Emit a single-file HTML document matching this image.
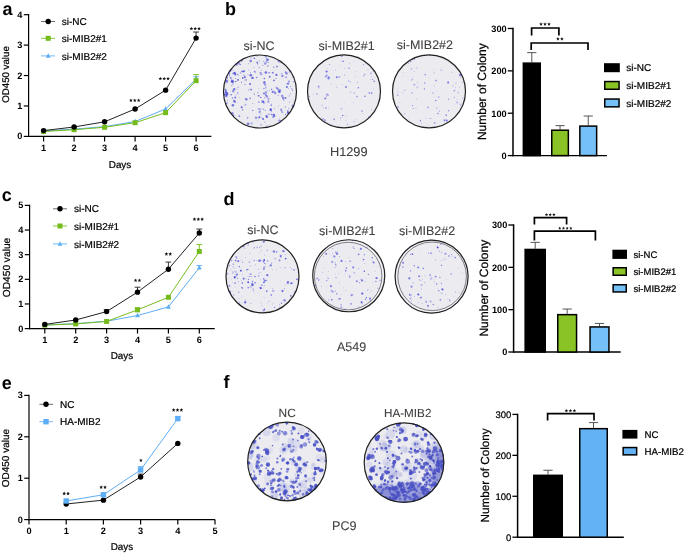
<!DOCTYPE html>
<html><head><meta charset="utf-8"><style>
html,body{margin:0;padding:0;background:#fff;}
svg{display:block;font-family:"Liberation Sans", sans-serif;will-change:transform;text-rendering:geometricPrecision;}
</style></head><body>
<svg width="685" height="553" viewBox="0 0 685 553">
<rect width="685" height="553" fill="#fff"/>
<line x1="28.6" y1="14.08" x2="28.6" y2="137" stroke="#000" stroke-width="1.2" />
<line x1="28" y1="136.4" x2="211.35" y2="136.4" stroke="#000" stroke-width="1.2" />
<line x1="23.8" y1="136.4" x2="28.6" y2="136.4" stroke="#000" stroke-width="1.2" />
<text x="22.4" y="139.4" font-size="9.2" text-anchor="end" font-weight="bold" fill="#000" >0</text>
<line x1="23.8" y1="105.97" x2="28.6" y2="105.97" stroke="#000" stroke-width="1.2" />
<text x="22.4" y="108.97" font-size="9.2" text-anchor="end" font-weight="bold" fill="#000" >1</text>
<line x1="23.8" y1="75.54" x2="28.6" y2="75.54" stroke="#000" stroke-width="1.2" />
<text x="22.4" y="78.54" font-size="9.2" text-anchor="end" font-weight="bold" fill="#000" >2</text>
<line x1="23.8" y1="45.11" x2="28.6" y2="45.11" stroke="#000" stroke-width="1.2" />
<text x="22.4" y="48.11" font-size="9.2" text-anchor="end" font-weight="bold" fill="#000" >3</text>
<line x1="23.8" y1="14.68" x2="28.6" y2="14.68" stroke="#000" stroke-width="1.2" />
<text x="22.4" y="17.68" font-size="9.2" text-anchor="end" font-weight="bold" fill="#000" >4</text>
<line x1="43.6" y1="136.4" x2="43.6" y2="141.4" stroke="#000" stroke-width="1.2" />
<text x="43.6" y="150.8" font-size="9.2" text-anchor="middle" font-weight="bold" fill="#000" >1</text>
<line x1="74.1" y1="136.4" x2="74.1" y2="141.4" stroke="#000" stroke-width="1.2" />
<text x="74.1" y="150.8" font-size="9.2" text-anchor="middle" font-weight="bold" fill="#000" >2</text>
<line x1="104.6" y1="136.4" x2="104.6" y2="141.4" stroke="#000" stroke-width="1.2" />
<text x="104.6" y="150.8" font-size="9.2" text-anchor="middle" font-weight="bold" fill="#000" >3</text>
<line x1="135.1" y1="136.4" x2="135.1" y2="141.4" stroke="#000" stroke-width="1.2" />
<text x="135.1" y="150.8" font-size="9.2" text-anchor="middle" font-weight="bold" fill="#000" >4</text>
<line x1="165.6" y1="136.4" x2="165.6" y2="141.4" stroke="#000" stroke-width="1.2" />
<text x="165.6" y="150.8" font-size="9.2" text-anchor="middle" font-weight="bold" fill="#000" >5</text>
<line x1="196.1" y1="136.4" x2="196.1" y2="141.4" stroke="#000" stroke-width="1.2" />
<text x="196.1" y="150.8" font-size="9.2" text-anchor="middle" font-weight="bold" fill="#000" >6</text>
<text x="120" y="167.8" font-size="9.9" text-anchor="middle" font-weight="normal" fill="#000" stroke="#000" stroke-width="0.22" >Days</text>
<text transform="translate(9.2,74.5) rotate(-90)" font-size="9.7" text-anchor="middle" stroke="#000" stroke-width="0.22">OD450 value</text>
<polyline points="43.6,130.92 74.1,129.1 104.6,126.66 135.1,121.49 165.6,109.01 196.1,79.19" fill="none" stroke="#5eaef5" stroke-width="1"/>
<line x1="196.1" y1="79.19" x2="196.1" y2="76.76" stroke="#5eaef5" stroke-width="0.9" />
<line x1="193.2" y1="76.76" x2="199" y2="76.76" stroke="#5eaef5" stroke-width="0.9" />
<path d="M43.6 128.19L46 132.75L41.2 132.75Z" fill="#5eaef5"/>
<path d="M74.1 126.36L76.5 130.92L71.7 130.92Z" fill="#5eaef5"/>
<path d="M104.6 123.93L107 128.49L102.2 128.49Z" fill="#5eaef5"/>
<path d="M135.1 118.75L137.5 123.31L132.7 123.31Z" fill="#5eaef5"/>
<path d="M165.6 106.28L168 110.84L163.2 110.84Z" fill="#5eaef5"/>
<path d="M196.1 76.46L198.5 81.02L193.7 81.02Z" fill="#5eaef5"/>
<polyline points="43.6,131.53 74.1,129.71 104.6,127.27 135.1,122.71 165.6,112.66 196.1,80.71" fill="none" stroke="#76bb1c" stroke-width="1"/>
<line x1="196.1" y1="80.71" x2="196.1" y2="74.63" stroke="#76bb1c" stroke-width="0.9" />
<line x1="193.2" y1="74.63" x2="199" y2="74.63" stroke="#76bb1c" stroke-width="0.9" />
<rect x="41.1" y="129.03" width="5" height="5" fill="#76bb1c"/>
<rect x="71.6" y="127.21" width="5" height="5" fill="#76bb1c"/>
<rect x="102.1" y="124.77" width="5" height="5" fill="#76bb1c"/>
<rect x="132.6" y="120.21" width="5" height="5" fill="#76bb1c"/>
<rect x="163.1" y="110.16" width="5" height="5" fill="#76bb1c"/>
<rect x="193.6" y="78.21" width="5" height="5" fill="#76bb1c"/>
<polyline points="43.6,130.62 74.1,126.97 104.6,121.79 135.1,109.01 165.6,90.15 196.1,38.11" fill="none" stroke="#222" stroke-width="1"/>
<line x1="196.1" y1="38.11" x2="196.1" y2="32.03" stroke="#222" stroke-width="0.9" />
<line x1="193.2" y1="32.03" x2="199" y2="32.03" stroke="#222" stroke-width="0.9" />
<circle cx="43.6" cy="130.62" r="2.7" fill="#000"/>
<circle cx="74.1" cy="126.97" r="2.7" fill="#000"/>
<circle cx="104.6" cy="121.79" r="2.7" fill="#000"/>
<circle cx="135.1" cy="109.01" r="2.7" fill="#000"/>
<circle cx="165.6" cy="90.15" r="2.7" fill="#000"/>
<circle cx="196.1" cy="38.11" r="2.7" fill="#000"/>
<path d="M130.95 98.40L131.47 99.64L132.80 99.75L131.78 100.62L132.10 101.93L130.95 101.23L129.80 101.93L130.12 100.62L129.10 99.75L130.43 99.64ZM134.80 98.40L135.32 99.64L136.65 99.75L135.63 100.62L135.95 101.93L134.80 101.23L133.65 101.93L133.97 100.62L132.95 99.75L134.28 99.64ZM138.65 98.40L139.17 99.64L140.50 99.75L139.48 100.62L139.80 101.93L138.65 101.23L137.50 101.93L137.82 100.62L136.80 99.75L138.13 99.64Z" fill="#111"/>
<path d="M160.35 76.70L160.87 77.94L162.20 78.05L161.18 78.92L161.50 80.23L160.35 79.53L159.20 80.23L159.52 78.92L158.50 78.05L159.83 77.94ZM164.20 76.70L164.72 77.94L166.05 78.05L165.03 78.92L165.35 80.23L164.20 79.53L163.05 80.23L163.37 78.92L162.35 78.05L163.68 77.94ZM168.05 76.70L168.57 77.94L169.90 78.05L168.88 78.92L169.20 80.23L168.05 79.53L166.90 80.23L167.22 78.92L166.20 78.05L167.53 77.94Z" fill="#111"/>
<path d="M191.35 26.70L191.87 27.94L193.20 28.05L192.18 28.92L192.50 30.23L191.35 29.53L190.20 30.23L190.52 28.92L189.50 28.05L190.83 27.94ZM195.20 26.70L195.72 27.94L197.05 28.05L196.03 28.92L196.35 30.23L195.20 29.53L194.05 30.23L194.37 28.92L193.35 28.05L194.68 27.94ZM199.05 26.70L199.57 27.94L200.90 28.05L199.88 28.92L200.20 30.23L199.05 29.53L197.90 30.23L198.22 28.92L197.20 28.05L198.53 27.94Z" fill="#111"/>
<line x1="41" y1="21.5" x2="55" y2="21.5" stroke="#555" stroke-width="0.85" />
<circle cx="48.2" cy="21.5" r="2.7" fill="#000"/>
<text x="61.8" y="25.1" font-size="10" text-anchor="start" font-weight="normal" fill="#000" stroke="#000" stroke-width="0.22" >si-NC</text>
<line x1="41" y1="38.3" x2="55" y2="38.3" stroke="#76bb1c" stroke-width="0.85" />
<rect x="45.7" y="35.8" width="5" height="5" fill="#76bb1c"/>
<text x="61.8" y="41.9" font-size="10" text-anchor="start" font-weight="normal" fill="#000" stroke="#000" stroke-width="0.22" >si-MIB2#1</text>
<line x1="41" y1="55.9" x2="55" y2="55.9" stroke="#5eaef5" stroke-width="0.85" />
<path d="M48.2 53.16L50.6 57.72L45.8 57.72Z" fill="#5eaef5"/>
<text x="61.8" y="59.5" font-size="10" text-anchor="start" font-weight="normal" fill="#000" stroke="#000" stroke-width="0.22" >si-MIB2#2</text>
<line x1="29.6" y1="204.8" x2="29.6" y2="329.2" stroke="#000" stroke-width="1.2" />
<line x1="29" y1="328.6" x2="214.75" y2="328.6" stroke="#000" stroke-width="1.2" />
<line x1="24.8" y1="328.6" x2="29.6" y2="328.6" stroke="#000" stroke-width="1.2" />
<text x="23.4" y="331.6" font-size="9.2" text-anchor="end" font-weight="bold" fill="#000" >0</text>
<line x1="24.8" y1="303.96" x2="29.6" y2="303.96" stroke="#000" stroke-width="1.2" />
<text x="23.4" y="306.96" font-size="9.2" text-anchor="end" font-weight="bold" fill="#000" >1</text>
<line x1="24.8" y1="279.32" x2="29.6" y2="279.32" stroke="#000" stroke-width="1.2" />
<text x="23.4" y="282.32" font-size="9.2" text-anchor="end" font-weight="bold" fill="#000" >2</text>
<line x1="24.8" y1="254.68" x2="29.6" y2="254.68" stroke="#000" stroke-width="1.2" />
<text x="23.4" y="257.68" font-size="9.2" text-anchor="end" font-weight="bold" fill="#000" >3</text>
<line x1="24.8" y1="230.04" x2="29.6" y2="230.04" stroke="#000" stroke-width="1.2" />
<text x="23.4" y="233.04" font-size="9.2" text-anchor="end" font-weight="bold" fill="#000" >4</text>
<line x1="24.8" y1="205.4" x2="29.6" y2="205.4" stroke="#000" stroke-width="1.2" />
<text x="23.4" y="208.4" font-size="9.2" text-anchor="end" font-weight="bold" fill="#000" >5</text>
<line x1="44.8" y1="328.6" x2="44.8" y2="333.6" stroke="#000" stroke-width="1.2" />
<text x="44.8" y="343" font-size="9.2" text-anchor="middle" font-weight="bold" fill="#000" >1</text>
<line x1="75.7" y1="328.6" x2="75.7" y2="333.6" stroke="#000" stroke-width="1.2" />
<text x="75.7" y="343" font-size="9.2" text-anchor="middle" font-weight="bold" fill="#000" >2</text>
<line x1="106.6" y1="328.6" x2="106.6" y2="333.6" stroke="#000" stroke-width="1.2" />
<text x="106.6" y="343" font-size="9.2" text-anchor="middle" font-weight="bold" fill="#000" >3</text>
<line x1="137.5" y1="328.6" x2="137.5" y2="333.6" stroke="#000" stroke-width="1.2" />
<text x="137.5" y="343" font-size="9.2" text-anchor="middle" font-weight="bold" fill="#000" >4</text>
<line x1="168.4" y1="328.6" x2="168.4" y2="333.6" stroke="#000" stroke-width="1.2" />
<text x="168.4" y="343" font-size="9.2" text-anchor="middle" font-weight="bold" fill="#000" >5</text>
<line x1="199.3" y1="328.6" x2="199.3" y2="333.6" stroke="#000" stroke-width="1.2" />
<text x="199.3" y="343" font-size="9.2" text-anchor="middle" font-weight="bold" fill="#000" >6</text>
<text x="121.9" y="358.6" font-size="9.9" text-anchor="middle" font-weight="normal" fill="#000" stroke="#000" stroke-width="0.22" >Days</text>
<text transform="translate(10.1,267.5) rotate(-90)" font-size="10.2" text-anchor="middle" stroke="#000" stroke-width="0.22">OD450 value</text>
<polyline points="44.8,324.9 75.7,323.67 106.6,321.21 137.5,315.54 168.4,306.92 199.3,267.74" fill="none" stroke="#5eaef5" stroke-width="1"/>
<line x1="199.3" y1="267.74" x2="199.3" y2="265.52" stroke="#5eaef5" stroke-width="0.9" />
<line x1="196.4" y1="265.52" x2="202.2" y2="265.52" stroke="#5eaef5" stroke-width="0.9" />
<path d="M44.8 322.17L47.2 326.73L42.4 326.73Z" fill="#5eaef5"/>
<path d="M75.7 320.94L78.1 325.5L73.3 325.5Z" fill="#5eaef5"/>
<path d="M106.6 318.47L109 323.03L104.2 323.03Z" fill="#5eaef5"/>
<path d="M137.5 312.8L139.9 317.36L135.1 317.36Z" fill="#5eaef5"/>
<path d="M168.4 304.18L170.8 308.74L166 308.74Z" fill="#5eaef5"/>
<path d="M199.3 265L201.7 269.56L196.9 269.56Z" fill="#5eaef5"/>
<polyline points="44.8,325.15 75.7,323.92 106.6,321.45 137.5,309.87 168.4,297.31 199.3,251.48" fill="none" stroke="#76bb1c" stroke-width="1"/>
<line x1="137.5" y1="309.87" x2="137.5" y2="307.9" stroke="#76bb1c" stroke-width="0.9" />
<line x1="134.6" y1="307.9" x2="140.4" y2="307.9" stroke="#76bb1c" stroke-width="0.9" />
<line x1="199.3" y1="251.48" x2="199.3" y2="244.58" stroke="#76bb1c" stroke-width="0.9" />
<line x1="196.4" y1="244.58" x2="202.2" y2="244.58" stroke="#76bb1c" stroke-width="0.9" />
<rect x="42.3" y="322.65" width="5" height="5" fill="#76bb1c"/>
<rect x="73.2" y="321.42" width="5" height="5" fill="#76bb1c"/>
<rect x="104.1" y="318.95" width="5" height="5" fill="#76bb1c"/>
<rect x="135" y="307.37" width="5" height="5" fill="#76bb1c"/>
<rect x="165.9" y="294.81" width="5" height="5" fill="#76bb1c"/>
<rect x="196.8" y="248.98" width="5" height="5" fill="#76bb1c"/>
<polyline points="44.8,324.41 75.7,319.98 106.6,311.6 137.5,292.13 168.4,269.22 199.3,233" fill="none" stroke="#222" stroke-width="1"/>
<line x1="106.6" y1="311.6" x2="106.6" y2="309.63" stroke="#222" stroke-width="0.9" />
<line x1="103.7" y1="309.63" x2="109.5" y2="309.63" stroke="#222" stroke-width="0.9" />
<line x1="137.5" y1="292.13" x2="137.5" y2="287.2" stroke="#222" stroke-width="0.9" />
<line x1="134.6" y1="287.2" x2="140.4" y2="287.2" stroke="#222" stroke-width="0.9" />
<line x1="168.4" y1="269.22" x2="168.4" y2="262.07" stroke="#222" stroke-width="0.9" />
<line x1="165.5" y1="262.07" x2="171.3" y2="262.07" stroke="#222" stroke-width="0.9" />
<line x1="199.3" y1="233" x2="199.3" y2="229.05" stroke="#222" stroke-width="0.9" />
<line x1="196.4" y1="229.05" x2="202.2" y2="229.05" stroke="#222" stroke-width="0.9" />
<circle cx="44.8" cy="324.41" r="2.7" fill="#000"/>
<circle cx="75.7" cy="319.98" r="2.7" fill="#000"/>
<circle cx="106.6" cy="311.6" r="2.7" fill="#000"/>
<circle cx="137.5" cy="292.13" r="2.7" fill="#000"/>
<circle cx="168.4" cy="269.22" r="2.7" fill="#000"/>
<circle cx="199.3" cy="233" r="2.7" fill="#000"/>
<path d="M135.57 278.40L136.09 279.64L137.43 279.75L136.41 280.62L136.72 281.93L135.57 281.23L134.43 281.93L134.74 280.62L133.72 279.75L135.06 279.64ZM139.42 278.40L139.94 279.64L141.28 279.75L140.26 280.62L140.57 281.93L139.42 281.23L138.28 281.93L138.59 280.62L137.57 279.75L138.91 279.64Z" fill="#111"/>
<path d="M166.38 252.10L166.89 253.34L168.23 253.45L167.21 254.32L167.52 255.63L166.38 254.93L165.23 255.63L165.54 254.32L164.52 253.45L165.86 253.34ZM170.22 252.10L170.74 253.34L172.08 253.45L171.06 254.32L171.37 255.63L170.22 254.93L169.08 255.63L169.39 254.32L168.37 253.45L169.71 253.34Z" fill="#111"/>
<path d="M194.45 217.30L194.97 218.54L196.30 218.65L195.28 219.52L195.60 220.83L194.45 220.13L193.30 220.83L193.62 219.52L192.60 218.65L193.93 218.54ZM198.30 217.30L198.82 218.54L200.15 218.65L199.13 219.52L199.45 220.83L198.30 220.13L197.15 220.83L197.47 219.52L196.45 218.65L197.78 218.54ZM202.15 217.30L202.67 218.54L204.00 218.65L202.98 219.52L203.30 220.83L202.15 220.13L201.00 220.83L201.32 219.52L200.30 218.65L201.63 218.54Z" fill="#111"/>
<line x1="53" y1="208.8" x2="67" y2="208.8" stroke="#555" stroke-width="0.85" />
<circle cx="60" cy="208.8" r="2.7" fill="#000"/>
<text x="74" y="212.4" font-size="10" text-anchor="start" font-weight="normal" fill="#000" stroke="#000" stroke-width="0.22" >si-NC</text>
<line x1="53" y1="226" x2="67" y2="226" stroke="#76bb1c" stroke-width="0.85" />
<rect x="57.5" y="223.5" width="5" height="5" fill="#76bb1c"/>
<text x="74" y="229.6" font-size="10" text-anchor="start" font-weight="normal" fill="#000" stroke="#000" stroke-width="0.22" >si-MIB2#1</text>
<line x1="53" y1="243.9" x2="67" y2="243.9" stroke="#5eaef5" stroke-width="0.85" />
<path d="M60 241.16L62.4 245.72L57.6 245.72Z" fill="#5eaef5"/>
<text x="74" y="247.5" font-size="10" text-anchor="start" font-weight="normal" fill="#000" stroke="#000" stroke-width="0.22" >si-MIB2#2</text>
<line x1="29" y1="394.8" x2="29" y2="520.2" stroke="#000" stroke-width="1.2" />
<line x1="28.4" y1="519.6" x2="215" y2="519.6" stroke="#000" stroke-width="1.2" />
<line x1="24.2" y1="519.6" x2="29" y2="519.6" stroke="#000" stroke-width="1.2" />
<text x="22.8" y="522.6" font-size="9.2" text-anchor="end" font-weight="bold" fill="#000" >0</text>
<line x1="24.2" y1="478.2" x2="29" y2="478.2" stroke="#000" stroke-width="1.2" />
<text x="22.8" y="481.2" font-size="9.2" text-anchor="end" font-weight="bold" fill="#000" >1</text>
<line x1="24.2" y1="436.8" x2="29" y2="436.8" stroke="#000" stroke-width="1.2" />
<text x="22.8" y="439.8" font-size="9.2" text-anchor="end" font-weight="bold" fill="#000" >2</text>
<line x1="24.2" y1="395.4" x2="29" y2="395.4" stroke="#000" stroke-width="1.2" />
<text x="22.8" y="398.4" font-size="9.2" text-anchor="end" font-weight="bold" fill="#000" >3</text>
<line x1="29" y1="519.6" x2="29" y2="524.6" stroke="#000" stroke-width="1.2" />
<text x="29" y="534" font-size="9.2" text-anchor="middle" font-weight="bold" fill="#000" >0</text>
<line x1="66.2" y1="519.6" x2="66.2" y2="524.6" stroke="#000" stroke-width="1.2" />
<text x="66.2" y="534" font-size="9.2" text-anchor="middle" font-weight="bold" fill="#000" >1</text>
<line x1="103.4" y1="519.6" x2="103.4" y2="524.6" stroke="#000" stroke-width="1.2" />
<text x="103.4" y="534" font-size="9.2" text-anchor="middle" font-weight="bold" fill="#000" >2</text>
<line x1="140.6" y1="519.6" x2="140.6" y2="524.6" stroke="#000" stroke-width="1.2" />
<text x="140.6" y="534" font-size="9.2" text-anchor="middle" font-weight="bold" fill="#000" >3</text>
<line x1="177.8" y1="519.6" x2="177.8" y2="524.6" stroke="#000" stroke-width="1.2" />
<text x="177.8" y="534" font-size="9.2" text-anchor="middle" font-weight="bold" fill="#000" >4</text>
<line x1="215" y1="519.6" x2="215" y2="524.6" stroke="#000" stroke-width="1.2" />
<text x="215" y="534" font-size="9.2" text-anchor="middle" font-weight="bold" fill="#000" >5</text>
<text x="121.9" y="549.7" font-size="9.9" text-anchor="middle" font-weight="normal" fill="#000" stroke="#000" stroke-width="0.22" >Days</text>
<text transform="translate(9.2,458.1) rotate(-90)" font-size="10" text-anchor="middle" stroke="#000" stroke-width="0.22">OD450 value</text>
<polyline points="66.2,503.99 103.4,500.14 140.6,476.96 177.8,443.42" fill="none" stroke="#222" stroke-width="1"/>
<line x1="140.6" y1="476.96" x2="140.6" y2="474.06" stroke="#222" stroke-width="0.9" />
<line x1="137.7" y1="474.06" x2="143.5" y2="474.06" stroke="#222" stroke-width="0.9" />
<circle cx="66.2" cy="503.99" r="2.7" fill="#000"/>
<circle cx="103.4" cy="500.14" r="2.7" fill="#000"/>
<circle cx="140.6" cy="476.96" r="2.7" fill="#000"/>
<circle cx="177.8" cy="443.42" r="2.7" fill="#000"/>
<polyline points="66.2,500.97 103.4,494.76 140.6,469.92 177.8,418.58" fill="none" stroke="#5eaef5" stroke-width="1"/>
<line x1="140.6" y1="469.92" x2="140.6" y2="466.61" stroke="#5eaef5" stroke-width="0.9" />
<line x1="137.7" y1="466.61" x2="143.5" y2="466.61" stroke="#5eaef5" stroke-width="0.9" />
<line x1="177.8" y1="418.58" x2="177.8" y2="416.51" stroke="#5eaef5" stroke-width="0.9" />
<line x1="174.9" y1="416.51" x2="180.7" y2="416.51" stroke="#5eaef5" stroke-width="0.9" />
<rect x="63.5" y="498.27" width="5.4" height="5.4" fill="#5eaef5"/>
<rect x="100.7" y="492.06" width="5.4" height="5.4" fill="#5eaef5"/>
<rect x="137.9" y="467.22" width="5.4" height="5.4" fill="#5eaef5"/>
<rect x="175.1" y="415.88" width="5.4" height="5.4" fill="#5eaef5"/>
<path d="M64.17 491.60L64.69 492.84L66.03 492.95L65.01 493.82L65.32 495.13L64.17 494.43L63.03 495.13L63.34 493.82L62.32 492.95L63.66 492.84ZM68.02 491.60L68.54 492.84L69.88 492.95L68.86 493.82L69.17 495.13L68.02 494.43L66.88 495.13L67.19 493.82L66.17 492.95L67.51 492.84Z" fill="#111"/>
<path d="M101.17 485.30L101.69 486.54L103.03 486.65L102.01 487.52L102.32 488.83L101.17 488.13L100.03 488.83L100.34 487.52L99.32 486.65L100.66 486.54ZM105.02 485.30L105.54 486.54L106.88 486.65L105.86 487.52L106.17 488.83L105.02 488.13L103.88 488.83L104.19 487.52L103.17 486.65L104.51 486.54Z" fill="#111"/>
<path d="M140.90 458.40L141.42 459.64L142.75 459.75L141.73 460.62L142.05 461.93L140.90 461.23L139.75 461.93L140.07 460.62L139.05 459.75L140.38 459.64Z" fill="#111"/>
<path d="M173.65 408.10L174.17 409.34L175.50 409.45L174.48 410.32L174.80 411.63L173.65 410.93L172.50 411.63L172.82 410.32L171.80 409.45L173.13 409.34ZM177.50 408.10L178.02 409.34L179.35 409.45L178.33 410.32L178.65 411.63L177.50 410.93L176.35 411.63L176.67 410.32L175.65 409.45L176.98 409.34ZM181.35 408.10L181.87 409.34L183.20 409.45L182.18 410.32L182.50 411.63L181.35 410.93L180.20 411.63L180.52 410.32L179.50 409.45L180.83 409.34Z" fill="#111"/>
<line x1="39.4" y1="404.3" x2="53" y2="404.3" stroke="#555" stroke-width="0.85" />
<circle cx="46" cy="404.3" r="2.7" fill="#000"/>
<text x="60" y="407.9" font-size="10" text-anchor="start" font-weight="normal" fill="#000" stroke="#000" stroke-width="0.22" >NC</text>
<line x1="39.4" y1="421.7" x2="53" y2="421.7" stroke="#5eaef5" stroke-width="0.85" />
<rect x="43.3" y="419" width="5.4" height="5.4" fill="#5eaef5"/>
<text x="60" y="425.3" font-size="10" text-anchor="start" font-weight="normal" fill="#000" stroke="#000" stroke-width="0.22" >HA-MIB2</text>
<line x1="513" y1="27.79" x2="513" y2="156.3" stroke="#000" stroke-width="1.5" />
<line x1="512.3" y1="155.6" x2="607" y2="155.6" stroke="#000" stroke-width="1.4" />
<line x1="507.8" y1="155.6" x2="513" y2="155.6" stroke="#000" stroke-width="1.3" />
<text x="506.7" y="158.9" font-size="9.2" text-anchor="end" font-weight="bold" fill="#000" >0</text>
<line x1="507.8" y1="113.23" x2="513" y2="113.23" stroke="#000" stroke-width="1.3" />
<text x="506.7" y="116.53" font-size="9.2" text-anchor="end" font-weight="bold" fill="#000" >100</text>
<line x1="507.8" y1="70.86" x2="513" y2="70.86" stroke="#000" stroke-width="1.3" />
<text x="506.7" y="74.16" font-size="9.2" text-anchor="end" font-weight="bold" fill="#000" >200</text>
<line x1="507.8" y1="28.49" x2="513" y2="28.49" stroke="#000" stroke-width="1.3" />
<text x="506.7" y="31.79" font-size="9.2" text-anchor="end" font-weight="bold" fill="#000" >300</text>
<line x1="531.8" y1="62.39" x2="531.8" y2="52.64" stroke="#555" stroke-width="1" />
<line x1="527.2" y1="52.64" x2="536.4" y2="52.64" stroke="#555" stroke-width="1" />
<rect x="523.35" y="63.14" width="16.9" height="92.46" fill="#000" stroke="#000" stroke-width="1.5"/>
<line x1="560.05" y1="129.46" x2="560.05" y2="125.64" stroke="#555" stroke-width="1" />
<line x1="555.45" y1="125.64" x2="564.65" y2="125.64" stroke="#555" stroke-width="1" />
<rect x="551.75" y="130.21" width="16.6" height="25.39" fill="#8ac326" stroke="#000" stroke-width="1.5"/>
<line x1="588.25" y1="125.35" x2="588.25" y2="116.03" stroke="#555" stroke-width="1" />
<line x1="583.65" y1="116.03" x2="592.85" y2="116.03" stroke="#555" stroke-width="1" />
<rect x="579.85" y="126.1" width="16.8" height="29.5" fill="#74c0f7" stroke="#000" stroke-width="1.5"/>
<path d="M531.6 35.6V28H558.9V35.6" fill="none" stroke="#000" stroke-width="1.7"/>
<path d="M541.00 22.30L541.49 23.48L542.76 23.58L541.79 24.41L542.09 25.65L541.00 24.98L539.91 25.65L540.21 24.41L539.24 23.58L540.51 23.48ZM545.00 22.30L545.49 23.48L546.76 23.58L545.79 24.41L546.09 25.65L545.00 24.98L543.91 25.65L544.21 24.41L543.24 23.58L544.51 23.48ZM549.00 22.30L549.49 23.48L550.76 23.58L549.79 24.41L550.09 25.65L549.00 24.98L547.91 25.65L548.21 24.41L547.24 23.58L548.51 23.48Z" fill="#111"/>
<path d="M531.2 50V43H588V50" fill="none" stroke="#000" stroke-width="1.7"/>
<path d="M557.90 37.10L558.39 38.28L559.66 38.38L558.69 39.21L558.99 40.45L557.90 39.78L556.81 40.45L557.11 39.21L556.14 38.38L557.41 38.28ZM561.90 37.10L562.39 38.28L563.66 38.38L562.69 39.21L562.99 40.45L561.90 39.78L560.81 40.45L561.11 39.21L560.14 38.38L561.41 38.28Z" fill="#111"/>
<rect x="604.75" y="63.95" width="14.3" height="7.5" fill="#000" stroke="#000" stroke-width="1.5"/>
<text x="626.3" y="71.3" font-size="10" text-anchor="start" font-weight="normal" fill="#000" stroke="#000" stroke-width="0.22" >si-NC</text>
<rect x="604.75" y="81.55" width="14.3" height="7.7" fill="#8ac326" stroke="#000" stroke-width="1.5"/>
<text x="626.3" y="89.1" font-size="10" text-anchor="start" font-weight="normal" fill="#000" stroke="#000" stroke-width="0.22" >si-MIB2#1</text>
<rect x="604.75" y="99.05" width="14.3" height="7.8" fill="#74c0f7" stroke="#000" stroke-width="1.5"/>
<text x="626.3" y="106.7" font-size="10" text-anchor="start" font-weight="normal" fill="#000" stroke="#000" stroke-width="0.22" >si-MIB2#2</text>
<text transform="translate(485.8,91.7) rotate(-90)" font-size="12" text-anchor="middle" stroke="#000" stroke-width="0.22">Number of Colony</text>
<line x1="513.6" y1="224.31" x2="513.6" y2="352.7" stroke="#000" stroke-width="1.5" />
<line x1="512.9" y1="352" x2="620.7" y2="352" stroke="#000" stroke-width="1.4" />
<line x1="508.4" y1="352" x2="513.6" y2="352" stroke="#000" stroke-width="1.3" />
<text x="507.3" y="355.3" font-size="9.2" text-anchor="end" font-weight="bold" fill="#000" >0</text>
<line x1="508.4" y1="309.67" x2="513.6" y2="309.67" stroke="#000" stroke-width="1.3" />
<text x="507.3" y="312.97" font-size="9.2" text-anchor="end" font-weight="bold" fill="#000" >100</text>
<line x1="508.4" y1="267.34" x2="513.6" y2="267.34" stroke="#000" stroke-width="1.3" />
<text x="507.3" y="270.64" font-size="9.2" text-anchor="end" font-weight="bold" fill="#000" >200</text>
<line x1="508.4" y1="225.01" x2="513.6" y2="225.01" stroke="#000" stroke-width="1.3" />
<text x="507.3" y="228.31" font-size="9.2" text-anchor="end" font-weight="bold" fill="#000" >300</text>
<line x1="535.2" y1="248.71" x2="535.2" y2="242.37" stroke="#555" stroke-width="1" />
<line x1="530.6" y1="242.37" x2="539.8" y2="242.37" stroke="#555" stroke-width="1" />
<rect x="525.15" y="249.46" width="20.1" height="102.54" fill="#000" stroke="#000" stroke-width="1.5"/>
<line x1="567.15" y1="313.9" x2="567.15" y2="309.04" stroke="#555" stroke-width="1" />
<line x1="562.55" y1="309.04" x2="571.75" y2="309.04" stroke="#555" stroke-width="1" />
<rect x="557.75" y="314.65" width="18.8" height="37.35" fill="#8ac326" stroke="#000" stroke-width="1.5"/>
<line x1="599.5" y1="326.18" x2="599.5" y2="323.43" stroke="#555" stroke-width="1" />
<line x1="594.9" y1="323.43" x2="604.1" y2="323.43" stroke="#555" stroke-width="1" />
<rect x="590.05" y="326.93" width="18.9" height="25.07" fill="#74c0f7" stroke="#000" stroke-width="1.5"/>
<path d="M534.4 224.4V217.6H566.6V224.4" fill="none" stroke="#000" stroke-width="1.7"/>
<path d="M546.50 212.95L546.95 214.03L548.12 214.12L547.23 214.89L547.50 216.03L546.50 215.41L545.50 216.03L545.77 214.89L544.88 214.12L546.05 214.03ZM550.20 212.95L550.65 214.03L551.82 214.12L550.93 214.89L551.20 216.03L550.20 215.41L549.20 216.03L549.47 214.89L548.58 214.12L549.75 214.03ZM553.90 212.95L554.35 214.03L555.52 214.12L554.63 214.89L554.90 216.03L553.90 215.41L552.90 216.03L553.17 214.89L552.28 214.12L553.45 214.03Z" fill="#111"/>
<path d="M534.4 240.6V231.1H595.4V240.6" fill="none" stroke="#000" stroke-width="1.7"/>
<path d="M559.75 226.55L560.20 227.63L561.37 227.72L560.48 228.49L560.75 229.63L559.75 229.01L558.75 229.63L559.02 228.49L558.13 227.72L559.30 227.63ZM563.45 226.55L563.90 227.63L565.07 227.72L564.18 228.49L564.45 229.63L563.45 229.01L562.45 229.63L562.72 228.49L561.83 227.72L563.00 227.63ZM567.15 226.55L567.60 227.63L568.77 227.72L567.88 228.49L568.15 229.63L567.15 229.01L566.15 229.63L566.42 228.49L565.53 227.72L566.70 227.63ZM570.85 226.55L571.30 227.63L572.47 227.72L571.58 228.49L571.85 229.63L570.85 229.01L569.85 229.63L570.12 228.49L569.23 227.72L570.40 227.63Z" fill="#111"/>
<rect x="613.15" y="250.45" width="13.1" height="7.7" fill="#000" stroke="#000" stroke-width="1.5"/>
<text x="633.5" y="258" font-size="9.5" text-anchor="start" font-weight="normal" fill="#000" stroke="#000" stroke-width="0.22" >si-NC</text>
<rect x="613.15" y="267.75" width="13.1" height="7.5" fill="#8ac326" stroke="#000" stroke-width="1.5"/>
<text x="633.5" y="275.1" font-size="9.5" text-anchor="start" font-weight="normal" fill="#000" stroke="#000" stroke-width="0.22" >si-MIB2#1</text>
<rect x="613.15" y="284.75" width="13.1" height="7.2" fill="#74c0f7" stroke="#000" stroke-width="1.5"/>
<text x="633.5" y="291.8" font-size="9.5" text-anchor="start" font-weight="normal" fill="#000" stroke="#000" stroke-width="0.22" >si-MIB2#2</text>
<text transform="translate(488,288.2) rotate(-90)" font-size="12" text-anchor="middle" stroke="#000" stroke-width="0.22">Number of Colony</text>
<line x1="517.6" y1="413.71" x2="517.6" y2="537.9" stroke="#000" stroke-width="1.5" />
<line x1="516.9" y1="537.2" x2="623.8" y2="537.2" stroke="#000" stroke-width="1.4" />
<line x1="512.4" y1="537.2" x2="517.6" y2="537.2" stroke="#000" stroke-width="1.3" />
<text x="511.3" y="540.5" font-size="9.5" text-anchor="end" font-weight="normal" fill="#000" stroke="#000" stroke-width="0.22" >0</text>
<line x1="512.4" y1="496.27" x2="517.6" y2="496.27" stroke="#000" stroke-width="1.3" />
<text x="511.3" y="499.57" font-size="9.5" text-anchor="end" font-weight="normal" fill="#000" stroke="#000" stroke-width="0.22" >100</text>
<line x1="512.4" y1="455.34" x2="517.6" y2="455.34" stroke="#000" stroke-width="1.3" />
<text x="511.3" y="458.64" font-size="9.5" text-anchor="end" font-weight="normal" fill="#000" stroke="#000" stroke-width="0.22" >200</text>
<line x1="512.4" y1="414.41" x2="517.6" y2="414.41" stroke="#000" stroke-width="1.3" />
<text x="511.3" y="417.71" font-size="9.5" text-anchor="end" font-weight="normal" fill="#000" stroke="#000" stroke-width="0.22" >300</text>
<line x1="548" y1="474.58" x2="548" y2="470.28" stroke="#555" stroke-width="1" />
<line x1="543.4" y1="470.28" x2="552.6" y2="470.28" stroke="#555" stroke-width="1" />
<rect x="533.75" y="475.33" width="28.5" height="61.87" fill="#000" stroke="#000" stroke-width="1.5"/>
<line x1="593.5" y1="427.92" x2="593.5" y2="422.6" stroke="#555" stroke-width="1" />
<line x1="588.9" y1="422.6" x2="598.1" y2="422.6" stroke="#555" stroke-width="1" />
<rect x="579.75" y="428.67" width="27.5" height="108.53" fill="#63b2f5" stroke="#000" stroke-width="1.5"/>
<path d="M547.6 420.4V413.6H594V420.4" fill="none" stroke="#000" stroke-width="1.7"/>
<path d="M566.40 408.90L566.89 410.08L568.16 410.18L567.19 411.01L567.49 412.25L566.40 411.58L565.31 412.25L565.61 411.01L564.64 410.18L565.91 410.08ZM570.40 408.90L570.89 410.08L572.16 410.18L571.19 411.01L571.49 412.25L570.40 411.58L569.31 412.25L569.61 411.01L568.64 410.18L569.91 410.08ZM574.40 408.90L574.89 410.08L576.16 410.18L575.19 411.01L575.49 412.25L574.40 411.58L573.31 412.25L573.61 411.01L572.64 410.18L573.91 410.08Z" fill="#111"/>
<rect x="623.15" y="430.65" width="13.5" height="7.2" fill="#000" stroke="#000" stroke-width="1.5"/>
<text x="644.5" y="437.7" font-size="9.7" text-anchor="start" font-weight="normal" fill="#000" stroke="#000" stroke-width="0.22" >NC</text>
<rect x="623.15" y="447.55" width="13.5" height="7.3" fill="#63b2f5" stroke="#000" stroke-width="1.5"/>
<text x="644.5" y="454.7" font-size="9.7" text-anchor="start" font-weight="normal" fill="#000" stroke="#000" stroke-width="0.22" >HA-MIB2</text>
<text transform="translate(488.6,475.4) rotate(-90)" font-size="11.7" text-anchor="middle" stroke="#000" stroke-width="0.22">Number of Colony</text>
<defs><filter id="bl4" x="-20%" y="-20%" width="140%" height="140%"><feGaussianBlur stdDeviation="3"/></filter></defs>
<text x="259" y="50" font-size="12.5" text-anchor="middle" font-weight="normal" fill="#404040" stroke="#404040" stroke-width="0.08" >si-NC</text>
<text x="346.6" y="50" font-size="12.5" text-anchor="middle" font-weight="normal" fill="#404040" stroke="#404040" stroke-width="0.08" >si-MIB2#1</text>
<text x="424.9" y="49" font-size="12.5" text-anchor="middle" font-weight="normal" fill="#404040" stroke="#404040" stroke-width="0.08" >si-MIB2#2</text>
<text x="348.75" y="155.8" font-size="12.8" text-anchor="middle" font-weight="normal" fill="#404040" stroke="#404040" stroke-width="0.08" >H1299</text>
<clipPath id="c1"><circle cx="260" cy="91.5" r="37"/></clipPath>
<circle cx="260" cy="91.5" r="37" fill="#ebebf0"/>
<g clip-path="url(#c1)">
<g>
<circle cx="259.2" cy="117.5" r="0.83" fill="#4d4dd8" fill-opacity="0.76"/>
<circle cx="259.6" cy="117.4" r="0.67" fill="#4d4dd8" fill-opacity="0.76"/>
<circle cx="265.8" cy="92.6" r="1.24" fill="#4d4dd8" fill-opacity="0.53"/>
<circle cx="254.4" cy="94.5" r="0.62" fill="#4d4dd8" fill-opacity="0.60"/>
<circle cx="262.1" cy="108.7" r="0.53" fill="#4d4dd8" fill-opacity="0.33"/>
<circle cx="232.2" cy="81.2" r="1.34" fill="#4d4dd8" fill-opacity="0.80"/>
<circle cx="232.7" cy="81.7" r="1.17" fill="#4d4dd8" fill-opacity="0.80"/>
<circle cx="274.9" cy="69.9" r="0.45" fill="#4d4dd8" fill-opacity="0.46"/>
<circle cx="246.8" cy="99.4" r="0.89" fill="#4d4dd8" fill-opacity="0.70"/>
<circle cx="237.0" cy="88.5" r="0.45" fill="#4d4dd8" fill-opacity="0.34"/>
<circle cx="288.3" cy="88.5" r="0.48" fill="#4d4dd8" fill-opacity="0.60"/>
<circle cx="237.9" cy="79.7" r="0.72" fill="#4d4dd8" fill-opacity="0.86"/>
<circle cx="238.2" cy="80.2" r="0.57" fill="#4d4dd8" fill-opacity="0.86"/>
<circle cx="238.2" cy="79.7" r="0.52" fill="#4d4dd8" fill-opacity="0.86"/>
<circle cx="245.0" cy="84.5" r="0.66" fill="#4d4dd8" fill-opacity="0.52"/>
<circle cx="254.0" cy="93.1" r="0.48" fill="#4d4dd8" fill-opacity="0.65"/>
<circle cx="264.1" cy="93.9" r="0.96" fill="#4d4dd8" fill-opacity="0.46"/>
<circle cx="263.9" cy="93.2" r="0.54" fill="#4d4dd8" fill-opacity="0.46"/>
<circle cx="264.2" cy="93.4" r="0.59" fill="#4d4dd8" fill-opacity="0.46"/>
<circle cx="254.0" cy="67.3" r="0.65" fill="#4d4dd8" fill-opacity="0.33"/>
<circle cx="245.9" cy="99.1" r="1.18" fill="#4d4dd8" fill-opacity="0.61"/>
<circle cx="233.7" cy="70.9" r="0.45" fill="#4d4dd8" fill-opacity="0.40"/>
<circle cx="267.9" cy="66.1" r="0.83" fill="#4d4dd8" fill-opacity="0.54"/>
<circle cx="247.3" cy="118.0" r="0.53" fill="#4d4dd8" fill-opacity="0.86"/>
<circle cx="248.1" cy="123.7" r="1.24" fill="#4d4dd8" fill-opacity="0.74"/>
<circle cx="290.6" cy="86.4" r="0.58" fill="#4d4dd8" fill-opacity="0.51"/>
<circle cx="248.8" cy="69.9" r="0.46" fill="#4d4dd8" fill-opacity="0.69"/>
<circle cx="264.0" cy="88.6" r="0.55" fill="#4d4dd8" fill-opacity="0.87"/>
<circle cx="278.7" cy="61.1" r="1.15" fill="#4d4dd8" fill-opacity="0.70"/>
<circle cx="272.2" cy="72.6" r="0.53" fill="#4d4dd8" fill-opacity="0.81"/>
<circle cx="293.4" cy="81.6" r="0.72" fill="#4d4dd8" fill-opacity="0.38"/>
<circle cx="293.8" cy="82.0" r="0.60" fill="#4d4dd8" fill-opacity="0.38"/>
<circle cx="239.9" cy="110.9" r="0.46" fill="#4d4dd8" fill-opacity="0.47"/>
<circle cx="227.3" cy="77.5" r="0.52" fill="#4d4dd8" fill-opacity="0.76"/>
<circle cx="290.2" cy="93.9" r="0.46" fill="#4d4dd8" fill-opacity="0.82"/>
<circle cx="290.6" cy="93.8" r="0.25" fill="#4d4dd8" fill-opacity="0.82"/>
<circle cx="288.2" cy="112.8" r="1.30" fill="#4d4dd8" fill-opacity="0.83"/>
<circle cx="259.5" cy="117.0" r="0.83" fill="#4d4dd8" fill-opacity="0.34"/>
<circle cx="259.2" cy="117.2" r="0.57" fill="#4d4dd8" fill-opacity="0.34"/>
<circle cx="259.2" cy="116.5" r="0.72" fill="#4d4dd8" fill-opacity="0.34"/>
<circle cx="295.8" cy="84.6" r="0.49" fill="#4d4dd8" fill-opacity="0.67"/>
<circle cx="258.4" cy="118.7" r="0.50" fill="#4d4dd8" fill-opacity="0.37"/>
<circle cx="237.7" cy="63.4" r="0.53" fill="#4d4dd8" fill-opacity="0.50"/>
<circle cx="280.0" cy="62.8" r="0.55" fill="#4d4dd8" fill-opacity="0.62"/>
<circle cx="244.9" cy="81.1" r="0.50" fill="#4d4dd8" fill-opacity="0.36"/>
<circle cx="251.6" cy="123.4" r="1.12" fill="#4d4dd8" fill-opacity="0.41"/>
<circle cx="269.1" cy="72.7" r="0.69" fill="#4d4dd8" fill-opacity="0.83"/>
<circle cx="259.3" cy="60.8" r="0.62" fill="#4d4dd8" fill-opacity="0.41"/>
<circle cx="250.8" cy="75.3" r="1.29" fill="#4d4dd8" fill-opacity="0.77"/>
<circle cx="227.0" cy="82.7" r="0.59" fill="#4d4dd8" fill-opacity="0.51"/>
<circle cx="289.4" cy="96.0" r="0.74" fill="#4d4dd8" fill-opacity="0.35"/>
<circle cx="268.5" cy="101.5" r="1.07" fill="#4d4dd8" fill-opacity="0.54"/>
<circle cx="246.4" cy="79.9" r="0.70" fill="#4d4dd8" fill-opacity="0.60"/>
<circle cx="261.9" cy="117.5" r="0.50" fill="#4d4dd8" fill-opacity="0.55"/>
<circle cx="289.6" cy="71.9" r="0.83" fill="#4d4dd8" fill-opacity="0.35"/>
<circle cx="290.1" cy="71.5" r="0.67" fill="#4d4dd8" fill-opacity="0.35"/>
<circle cx="290.1" cy="71.7" r="0.64" fill="#4d4dd8" fill-opacity="0.35"/>
<circle cx="288.9" cy="69.6" r="0.48" fill="#4d4dd8" fill-opacity="0.46"/>
<circle cx="230.8" cy="77.9" r="0.87" fill="#4d4dd8" fill-opacity="0.72"/>
<circle cx="226.5" cy="103.5" r="0.58" fill="#4d4dd8" fill-opacity="0.77"/>
<circle cx="270.8" cy="109.7" r="1.19" fill="#4d4dd8" fill-opacity="0.86"/>
<circle cx="270.6" cy="108.9" r="0.74" fill="#4d4dd8" fill-opacity="0.86"/>
<circle cx="270.3" cy="110.1" r="0.60" fill="#4d4dd8" fill-opacity="0.86"/>
<circle cx="269.0" cy="114.3" r="0.80" fill="#4d4dd8" fill-opacity="0.66"/>
<circle cx="265.3" cy="110.5" r="0.52" fill="#4d4dd8" fill-opacity="0.65"/>
<circle cx="286.9" cy="87.0" r="1.11" fill="#4d4dd8" fill-opacity="0.75"/>
<circle cx="245.4" cy="104.7" r="1.04" fill="#4d4dd8" fill-opacity="0.39"/>
<circle cx="225.1" cy="81.3" r="1.30" fill="#4d4dd8" fill-opacity="0.40"/>
<circle cx="241.5" cy="82.4" r="0.56" fill="#4d4dd8" fill-opacity="0.62"/>
<circle cx="241.4" cy="82.2" r="0.37" fill="#4d4dd8" fill-opacity="0.62"/>
<circle cx="266.3" cy="61.6" r="0.83" fill="#4d4dd8" fill-opacity="0.53"/>
<circle cx="279.5" cy="92.0" r="1.15" fill="#4d4dd8" fill-opacity="0.78"/>
<circle cx="238.2" cy="87.2" r="0.59" fill="#4d4dd8" fill-opacity="0.56"/>
<circle cx="285.7" cy="72.3" r="0.95" fill="#4d4dd8" fill-opacity="0.68"/>
<circle cx="242.8" cy="78.0" r="0.90" fill="#4d4dd8" fill-opacity="0.81"/>
<circle cx="279.5" cy="119.1" r="0.65" fill="#4d4dd8" fill-opacity="0.35"/>
<circle cx="259.2" cy="67.5" r="0.84" fill="#4d4dd8" fill-opacity="0.33"/>
<circle cx="289.0" cy="81.3" r="0.88" fill="#4d4dd8" fill-opacity="0.66"/>
<circle cx="269.1" cy="125.1" r="0.46" fill="#4d4dd8" fill-opacity="0.79"/>
<circle cx="263.1" cy="119.0" r="1.01" fill="#4d4dd8" fill-opacity="0.81"/>
<circle cx="245.0" cy="77.0" r="0.97" fill="#4d4dd8" fill-opacity="0.76"/>
<circle cx="226.8" cy="103.8" r="0.78" fill="#4d4dd8" fill-opacity="0.47"/>
<circle cx="239.4" cy="116.1" r="0.91" fill="#4d4dd8" fill-opacity="0.72"/>
<circle cx="278.3" cy="105.9" r="0.46" fill="#4d4dd8" fill-opacity="0.42"/>
<circle cx="278.6" cy="105.7" r="0.24" fill="#4d4dd8" fill-opacity="0.42"/>
<circle cx="278.4" cy="106.2" r="0.41" fill="#4d4dd8" fill-opacity="0.42"/>
<circle cx="282.7" cy="112.3" r="0.59" fill="#4d4dd8" fill-opacity="0.60"/>
<circle cx="232.6" cy="98.1" r="0.91" fill="#4d4dd8" fill-opacity="0.50"/>
<circle cx="291.1" cy="71.6" r="1.02" fill="#4d4dd8" fill-opacity="0.80"/>
<circle cx="280.4" cy="120.4" r="0.47" fill="#4d4dd8" fill-opacity="0.69"/>
<circle cx="280.1" cy="120.4" r="0.39" fill="#4d4dd8" fill-opacity="0.69"/>
<circle cx="265.8" cy="87.6" r="1.09" fill="#4d4dd8" fill-opacity="0.34"/>
<circle cx="268.3" cy="99.0" r="0.82" fill="#4d4dd8" fill-opacity="0.74"/>
<circle cx="277.0" cy="66.6" r="0.81" fill="#4d4dd8" fill-opacity="0.86"/>
<circle cx="235.2" cy="81.6" r="0.56" fill="#4d4dd8" fill-opacity="0.55"/>
<circle cx="265.1" cy="84.7" r="1.04" fill="#4d4dd8" fill-opacity="0.58"/>
<circle cx="267.4" cy="90.8" r="0.63" fill="#4d4dd8" fill-opacity="0.39"/>
<circle cx="250.9" cy="58.0" r="0.70" fill="#4d4dd8" fill-opacity="0.37"/>
<circle cx="265.9" cy="95.0" r="0.93" fill="#4d4dd8" fill-opacity="0.50"/>
<circle cx="266.3" cy="95.5" r="0.58" fill="#4d4dd8" fill-opacity="0.50"/>
<circle cx="265.8" cy="94.6" r="0.67" fill="#4d4dd8" fill-opacity="0.50"/>
<circle cx="287.2" cy="83.8" r="0.83" fill="#4d4dd8" fill-opacity="0.57"/>
<circle cx="225.8" cy="83.7" r="0.53" fill="#4d4dd8" fill-opacity="0.41"/>
<circle cx="248.6" cy="90.0" r="0.75" fill="#4d4dd8" fill-opacity="0.34"/>
<circle cx="247.9" cy="74.7" r="0.56" fill="#4d4dd8" fill-opacity="0.50"/>
<circle cx="233.2" cy="91.3" r="1.20" fill="#4d4dd8" fill-opacity="0.50"/>
<circle cx="293.2" cy="106.9" r="1.20" fill="#4d4dd8" fill-opacity="0.84"/>
<circle cx="264.3" cy="78.6" r="0.75" fill="#4d4dd8" fill-opacity="0.88"/>
<circle cx="250.7" cy="60.9" r="1.25" fill="#4d4dd8" fill-opacity="0.68"/>
<circle cx="224.3" cy="99.6" r="0.48" fill="#4d4dd8" fill-opacity="0.40"/>
<circle cx="227.5" cy="78.0" r="0.60" fill="#4d4dd8" fill-opacity="0.73"/>
<circle cx="227.5" cy="77.7" r="0.33" fill="#4d4dd8" fill-opacity="0.73"/>
<circle cx="257.8" cy="120.8" r="0.46" fill="#4d4dd8" fill-opacity="0.36"/>
<circle cx="232.9" cy="105.2" r="1.25" fill="#4d4dd8" fill-opacity="0.77"/>
<circle cx="274.5" cy="57.5" r="0.49" fill="#4d4dd8" fill-opacity="0.74"/>
<circle cx="234.3" cy="89.2" r="1.15" fill="#4d4dd8" fill-opacity="0.77"/>
<circle cx="293.1" cy="100.0" r="0.48" fill="#4d4dd8" fill-opacity="0.49"/>
<circle cx="272.8" cy="91.9" r="1.16" fill="#4d4dd8" fill-opacity="0.74"/>
<circle cx="233.0" cy="84.0" r="0.70" fill="#4d4dd8" fill-opacity="0.62"/>
<circle cx="252.8" cy="110.5" r="0.76" fill="#4d4dd8" fill-opacity="0.63"/>
<circle cx="257.6" cy="63.8" r="0.60" fill="#4d4dd8" fill-opacity="0.84"/>
<circle cx="273.0" cy="72.7" r="1.02" fill="#4d4dd8" fill-opacity="0.53"/>
<circle cx="238.7" cy="94.0" r="0.46" fill="#4d4dd8" fill-opacity="0.52"/>
<circle cx="275.2" cy="93.2" r="1.11" fill="#4d4dd8" fill-opacity="0.65"/>
<circle cx="278.8" cy="91.2" r="0.94" fill="#4d4dd8" fill-opacity="0.71"/>
<circle cx="223.6" cy="93.5" r="0.46" fill="#4d4dd8" fill-opacity="0.39"/>
<circle cx="260.8" cy="97.4" r="0.66" fill="#4d4dd8" fill-opacity="0.85"/>
<circle cx="254.4" cy="58.2" r="0.79" fill="#4d4dd8" fill-opacity="0.88"/>
<circle cx="271.7" cy="89.2" r="0.61" fill="#4d4dd8" fill-opacity="0.70"/>
<circle cx="271.5" cy="89.2" r="0.50" fill="#4d4dd8" fill-opacity="0.70"/>
<circle cx="285.5" cy="114.3" r="0.58" fill="#4d4dd8" fill-opacity="0.83"/>
<circle cx="279.9" cy="90.5" r="1.17" fill="#4d4dd8" fill-opacity="0.63"/>
<circle cx="261.3" cy="70.1" r="0.45" fill="#4d4dd8" fill-opacity="0.87"/>
<circle cx="292.5" cy="75.1" r="0.71" fill="#4d4dd8" fill-opacity="0.57"/>
<circle cx="269.7" cy="76.7" r="0.90" fill="#4d4dd8" fill-opacity="0.55"/>
<circle cx="269.8" cy="76.9" r="0.79" fill="#4d4dd8" fill-opacity="0.55"/>
<circle cx="231.7" cy="85.6" r="0.60" fill="#4d4dd8" fill-opacity="0.48"/>
<circle cx="258.2" cy="108.5" r="0.65" fill="#4d4dd8" fill-opacity="0.51"/>
<circle cx="251.3" cy="89.6" r="0.88" fill="#4d4dd8" fill-opacity="0.68"/>
<circle cx="276.1" cy="78.4" r="0.55" fill="#4d4dd8" fill-opacity="0.39"/>
<circle cx="275.8" cy="78.4" r="0.43" fill="#4d4dd8" fill-opacity="0.39"/>
<circle cx="231.8" cy="79.7" r="0.49" fill="#4d4dd8" fill-opacity="0.64"/>
<circle cx="257.9" cy="92.6" r="0.53" fill="#4d4dd8" fill-opacity="0.66"/>
<circle cx="258.0" cy="93.0" r="0.34" fill="#4d4dd8" fill-opacity="0.66"/>
<circle cx="238.6" cy="75.7" r="0.55" fill="#4d4dd8" fill-opacity="0.40"/>
<circle cx="263.8" cy="61.2" r="0.46" fill="#4d4dd8" fill-opacity="0.73"/>
<circle cx="263.7" cy="60.9" r="0.23" fill="#4d4dd8" fill-opacity="0.73"/>
<circle cx="256.1" cy="117.8" r="1.26" fill="#4d4dd8" fill-opacity="0.52"/>
<circle cx="240.5" cy="73.0" r="0.71" fill="#4d4dd8" fill-opacity="0.54"/>
<circle cx="241.6" cy="71.2" r="0.68" fill="#4d4dd8" fill-opacity="0.42"/>
<circle cx="234.9" cy="102.4" r="0.52" fill="#4d4dd8" fill-opacity="0.62"/>
<circle cx="250.2" cy="98.3" r="0.84" fill="#4d4dd8" fill-opacity="0.62"/>
<circle cx="279.7" cy="120.8" r="1.15" fill="#4d4dd8" fill-opacity="0.44"/>
<circle cx="278.3" cy="120.3" r="0.62" fill="#4d4dd8" fill-opacity="0.39"/>
<circle cx="286.0" cy="77.2" r="0.73" fill="#4d4dd8" fill-opacity="0.81"/>
<circle cx="265.2" cy="63.4" r="1.23" fill="#4d4dd8" fill-opacity="0.55"/>
<circle cx="284.0" cy="99.8" r="0.90" fill="#4d4dd8" fill-opacity="0.32"/>
<circle cx="283.5" cy="99.9" r="0.58" fill="#4d4dd8" fill-opacity="0.32"/>
<circle cx="261.0" cy="124.7" r="0.73" fill="#4d4dd8" fill-opacity="0.52"/>
<circle cx="265.9" cy="56.6" r="1.15" fill="#4d4dd8" fill-opacity="0.51"/>
<circle cx="292.5" cy="90.6" r="0.62" fill="#4d4dd8" fill-opacity="0.53"/>
<circle cx="242.4" cy="71.5" r="0.86" fill="#4d4dd8" fill-opacity="0.82"/>
<circle cx="243.9" cy="71.3" r="0.90" fill="#4d4dd8" fill-opacity="0.87"/>
<circle cx="243.7" cy="71.8" r="0.52" fill="#4d4dd8" fill-opacity="0.87"/>
<circle cx="244.2" cy="70.7" r="0.57" fill="#4d4dd8" fill-opacity="0.87"/>
<circle cx="235.3" cy="97.6" r="0.99" fill="#4d4dd8" fill-opacity="0.73"/>
<circle cx="234.6" cy="101.4" r="1.22" fill="#4d4dd8" fill-opacity="0.79"/>
<circle cx="233.9" cy="100.5" r="0.65" fill="#4d4dd8" fill-opacity="0.79"/>
<circle cx="265.9" cy="72.5" r="1.30" fill="#4d4dd8" fill-opacity="0.78"/>
<circle cx="256.9" cy="56.3" r="0.59" fill="#4d4dd8" fill-opacity="0.32"/>
<circle cx="293.3" cy="77.2" r="0.76" fill="#4d4dd8" fill-opacity="0.61"/>
<circle cx="281.8" cy="111.7" r="0.73" fill="#4d4dd8" fill-opacity="0.68"/>
<circle cx="277.9" cy="89.0" r="1.27" fill="#4d4dd8" fill-opacity="0.49"/>
<circle cx="254.5" cy="71.4" r="0.63" fill="#4d4dd8" fill-opacity="0.60"/>
<circle cx="271.5" cy="111.7" r="0.49" fill="#4d4dd8" fill-opacity="0.78"/>
<circle cx="252.8" cy="103.5" r="0.56" fill="#4d4dd8" fill-opacity="0.48"/>
<circle cx="267.9" cy="102.3" r="0.48" fill="#4d4dd8" fill-opacity="0.77"/>
<circle cx="235.7" cy="78.6" r="0.48" fill="#4d4dd8" fill-opacity="0.67"/>
<circle cx="235.3" cy="78.8" r="0.32" fill="#4d4dd8" fill-opacity="0.67"/>
<circle cx="235.8" cy="78.7" r="0.27" fill="#4d4dd8" fill-opacity="0.67"/>
<circle cx="250.2" cy="89.1" r="0.58" fill="#4d4dd8" fill-opacity="0.48"/>
<circle cx="264.9" cy="122.3" r="0.71" fill="#4d4dd8" fill-opacity="0.37"/>
<circle cx="266.4" cy="115.9" r="1.04" fill="#4d4dd8" fill-opacity="0.65"/>
<circle cx="260.6" cy="72.8" r="1.07" fill="#4d4dd8" fill-opacity="0.50"/>
<circle cx="288.3" cy="83.6" r="1.11" fill="#4d4dd8" fill-opacity="0.67"/>
<circle cx="266.9" cy="116.9" r="1.19" fill="#4d4dd8" fill-opacity="0.72"/>
<circle cx="233.5" cy="115.2" r="0.91" fill="#4d4dd8" fill-opacity="0.46"/>
<circle cx="233.1" cy="115.6" r="0.59" fill="#4d4dd8" fill-opacity="0.46"/>
<circle cx="231.2" cy="94.8" r="0.82" fill="#4d4dd8" fill-opacity="0.70"/>
<circle cx="225.8" cy="90.9" r="0.98" fill="#4d4dd8" fill-opacity="0.56"/>
<circle cx="287.6" cy="110.9" r="0.73" fill="#4d4dd8" fill-opacity="0.57"/>
<circle cx="287.9" cy="111.0" r="0.64" fill="#4d4dd8" fill-opacity="0.57"/>
<circle cx="283.2" cy="97.9" r="1.27" fill="#4d4dd8" fill-opacity="0.65"/>
<circle cx="233.3" cy="89.9" r="0.57" fill="#4d4dd8" fill-opacity="0.81"/>
<circle cx="227.4" cy="100.2" r="0.47" fill="#4d4dd8" fill-opacity="0.83"/>
<circle cx="232.3" cy="113.2" r="1.24" fill="#4d4dd8" fill-opacity="0.63"/>
<circle cx="236.1" cy="95.0" r="0.54" fill="#4d4dd8" fill-opacity="0.40"/>
<circle cx="267.5" cy="59.8" r="1.35" fill="#4d4dd8" fill-opacity="0.76"/>
<circle cx="281.2" cy="109.8" r="1.18" fill="#4d4dd8" fill-opacity="0.51"/>
<circle cx="232.0" cy="82.2" r="0.66" fill="#4d4dd8" fill-opacity="0.68"/>
<circle cx="274.8" cy="91.8" r="0.49" fill="#4d4dd8" fill-opacity="0.82"/>
<circle cx="274.7" cy="91.8" r="0.41" fill="#4d4dd8" fill-opacity="0.82"/>
<circle cx="258.8" cy="102.1" r="0.92" fill="#4d4dd8" fill-opacity="0.47"/>
<circle cx="264.4" cy="82.4" r="1.22" fill="#4d4dd8" fill-opacity="0.80"/>
<circle cx="264.2" cy="82.9" r="0.62" fill="#4d4dd8" fill-opacity="0.80"/>
<circle cx="264.1" cy="103.4" r="0.76" fill="#4d4dd8" fill-opacity="0.39"/>
<circle cx="266.7" cy="126.6" r="1.32" fill="#4d4dd8" fill-opacity="0.34"/>
<circle cx="288.8" cy="108.5" r="0.70" fill="#4d4dd8" fill-opacity="0.44"/>
<circle cx="237.5" cy="92.8" r="0.83" fill="#4d4dd8" fill-opacity="0.43"/>
<circle cx="237.2" cy="102.9" r="0.45" fill="#4d4dd8" fill-opacity="0.38"/>
<circle cx="241.5" cy="60.5" r="0.90" fill="#4d4dd8" fill-opacity="0.51"/>
<circle cx="241.8" cy="60.9" r="0.79" fill="#4d4dd8" fill-opacity="0.51"/>
<circle cx="273.7" cy="67.3" r="0.68" fill="#4d4dd8" fill-opacity="0.59"/>
<circle cx="229.5" cy="75.8" r="0.65" fill="#4d4dd8" fill-opacity="0.79"/>
<circle cx="245.3" cy="79.7" r="0.78" fill="#4d4dd8" fill-opacity="0.35"/>
<circle cx="273.9" cy="80.3" r="0.89" fill="#4d4dd8" fill-opacity="0.84"/>
<circle cx="243.9" cy="75.2" r="0.82" fill="#4d4dd8" fill-opacity="0.52"/>
<circle cx="258.4" cy="95.7" r="0.76" fill="#4d4dd8" fill-opacity="0.76"/>
<circle cx="262.7" cy="101.7" r="1.33" fill="#4d4dd8" fill-opacity="0.68"/>
<circle cx="263.7" cy="102.0" r="0.79" fill="#4d4dd8" fill-opacity="0.68"/>
<circle cx="263.7" cy="102.1" r="0.76" fill="#4d4dd8" fill-opacity="0.68"/>
<circle cx="262.7" cy="65.4" r="0.57" fill="#4d4dd8" fill-opacity="0.48"/>
<circle cx="260.9" cy="114.7" r="0.47" fill="#4d4dd8" fill-opacity="0.87"/>
<circle cx="282.1" cy="95.9" r="1.14" fill="#4d4dd8" fill-opacity="0.61"/>
<circle cx="237.5" cy="74.4" r="0.72" fill="#4d4dd8" fill-opacity="0.47"/>
<circle cx="237.1" cy="74.3" r="0.50" fill="#4d4dd8" fill-opacity="0.47"/>
<circle cx="279.0" cy="90.3" r="0.50" fill="#4d4dd8" fill-opacity="0.38"/>
<circle cx="269.6" cy="90.2" r="0.45" fill="#4d4dd8" fill-opacity="0.73"/>
<circle cx="263.2" cy="92.9" r="0.55" fill="#4d4dd8" fill-opacity="0.33"/>
<circle cx="262.9" cy="92.7" r="0.40" fill="#4d4dd8" fill-opacity="0.33"/>
<circle cx="259.8" cy="109.4" r="1.16" fill="#4d4dd8" fill-opacity="0.45"/>
<circle cx="239.6" cy="97.7" r="0.45" fill="#4d4dd8" fill-opacity="0.42"/>
<circle cx="261.2" cy="74.3" r="1.19" fill="#4d4dd8" fill-opacity="0.37"/>
<circle cx="264.5" cy="97.7" r="0.56" fill="#4d4dd8" fill-opacity="0.65"/>
<circle cx="268.1" cy="62.5" r="0.49" fill="#4d4dd8" fill-opacity="0.74"/>
<circle cx="268.4" cy="62.2" r="0.30" fill="#4d4dd8" fill-opacity="0.74"/>
<circle cx="267.9" cy="62.4" r="0.29" fill="#4d4dd8" fill-opacity="0.74"/>
<circle cx="278.2" cy="95.2" r="0.56" fill="#4d4dd8" fill-opacity="0.57"/>
<circle cx="241.7" cy="107.3" r="1.07" fill="#4d4dd8" fill-opacity="0.81"/>
<circle cx="250.1" cy="83.9" r="1.02" fill="#4d4dd8" fill-opacity="0.82"/>
<circle cx="242.8" cy="109.7" r="0.59" fill="#4d4dd8" fill-opacity="0.58"/>
<circle cx="242.5" cy="109.7" r="0.50" fill="#4d4dd8" fill-opacity="0.58"/>
<circle cx="256.6" cy="77.6" r="0.80" fill="#4d4dd8" fill-opacity="0.40"/>
<circle cx="256.2" cy="77.8" r="0.46" fill="#4d4dd8" fill-opacity="0.40"/>
<circle cx="257.0" cy="77.4" r="0.54" fill="#4d4dd8" fill-opacity="0.40"/>
<circle cx="226.9" cy="80.7" r="1.09" fill="#4d4dd8" fill-opacity="0.70"/>
<circle cx="226.9" cy="81.6" r="0.86" fill="#4d4dd8" fill-opacity="0.70"/>
<circle cx="225.5" cy="89.8" r="1.00" fill="#4d4dd8" fill-opacity="0.67"/>
<circle cx="276.6" cy="87.8" r="1.10" fill="#4d4dd8" fill-opacity="0.50"/>
<circle cx="259.0" cy="88.6" r="0.47" fill="#4d4dd8" fill-opacity="0.53"/>
<circle cx="271.2" cy="105.2" r="0.68" fill="#4d4dd8" fill-opacity="0.82"/>
<circle cx="282.4" cy="76.0" r="1.13" fill="#4d4dd8" fill-opacity="0.65"/>
<circle cx="238.0" cy="89.8" r="0.45" fill="#4d4dd8" fill-opacity="0.43"/>
<circle cx="271.3" cy="104.1" r="0.57" fill="#4d4dd8" fill-opacity="0.35"/>
<circle cx="285.4" cy="106.9" r="0.56" fill="#4d4dd8" fill-opacity="0.64"/>
<circle cx="242.4" cy="59.2" r="0.54" fill="#4d4dd8" fill-opacity="0.59"/>
<circle cx="242.3" cy="59.3" r="0.30" fill="#4d4dd8" fill-opacity="0.59"/>
<circle cx="281.6" cy="73.7" r="0.61" fill="#4d4dd8" fill-opacity="0.36"/>
<circle cx="282.0" cy="73.2" r="0.35" fill="#4d4dd8" fill-opacity="0.36"/>
<circle cx="281.5" cy="73.5" r="0.50" fill="#4d4dd8" fill-opacity="0.36"/>
<circle cx="259.7" cy="112.0" r="1.26" fill="#4d4dd8" fill-opacity="0.48"/>
<circle cx="250.5" cy="72.8" r="0.59" fill="#4d4dd8" fill-opacity="0.61"/>
<circle cx="276.4" cy="74.9" r="1.07" fill="#4d4dd8" fill-opacity="0.86"/>
<circle cx="285.6" cy="97.8" r="0.89" fill="#4d4dd8" fill-opacity="0.83"/>
<circle cx="235.9" cy="81.4" r="0.72" fill="#4d4dd8" fill-opacity="0.63"/>
<circle cx="274.4" cy="116.0" r="0.92" fill="#4d4dd8" fill-opacity="0.78"/>
<circle cx="248.5" cy="63.7" r="0.46" fill="#4d4dd8" fill-opacity="0.74"/>
<circle cx="272.0" cy="114.5" r="0.50" fill="#4d4dd8" fill-opacity="0.81"/>
<circle cx="272.0" cy="114.9" r="0.45" fill="#4d4dd8" fill-opacity="0.81"/>
<circle cx="271.7" cy="114.3" r="0.45" fill="#4d4dd8" fill-opacity="0.81"/>
<circle cx="244.8" cy="77.7" r="0.61" fill="#4d4dd8" fill-opacity="0.58"/>
<circle cx="232.5" cy="73.6" r="0.47" fill="#4d4dd8" fill-opacity="0.32"/>
<circle cx="257.2" cy="62.5" r="1.05" fill="#4d4dd8" fill-opacity="0.57"/>
<circle cx="289.6" cy="102.0" r="0.59" fill="#4d4dd8" fill-opacity="0.57"/>
<circle cx="227.6" cy="102.3" r="0.48" fill="#4d4dd8" fill-opacity="0.87"/>
<circle cx="273.2" cy="116.9" r="0.99" fill="#4d4dd8" fill-opacity="0.63"/>
<circle cx="292.7" cy="105.6" r="1.10" fill="#4d4dd8" fill-opacity="0.57"/>
<circle cx="266.9" cy="96.6" r="1.23" fill="#4d4dd8" fill-opacity="0.58"/>
<circle cx="274.0" cy="114.9" r="1.16" fill="#4d4dd8" fill-opacity="0.73"/>
<circle cx="269.5" cy="98.7" r="0.47" fill="#4d4dd8" fill-opacity="0.53"/>
<circle cx="259.2" cy="95.8" r="0.63" fill="#4d4dd8" fill-opacity="0.73"/>
<circle cx="271.9" cy="114.5" r="0.64" fill="#4d4dd8" fill-opacity="0.62"/>
<circle cx="247.9" cy="117.3" r="0.66" fill="#4d4dd8" fill-opacity="0.54"/>
<circle cx="263.6" cy="109.3" r="0.77" fill="#4d4dd8" fill-opacity="0.46"/>
<circle cx="286.7" cy="73.4" r="1.25" fill="#4d4dd8" fill-opacity="0.51"/>
<circle cx="235.2" cy="74.6" r="1.01" fill="#4d4dd8" fill-opacity="0.80"/>
<circle cx="252.5" cy="77.9" r="1.18" fill="#4d4dd8" fill-opacity="0.86"/>
<circle cx="266.4" cy="58.2" r="0.45" fill="#4d4dd8" fill-opacity="0.66"/>
<circle cx="255.1" cy="72.1" r="1.04" fill="#4d4dd8" fill-opacity="0.37"/>
<circle cx="292.0" cy="88.9" r="0.62" fill="#4d4dd8" fill-opacity="0.62"/>
<circle cx="279.4" cy="122.3" r="0.76" fill="#4d4dd8" fill-opacity="0.39"/>
<circle cx="279.8" cy="122.5" r="0.48" fill="#4d4dd8" fill-opacity="0.39"/>
<circle cx="274.4" cy="108.3" r="0.50" fill="#4d4dd8" fill-opacity="0.60"/>
<circle cx="226.2" cy="93.6" r="0.92" fill="#4d4dd8" fill-opacity="0.73"/>
<circle cx="226.5" cy="95.2" r="0.68" fill="#4d4dd8" fill-opacity="0.86"/>
<circle cx="225.1" cy="94.5" r="0.89" fill="#4d4dd8" fill-opacity="0.71"/>
<circle cx="227.2" cy="92.6" r="0.72" fill="#4d4dd8" fill-opacity="0.86"/>
<circle cx="227.7" cy="94.1" r="0.63" fill="#4d4dd8" fill-opacity="0.83"/>
<circle cx="226.4" cy="96.2" r="1.09" fill="#4d4dd8" fill-opacity="0.81"/>
<circle cx="226.8" cy="95.0" r="0.66" fill="#4d4dd8" fill-opacity="0.79"/>
<circle cx="227.4" cy="93.9" r="0.99" fill="#4d4dd8" fill-opacity="0.77"/>
<circle cx="226.5" cy="95.2" r="0.81" fill="#4d4dd8" fill-opacity="0.80"/>
<circle cx="224.2" cy="94.8" r="0.93" fill="#4d4dd8" fill-opacity="0.58"/>
<circle cx="226.7" cy="94.5" r="0.61" fill="#4d4dd8" fill-opacity="0.77"/>
<circle cx="223.5" cy="94.5" r="0.94" fill="#4d4dd8" fill-opacity="0.52"/>
<circle cx="226.4" cy="91.8" r="0.60" fill="#4d4dd8" fill-opacity="0.67"/>
<circle cx="225.9" cy="92.4" r="1.12" fill="#4d4dd8" fill-opacity="0.78"/>
<circle cx="230.2" cy="69.2" r="1.07" fill="#4d4dd8" fill-opacity="0.73"/>
<circle cx="234.3" cy="72.7" r="1.01" fill="#4d4dd8" fill-opacity="0.71"/>
<circle cx="230.2" cy="70.9" r="1.10" fill="#4d4dd8" fill-opacity="0.60"/>
<circle cx="230.5" cy="70.2" r="0.69" fill="#4d4dd8" fill-opacity="0.51"/>
<circle cx="233.3" cy="73.4" r="0.88" fill="#4d4dd8" fill-opacity="0.51"/>
<circle cx="234.8" cy="73.3" r="1.19" fill="#4d4dd8" fill-opacity="0.67"/>
<circle cx="229.3" cy="72.5" r="0.66" fill="#4d4dd8" fill-opacity="0.72"/>
<circle cx="230.4" cy="69.0" r="0.99" fill="#4d4dd8" fill-opacity="0.72"/>
<circle cx="229.2" cy="73.8" r="0.91" fill="#4d4dd8" fill-opacity="0.69"/>
<circle cx="231.8" cy="69.7" r="0.64" fill="#4d4dd8" fill-opacity="0.74"/>
<circle cx="239.2" cy="62.6" r="0.66" fill="#4d4dd8" fill-opacity="0.54"/>
<circle cx="238.8" cy="63.4" r="0.99" fill="#4d4dd8" fill-opacity="0.54"/>
<circle cx="235.1" cy="63.8" r="0.74" fill="#4d4dd8" fill-opacity="0.62"/>
<circle cx="236.3" cy="62.5" r="0.94" fill="#4d4dd8" fill-opacity="0.66"/>
<circle cx="240.2" cy="64.6" r="0.77" fill="#4d4dd8" fill-opacity="0.75"/>
<circle cx="236.6" cy="64.6" r="1.20" fill="#4d4dd8" fill-opacity="0.63"/>
</g></g>
<circle cx="260" cy="91.5" r="36.5" fill="none" stroke="#222" stroke-width="1.2"/>
<clipPath id="c2"><circle cx="344" cy="91.3" r="37"/></clipPath>
<circle cx="344" cy="91.3" r="37" fill="#ebebf0"/>
<g clip-path="url(#c2)">
<g>
<circle cx="378.7" cy="81.5" r="0.35" fill="#4a4ae0" fill-opacity="0.30"/>
<circle cx="341.3" cy="61.1" r="0.42" fill="#4a4ae0" fill-opacity="0.58"/>
<circle cx="331.2" cy="84.1" r="0.49" fill="#4a4ae0" fill-opacity="0.47"/>
<circle cx="380.0" cy="90.1" r="0.57" fill="#4a4ae0" fill-opacity="0.49"/>
<circle cx="350.0" cy="92.7" r="0.51" fill="#4a4ae0" fill-opacity="0.43"/>
<circle cx="364.9" cy="74.4" r="0.59" fill="#4a4ae0" fill-opacity="0.38"/>
<circle cx="364.5" cy="74.4" r="0.53" fill="#4a4ae0" fill-opacity="0.38"/>
<circle cx="336.8" cy="77.3" r="0.95" fill="#4a4ae0" fill-opacity="0.69"/>
<circle cx="370.9" cy="73.4" r="0.82" fill="#4a4ae0" fill-opacity="0.44"/>
<circle cx="358.4" cy="87.8" r="0.78" fill="#4a4ae0" fill-opacity="0.64"/>
<circle cx="318.6" cy="86.4" r="0.99" fill="#4a4ae0" fill-opacity="0.53"/>
<circle cx="322.9" cy="118.9" r="0.96" fill="#4a4ae0" fill-opacity="0.50"/>
<circle cx="371.6" cy="76.2" r="0.53" fill="#4a4ae0" fill-opacity="0.37"/>
<circle cx="339.3" cy="77.0" r="0.97" fill="#4a4ae0" fill-opacity="0.40"/>
<circle cx="330.8" cy="125.0" r="0.72" fill="#4a4ae0" fill-opacity="0.53"/>
<circle cx="327.5" cy="68.2" r="0.42" fill="#4a4ae0" fill-opacity="0.36"/>
<circle cx="370.7" cy="79.6" r="0.35" fill="#4a4ae0" fill-opacity="0.70"/>
<circle cx="357.5" cy="82.4" r="0.77" fill="#4a4ae0" fill-opacity="0.28"/>
<circle cx="341.5" cy="108.7" r="0.92" fill="#4a4ae0" fill-opacity="0.31"/>
<circle cx="355.1" cy="76.8" r="0.38" fill="#4a4ae0" fill-opacity="0.73"/>
<circle cx="342.6" cy="84.8" r="0.45" fill="#4a4ae0" fill-opacity="0.34"/>
<circle cx="375.4" cy="109.3" r="0.35" fill="#4a4ae0" fill-opacity="0.65"/>
<circle cx="375.5" cy="109.1" r="0.20" fill="#4a4ae0" fill-opacity="0.65"/>
<circle cx="335.7" cy="69.9" r="0.35" fill="#4a4ae0" fill-opacity="0.79"/>
<circle cx="365.1" cy="96.2" r="0.63" fill="#4a4ae0" fill-opacity="0.66"/>
<circle cx="364.7" cy="96.2" r="0.51" fill="#4a4ae0" fill-opacity="0.66"/>
<circle cx="341.8" cy="56.2" r="0.78" fill="#4a4ae0" fill-opacity="0.72"/>
<circle cx="326.7" cy="94.3" r="0.68" fill="#4a4ae0" fill-opacity="0.42"/>
<circle cx="327.1" cy="93.9" r="0.50" fill="#4a4ae0" fill-opacity="0.42"/>
<circle cx="323.2" cy="107.8" r="0.37" fill="#4a4ae0" fill-opacity="0.78"/>
<circle cx="325.2" cy="76.5" r="0.35" fill="#4a4ae0" fill-opacity="0.56"/>
<circle cx="324.9" cy="76.3" r="0.19" fill="#4a4ae0" fill-opacity="0.56"/>
<circle cx="326.6" cy="71.5" r="1.08" fill="#4a4ae0" fill-opacity="0.76"/>
<circle cx="346.7" cy="115.8" r="0.40" fill="#4a4ae0" fill-opacity="0.58"/>
<circle cx="353.7" cy="61.7" r="0.40" fill="#4a4ae0" fill-opacity="0.48"/>
<circle cx="351.0" cy="91.5" r="0.48" fill="#4a4ae0" fill-opacity="0.31"/>
<circle cx="344.7" cy="103.0" r="0.37" fill="#4a4ae0" fill-opacity="0.38"/>
<circle cx="319.0" cy="88.0" r="0.42" fill="#4a4ae0" fill-opacity="0.60"/>
<circle cx="374.2" cy="71.2" r="0.75" fill="#4a4ae0" fill-opacity="0.49"/>
<circle cx="336.7" cy="87.2" r="0.48" fill="#4a4ae0" fill-opacity="0.54"/>
<circle cx="371.6" cy="109.7" r="0.45" fill="#4a4ae0" fill-opacity="0.54"/>
<circle cx="328.7" cy="78.6" r="1.08" fill="#4a4ae0" fill-opacity="0.45"/>
<circle cx="328.0" cy="78.2" r="0.90" fill="#4a4ae0" fill-opacity="0.45"/>
<circle cx="329.0" cy="77.7" r="0.73" fill="#4a4ae0" fill-opacity="0.45"/>
<circle cx="322.2" cy="105.0" r="0.38" fill="#4a4ae0" fill-opacity="0.57"/>
<circle cx="322.1" cy="105.3" r="0.20" fill="#4a4ae0" fill-opacity="0.57"/>
<circle cx="344.5" cy="75.1" r="0.60" fill="#4a4ae0" fill-opacity="0.47"/>
<circle cx="344.5" cy="68.1" r="0.36" fill="#4a4ae0" fill-opacity="0.32"/>
<circle cx="344.6" cy="68.3" r="0.28" fill="#4a4ae0" fill-opacity="0.32"/>
<circle cx="344.2" cy="68.1" r="0.29" fill="#4a4ae0" fill-opacity="0.32"/>
<circle cx="339.7" cy="65.6" r="0.45" fill="#4a4ae0" fill-opacity="0.50"/>
<circle cx="340.8" cy="118.0" r="0.52" fill="#4a4ae0" fill-opacity="0.78"/>
<circle cx="374.8" cy="77.3" r="0.42" fill="#4a4ae0" fill-opacity="0.38"/>
<circle cx="342.6" cy="115.5" r="0.70" fill="#4a4ae0" fill-opacity="0.76"/>
<circle cx="348.7" cy="80.9" r="0.45" fill="#4a4ae0" fill-opacity="0.80"/>
<circle cx="348.4" cy="80.6" r="0.38" fill="#4a4ae0" fill-opacity="0.80"/>
<circle cx="373.7" cy="89.2" r="0.36" fill="#4a4ae0" fill-opacity="0.41"/>
<circle cx="329.4" cy="64.5" r="0.49" fill="#4a4ae0" fill-opacity="0.54"/>
<circle cx="329.8" cy="64.7" r="0.27" fill="#4a4ae0" fill-opacity="0.54"/>
<circle cx="329.4" cy="64.6" r="0.30" fill="#4a4ae0" fill-opacity="0.54"/>
<circle cx="363.8" cy="75.9" r="0.72" fill="#4a4ae0" fill-opacity="0.47"/>
<circle cx="349.7" cy="63.9" r="0.37" fill="#4a4ae0" fill-opacity="0.49"/>
<circle cx="350.0" cy="63.7" r="0.26" fill="#4a4ae0" fill-opacity="0.49"/>
<circle cx="349.7" cy="63.8" r="0.29" fill="#4a4ae0" fill-opacity="0.49"/>
<circle cx="372.6" cy="79.3" r="0.52" fill="#4a4ae0" fill-opacity="0.78"/>
<circle cx="343.2" cy="61.3" r="0.79" fill="#4a4ae0" fill-opacity="0.72"/>
<circle cx="327.0" cy="75.1" r="0.68" fill="#4a4ae0" fill-opacity="0.79"/>
<circle cx="369.2" cy="93.1" r="0.73" fill="#4a4ae0" fill-opacity="0.74"/>
<circle cx="346.0" cy="86.9" r="1.02" fill="#4a4ae0" fill-opacity="0.65"/>
<circle cx="372.8" cy="71.8" r="0.36" fill="#4a4ae0" fill-opacity="0.70"/>
<circle cx="354.0" cy="121.6" r="0.61" fill="#4a4ae0" fill-opacity="0.36"/>
<circle cx="362.8" cy="113.4" r="0.49" fill="#4a4ae0" fill-opacity="0.39"/>
<circle cx="327.6" cy="94.7" r="1.05" fill="#4a4ae0" fill-opacity="0.29"/>
<circle cx="328.2" cy="95.0" r="0.84" fill="#4a4ae0" fill-opacity="0.29"/>
<circle cx="313.7" cy="94.2" r="0.43" fill="#4a4ae0" fill-opacity="0.40"/>
<circle cx="354.3" cy="93.1" r="0.78" fill="#4a4ae0" fill-opacity="0.35"/>
<circle cx="349.0" cy="68.3" r="0.69" fill="#4a4ae0" fill-opacity="0.68"/>
<circle cx="353.9" cy="102.5" r="0.46" fill="#4a4ae0" fill-opacity="0.51"/>
<circle cx="371.6" cy="93.1" r="1.05" fill="#4a4ae0" fill-opacity="0.45"/>
<circle cx="325.8" cy="107.9" r="0.92" fill="#4a4ae0" fill-opacity="0.42"/>
<circle cx="317.0" cy="94.1" r="0.98" fill="#4a4ae0" fill-opacity="0.29"/>
<circle cx="334.1" cy="119.3" r="0.83" fill="#4a4ae0" fill-opacity="0.61"/>
<circle cx="350.1" cy="81.8" r="0.65" fill="#4a4ae0" fill-opacity="0.47"/>
<circle cx="363.6" cy="64.7" r="0.65" fill="#4a4ae0" fill-opacity="0.42"/>
<circle cx="326.8" cy="96.0" r="0.41" fill="#4a4ae0" fill-opacity="0.78"/>
<circle cx="326.7" cy="95.9" r="0.26" fill="#4a4ae0" fill-opacity="0.78"/>
<circle cx="326.5" cy="96.0" r="0.23" fill="#4a4ae0" fill-opacity="0.78"/>
<circle cx="325.3" cy="98.4" r="0.95" fill="#4a4ae0" fill-opacity="0.76"/>
<circle cx="321.2" cy="63.9" r="0.43" fill="#4a4ae0" fill-opacity="0.30"/>
<circle cx="355.3" cy="119.6" r="0.45" fill="#4a4ae0" fill-opacity="0.45"/>
<circle cx="347.5" cy="124.4" r="0.65" fill="#4a4ae0" fill-opacity="0.47"/>
<circle cx="325.0" cy="120.3" r="0.99" fill="#4a4ae0" fill-opacity="0.53"/>
<circle cx="374.2" cy="81.2" r="0.77" fill="#4a4ae0" fill-opacity="0.73"/>
<circle cx="344.8" cy="54.7" r="0.41" fill="#4a4ae0" fill-opacity="0.59"/>
<circle cx="328.4" cy="108.5" r="0.37" fill="#4a4ae0" fill-opacity="0.78"/>
<circle cx="309.4" cy="96.4" r="0.38" fill="#4a4ae0" fill-opacity="0.78"/>
<circle cx="309.3" cy="96.3" r="0.33" fill="#4a4ae0" fill-opacity="0.78"/>
<circle cx="368.0" cy="69.7" r="0.49" fill="#4a4ae0" fill-opacity="0.55"/>
<circle cx="355.6" cy="71.3" r="0.41" fill="#4a4ae0" fill-opacity="0.60"/>
<circle cx="329.6" cy="123.9" r="0.36" fill="#4a4ae0" fill-opacity="0.33"/>
<circle cx="343.9" cy="115.3" r="0.40" fill="#4a4ae0" fill-opacity="0.44"/>
<circle cx="345.8" cy="120.2" r="0.43" fill="#4a4ae0" fill-opacity="0.46"/>
<circle cx="357.0" cy="96.6" r="0.89" fill="#4a4ae0" fill-opacity="0.49"/>
<circle cx="362.0" cy="111.1" r="0.89" fill="#4a4ae0" fill-opacity="0.44"/>
<circle cx="326.1" cy="76.4" r="1.10" fill="#4a4ae0" fill-opacity="0.47"/>
<circle cx="328.8" cy="77.1" r="0.88" fill="#4a4ae0" fill-opacity="0.58"/>
<circle cx="308.4" cy="82.5" r="1.08" fill="#4a4ae0" fill-opacity="0.71"/>
<circle cx="321.2" cy="105.4" r="0.35" fill="#4a4ae0" fill-opacity="0.31"/>
<circle cx="368.8" cy="117.1" r="0.70" fill="#4a4ae0" fill-opacity="0.75"/>
<circle cx="369.1" cy="116.6" r="0.38" fill="#4a4ae0" fill-opacity="0.75"/>
</g></g>
<circle cx="344" cy="91.3" r="36.5" fill="none" stroke="#222" stroke-width="1.2"/>
<clipPath id="c3"><circle cx="429" cy="91.3" r="37"/></clipPath>
<circle cx="429" cy="91.3" r="37" fill="#ebebf0"/>
<g clip-path="url(#c3)">
<g>
<circle cx="431.1" cy="118.5" r="0.45" fill="#4a4ae0" fill-opacity="0.54"/>
<circle cx="432.9" cy="93.0" r="0.84" fill="#4a4ae0" fill-opacity="0.36"/>
<circle cx="454.4" cy="90.6" r="0.84" fill="#4a4ae0" fill-opacity="0.47"/>
<circle cx="446.2" cy="115.2" r="0.88" fill="#4a4ae0" fill-opacity="0.50"/>
<circle cx="424.6" cy="83.1" r="0.75" fill="#4a4ae0" fill-opacity="0.53"/>
<circle cx="462.8" cy="98.0" r="0.51" fill="#4a4ae0" fill-opacity="0.60"/>
<circle cx="421.1" cy="56.7" r="0.46" fill="#4a4ae0" fill-opacity="0.64"/>
<circle cx="460.9" cy="77.6" r="0.36" fill="#4a4ae0" fill-opacity="0.29"/>
<circle cx="452.9" cy="86.0" r="0.62" fill="#4a4ae0" fill-opacity="0.38"/>
<circle cx="412.5" cy="105.7" r="0.59" fill="#4a4ae0" fill-opacity="0.53"/>
<circle cx="414.2" cy="58.8" r="0.86" fill="#4a4ae0" fill-opacity="0.75"/>
<circle cx="446.8" cy="120.6" r="1.00" fill="#4a4ae0" fill-opacity="0.70"/>
<circle cx="425.2" cy="74.7" r="0.83" fill="#4a4ae0" fill-opacity="0.52"/>
<circle cx="460.5" cy="104.6" r="1.04" fill="#4a4ae0" fill-opacity="0.27"/>
<circle cx="416.8" cy="99.0" r="0.41" fill="#4a4ae0" fill-opacity="0.63"/>
<circle cx="456.9" cy="99.3" r="0.35" fill="#4a4ae0" fill-opacity="0.60"/>
<circle cx="455.9" cy="66.4" r="0.53" fill="#4a4ae0" fill-opacity="0.75"/>
<circle cx="454.4" cy="104.6" r="0.35" fill="#4a4ae0" fill-opacity="0.32"/>
<circle cx="417.8" cy="81.9" r="0.35" fill="#4a4ae0" fill-opacity="0.68"/>
<circle cx="462.9" cy="82.3" r="0.45" fill="#4a4ae0" fill-opacity="0.46"/>
<circle cx="411.3" cy="68.9" r="0.57" fill="#4a4ae0" fill-opacity="0.55"/>
<circle cx="404.7" cy="90.2" r="0.71" fill="#4a4ae0" fill-opacity="0.35"/>
<circle cx="455.5" cy="87.6" r="0.56" fill="#4a4ae0" fill-opacity="0.23"/>
<circle cx="424.4" cy="88.8" r="0.62" fill="#4a4ae0" fill-opacity="0.56"/>
<circle cx="424.4" cy="89.0" r="0.39" fill="#4a4ae0" fill-opacity="0.56"/>
<circle cx="424.6" cy="89.0" r="0.31" fill="#4a4ae0" fill-opacity="0.56"/>
<circle cx="457.2" cy="102.6" r="1.00" fill="#4a4ae0" fill-opacity="0.35"/>
<circle cx="411.5" cy="79.8" r="0.44" fill="#4a4ae0" fill-opacity="0.39"/>
<circle cx="412.3" cy="79.8" r="0.45" fill="#4a4ae0" fill-opacity="0.63"/>
<circle cx="412.4" cy="79.7" r="0.26" fill="#4a4ae0" fill-opacity="0.63"/>
<circle cx="412.5" cy="79.6" r="0.26" fill="#4a4ae0" fill-opacity="0.63"/>
<circle cx="400.6" cy="103.5" r="0.36" fill="#4a4ae0" fill-opacity="0.39"/>
<circle cx="441.3" cy="70.1" r="0.86" fill="#4a4ae0" fill-opacity="0.31"/>
<circle cx="408.6" cy="63.1" r="0.49" fill="#4a4ae0" fill-opacity="0.34"/>
<circle cx="408.3" cy="63.4" r="0.41" fill="#4a4ae0" fill-opacity="0.34"/>
<circle cx="408.3" cy="62.9" r="0.41" fill="#4a4ae0" fill-opacity="0.34"/>
<circle cx="408.1" cy="65.4" r="0.43" fill="#4a4ae0" fill-opacity="0.29"/>
<circle cx="434.2" cy="72.8" r="0.43" fill="#4a4ae0" fill-opacity="0.44"/>
<circle cx="399.1" cy="110.4" r="0.37" fill="#4a4ae0" fill-opacity="0.22"/>
<circle cx="455.8" cy="66.1" r="0.48" fill="#4a4ae0" fill-opacity="0.72"/>
<circle cx="434.6" cy="122.8" r="0.84" fill="#4a4ae0" fill-opacity="0.57"/>
<circle cx="423.8" cy="112.3" r="0.39" fill="#4a4ae0" fill-opacity="0.26"/>
<circle cx="421.3" cy="123.7" r="0.35" fill="#4a4ae0" fill-opacity="0.70"/>
<circle cx="460.1" cy="75.2" r="0.92" fill="#4a4ae0" fill-opacity="0.53"/>
<circle cx="459.6" cy="74.9" r="0.70" fill="#4a4ae0" fill-opacity="0.53"/>
<circle cx="460.1" cy="75.0" r="0.80" fill="#4a4ae0" fill-opacity="0.53"/>
<circle cx="412.5" cy="77.3" r="0.39" fill="#4a4ae0" fill-opacity="0.68"/>
<circle cx="433.4" cy="69.8" r="0.38" fill="#4a4ae0" fill-opacity="0.50"/>
<circle cx="444.6" cy="120.3" r="0.94" fill="#4a4ae0" fill-opacity="0.65"/>
<circle cx="458.3" cy="92.7" r="0.87" fill="#4a4ae0" fill-opacity="0.25"/>
<circle cx="425.9" cy="118.0" r="0.48" fill="#4a4ae0" fill-opacity="0.47"/>
<circle cx="437.7" cy="91.4" r="0.36" fill="#4a4ae0" fill-opacity="0.29"/>
<circle cx="437.9" cy="91.2" r="0.25" fill="#4a4ae0" fill-opacity="0.29"/>
<circle cx="437.6" cy="91.3" r="0.23" fill="#4a4ae0" fill-opacity="0.29"/>
<circle cx="411.9" cy="68.7" r="0.44" fill="#4a4ae0" fill-opacity="0.32"/>
<circle cx="448.7" cy="110.6" r="0.71" fill="#4a4ae0" fill-opacity="0.42"/>
<circle cx="448.5" cy="110.8" r="0.58" fill="#4a4ae0" fill-opacity="0.42"/>
<circle cx="404.8" cy="113.9" r="0.62" fill="#4a4ae0" fill-opacity="0.45"/>
<circle cx="398.0" cy="92.0" r="0.47" fill="#4a4ae0" fill-opacity="0.59"/>
<circle cx="429.8" cy="118.4" r="0.69" fill="#4a4ae0" fill-opacity="0.26"/>
<circle cx="398.0" cy="106.9" r="0.96" fill="#4a4ae0" fill-opacity="0.42"/>
<circle cx="433.8" cy="73.0" r="0.50" fill="#4a4ae0" fill-opacity="0.29"/>
<circle cx="410.7" cy="61.6" r="0.79" fill="#4a4ae0" fill-opacity="0.57"/>
<circle cx="418.1" cy="86.7" r="0.59" fill="#4a4ae0" fill-opacity="0.22"/>
<circle cx="417.6" cy="86.3" r="0.32" fill="#4a4ae0" fill-opacity="0.22"/>
<circle cx="418.4" cy="86.4" r="0.30" fill="#4a4ae0" fill-opacity="0.22"/>
<circle cx="436.0" cy="80.5" r="0.85" fill="#4a4ae0" fill-opacity="0.58"/>
<circle cx="455.9" cy="83.0" r="0.80" fill="#4a4ae0" fill-opacity="0.24"/>
<circle cx="397.8" cy="89.1" r="0.36" fill="#4a4ae0" fill-opacity="0.62"/>
<circle cx="448.5" cy="99.2" r="0.57" fill="#4a4ae0" fill-opacity="0.66"/>
<circle cx="436.9" cy="108.0" r="0.62" fill="#4a4ae0" fill-opacity="0.62"/>
<circle cx="413.3" cy="108.5" r="0.44" fill="#4a4ae0" fill-opacity="0.44"/>
<circle cx="413.7" cy="108.5" r="0.35" fill="#4a4ae0" fill-opacity="0.44"/>
<circle cx="413.1" cy="108.7" r="0.35" fill="#4a4ae0" fill-opacity="0.44"/>
<circle cx="416.8" cy="67.7" r="0.51" fill="#4a4ae0" fill-opacity="0.56"/>
<circle cx="435.8" cy="100.5" r="0.74" fill="#4a4ae0" fill-opacity="0.71"/>
<circle cx="399.6" cy="102.3" r="0.37" fill="#4a4ae0" fill-opacity="0.36"/>
<circle cx="411.2" cy="80.7" r="0.39" fill="#4a4ae0" fill-opacity="0.59"/>
<circle cx="420.2" cy="121.1" r="0.47" fill="#4a4ae0" fill-opacity="0.67"/>
<circle cx="427.1" cy="108.5" r="0.35" fill="#4a4ae0" fill-opacity="0.47"/>
<circle cx="439.4" cy="110.9" r="0.42" fill="#4a4ae0" fill-opacity="0.63"/>
<circle cx="439.4" cy="111.0" r="0.29" fill="#4a4ae0" fill-opacity="0.63"/>
<circle cx="439.7" cy="111.1" r="0.31" fill="#4a4ae0" fill-opacity="0.63"/>
<circle cx="397.8" cy="95.0" r="0.86" fill="#4a4ae0" fill-opacity="0.43"/>
<circle cx="453.5" cy="85.0" r="0.39" fill="#4a4ae0" fill-opacity="0.34"/>
<circle cx="412.6" cy="59.0" r="0.86" fill="#4a4ae0" fill-opacity="0.35"/>
<circle cx="428.1" cy="107.3" r="0.70" fill="#4a4ae0" fill-opacity="0.68"/>
<circle cx="427.9" cy="125.7" r="0.42" fill="#4a4ae0" fill-opacity="0.44"/>
<circle cx="438.7" cy="97.1" r="0.84" fill="#4a4ae0" fill-opacity="0.37"/>
<circle cx="402.4" cy="76.6" r="0.35" fill="#4a4ae0" fill-opacity="0.40"/>
<circle cx="412.1" cy="92.8" r="0.59" fill="#4a4ae0" fill-opacity="0.73"/>
<circle cx="416.7" cy="87.8" r="0.40" fill="#4a4ae0" fill-opacity="0.57"/>
<circle cx="417.0" cy="87.5" r="0.35" fill="#4a4ae0" fill-opacity="0.57"/>
<circle cx="416.6" cy="88.0" r="0.32" fill="#4a4ae0" fill-opacity="0.57"/>
<circle cx="420.4" cy="120.5" r="0.65" fill="#4a4ae0" fill-opacity="0.65"/>
<circle cx="430.0" cy="55.0" r="0.67" fill="#4a4ae0" fill-opacity="0.50"/>
<circle cx="429.8" cy="55.3" r="0.51" fill="#4a4ae0" fill-opacity="0.50"/>
<circle cx="414.6" cy="84.9" r="0.64" fill="#4a4ae0" fill-opacity="0.55"/>
<circle cx="452.1" cy="72.2" r="0.36" fill="#4a4ae0" fill-opacity="0.71"/>
<circle cx="452.2" cy="72.3" r="0.26" fill="#4a4ae0" fill-opacity="0.71"/>
<circle cx="414.0" cy="71.3" r="0.42" fill="#4a4ae0" fill-opacity="0.31"/>
<circle cx="414.1" cy="71.3" r="0.33" fill="#4a4ae0" fill-opacity="0.31"/>
<circle cx="413.9" cy="71.1" r="0.27" fill="#4a4ae0" fill-opacity="0.31"/>
<circle cx="434.3" cy="85.8" r="0.53" fill="#4a4ae0" fill-opacity="0.35"/>
<circle cx="416.0" cy="108.2" r="0.46" fill="#4a4ae0" fill-opacity="0.51"/>
<circle cx="408.5" cy="118.5" r="0.36" fill="#4a4ae0" fill-opacity="0.36"/>
<circle cx="408.7" cy="118.6" r="0.21" fill="#4a4ae0" fill-opacity="0.36"/>
<circle cx="437.9" cy="113.5" r="0.74" fill="#4a4ae0" fill-opacity="0.65"/>
<circle cx="417.1" cy="83.6" r="0.46" fill="#4a4ae0" fill-opacity="0.32"/>
<circle cx="413.9" cy="84.4" r="0.39" fill="#4a4ae0" fill-opacity="0.63"/>
<circle cx="414.1" cy="84.7" r="0.26" fill="#4a4ae0" fill-opacity="0.63"/>
<circle cx="413.9" cy="84.4" r="0.30" fill="#4a4ae0" fill-opacity="0.63"/>
<circle cx="459.3" cy="86.9" r="0.41" fill="#4a4ae0" fill-opacity="0.68"/>
<circle cx="403.6" cy="72.5" r="0.35" fill="#4a4ae0" fill-opacity="0.63"/>
<circle cx="402.3" cy="92.7" r="0.50" fill="#4a4ae0" fill-opacity="0.32"/>
<circle cx="454.5" cy="97.3" r="0.64" fill="#4a4ae0" fill-opacity="0.46"/>
<circle cx="462.8" cy="82.4" r="0.36" fill="#4a4ae0" fill-opacity="0.64"/>
<circle cx="450.1" cy="98.2" r="0.39" fill="#4a4ae0" fill-opacity="0.26"/>
<circle cx="448.0" cy="82.3" r="0.88" fill="#4a4ae0" fill-opacity="0.59"/>
<circle cx="448.2" cy="82.9" r="0.69" fill="#4a4ae0" fill-opacity="0.59"/>
<circle cx="448.4" cy="82.1" r="0.72" fill="#4a4ae0" fill-opacity="0.59"/>
<circle cx="460.2" cy="77.0" r="0.48" fill="#4a4ae0" fill-opacity="0.62"/>
<circle cx="434.9" cy="96.1" r="0.35" fill="#4a4ae0" fill-opacity="0.33"/>
</g></g>
<circle cx="429" cy="91.3" r="36.5" fill="none" stroke="#222" stroke-width="1.2"/>
<text x="262.9" y="234" font-size="12.5" text-anchor="middle" font-weight="normal" fill="#404040" stroke="#404040" stroke-width="0.08" >si-NC</text>
<text x="347.25" y="234.5" font-size="12.5" text-anchor="middle" font-weight="normal" fill="#404040" stroke="#404040" stroke-width="0.08" >si-MIB2#1</text>
<text x="427.1" y="234.5" font-size="12.5" text-anchor="middle" font-weight="normal" fill="#404040" stroke="#404040" stroke-width="0.08" >si-MIB2#2</text>
<text x="351.6" y="351.25" font-size="12.5" text-anchor="middle" font-weight="normal" fill="#404040" stroke="#404040" stroke-width="0.08" >A549</text>
<clipPath id="c4"><circle cx="262.5" cy="276.4" r="37"/></clipPath>
<circle cx="262.5" cy="276.4" r="37" fill="#ebebf0"/>
<g clip-path="url(#c4)">
<g>
<circle cx="263.5" cy="288.2" r="0.37" fill="#4848dc" fill-opacity="0.34"/>
<circle cx="267.3" cy="303.1" r="0.38" fill="#4848dc" fill-opacity="0.36"/>
<circle cx="267.6" cy="260.9" r="0.68" fill="#4848dc" fill-opacity="0.74"/>
<circle cx="250.1" cy="253.2" r="0.54" fill="#4848dc" fill-opacity="0.35"/>
<circle cx="280.7" cy="255.9" r="1.05" fill="#4848dc" fill-opacity="0.64"/>
<circle cx="242.8" cy="262.3" r="0.43" fill="#4848dc" fill-opacity="0.79"/>
<circle cx="242.8" cy="262.1" r="0.31" fill="#4848dc" fill-opacity="0.79"/>
<circle cx="241.2" cy="280.3" r="0.38" fill="#4848dc" fill-opacity="0.55"/>
<circle cx="249.4" cy="262.0" r="0.82" fill="#4848dc" fill-opacity="0.49"/>
<circle cx="272.2" cy="269.7" r="0.39" fill="#4848dc" fill-opacity="0.76"/>
<circle cx="264.2" cy="297.6" r="0.53" fill="#4848dc" fill-opacity="0.33"/>
<circle cx="267.3" cy="275.2" r="1.14" fill="#4848dc" fill-opacity="0.77"/>
<circle cx="258.1" cy="292.0" r="0.37" fill="#4848dc" fill-opacity="0.53"/>
<circle cx="260.7" cy="279.5" r="0.37" fill="#4848dc" fill-opacity="0.77"/>
<circle cx="259.6" cy="287.6" r="0.50" fill="#4848dc" fill-opacity="0.42"/>
<circle cx="259.3" cy="287.7" r="0.28" fill="#4848dc" fill-opacity="0.42"/>
<circle cx="287.6" cy="283.0" r="1.20" fill="#4848dc" fill-opacity="0.37"/>
<circle cx="244.5" cy="278.9" r="0.35" fill="#4848dc" fill-opacity="0.55"/>
<circle cx="280.8" cy="280.1" r="0.39" fill="#4848dc" fill-opacity="0.44"/>
<circle cx="228.7" cy="261.7" r="1.04" fill="#4848dc" fill-opacity="0.69"/>
<circle cx="261.6" cy="250.4" r="0.39" fill="#4848dc" fill-opacity="0.82"/>
<circle cx="233.0" cy="271.2" r="0.41" fill="#4848dc" fill-opacity="0.85"/>
<circle cx="258.7" cy="269.6" r="0.36" fill="#4848dc" fill-opacity="0.88"/>
<circle cx="233.5" cy="262.9" r="0.39" fill="#4848dc" fill-opacity="0.30"/>
<circle cx="297.0" cy="279.3" r="0.91" fill="#4848dc" fill-opacity="0.77"/>
<circle cx="229.6" cy="265.6" r="0.73" fill="#4848dc" fill-opacity="0.50"/>
<circle cx="228.2" cy="278.8" r="0.37" fill="#4848dc" fill-opacity="0.52"/>
<circle cx="258.7" cy="275.9" r="0.93" fill="#4848dc" fill-opacity="0.35"/>
<circle cx="238.4" cy="298.7" r="0.40" fill="#4848dc" fill-opacity="0.59"/>
<circle cx="282.9" cy="251.0" r="1.01" fill="#4848dc" fill-opacity="0.42"/>
<circle cx="279.7" cy="306.4" r="0.37" fill="#4848dc" fill-opacity="0.60"/>
<circle cx="228.5" cy="267.3" r="0.35" fill="#4848dc" fill-opacity="0.49"/>
<circle cx="231.3" cy="279.1" r="0.35" fill="#4848dc" fill-opacity="0.45"/>
<circle cx="255.4" cy="264.9" r="0.37" fill="#4848dc" fill-opacity="0.79"/>
<circle cx="245.3" cy="299.9" r="0.49" fill="#4848dc" fill-opacity="0.86"/>
<circle cx="250.5" cy="259.0" r="0.35" fill="#4848dc" fill-opacity="0.31"/>
<circle cx="234.5" cy="277.2" r="0.84" fill="#4848dc" fill-opacity="0.88"/>
<circle cx="234.7" cy="277.6" r="0.63" fill="#4848dc" fill-opacity="0.88"/>
<circle cx="234.9" cy="277.0" r="0.73" fill="#4848dc" fill-opacity="0.88"/>
<circle cx="238.7" cy="292.3" r="0.77" fill="#4848dc" fill-opacity="0.49"/>
<circle cx="290.3" cy="267.6" r="0.35" fill="#4848dc" fill-opacity="0.88"/>
<circle cx="287.7" cy="262.5" r="0.36" fill="#4848dc" fill-opacity="0.45"/>
<circle cx="273.2" cy="290.9" r="1.11" fill="#4848dc" fill-opacity="0.40"/>
<circle cx="260.4" cy="303.1" r="0.36" fill="#4848dc" fill-opacity="0.32"/>
<circle cx="248.0" cy="276.2" r="0.55" fill="#4848dc" fill-opacity="0.34"/>
<circle cx="248.3" cy="245.1" r="0.48" fill="#4848dc" fill-opacity="0.55"/>
<circle cx="247.9" cy="245.5" r="0.27" fill="#4848dc" fill-opacity="0.55"/>
<circle cx="248.0" cy="245.4" r="0.40" fill="#4848dc" fill-opacity="0.55"/>
<circle cx="259.4" cy="260.8" r="1.19" fill="#4848dc" fill-opacity="0.72"/>
<circle cx="276.7" cy="251.9" r="0.68" fill="#4848dc" fill-opacity="0.85"/>
<circle cx="291.1" cy="283.2" r="0.98" fill="#4848dc" fill-opacity="0.70"/>
<circle cx="285.7" cy="258.6" r="0.94" fill="#4848dc" fill-opacity="0.83"/>
<circle cx="241.2" cy="260.0" r="0.46" fill="#4848dc" fill-opacity="0.35"/>
<circle cx="235.2" cy="276.7" r="0.40" fill="#4848dc" fill-opacity="0.42"/>
<circle cx="235.4" cy="276.9" r="0.22" fill="#4848dc" fill-opacity="0.42"/>
<circle cx="235.5" cy="276.9" r="0.28" fill="#4848dc" fill-opacity="0.42"/>
<circle cx="258.9" cy="272.9" r="0.35" fill="#4848dc" fill-opacity="0.59"/>
<circle cx="259.1" cy="273.1" r="0.29" fill="#4848dc" fill-opacity="0.59"/>
<circle cx="263.4" cy="242.0" r="0.76" fill="#4848dc" fill-opacity="0.77"/>
<circle cx="248.2" cy="282.3" r="1.02" fill="#4848dc" fill-opacity="0.86"/>
<circle cx="261.5" cy="302.8" r="0.41" fill="#4848dc" fill-opacity="0.47"/>
<circle cx="284.2" cy="300.2" r="1.18" fill="#4848dc" fill-opacity="0.40"/>
<circle cx="285.0" cy="300.5" r="1.01" fill="#4848dc" fill-opacity="0.40"/>
<circle cx="250.0" cy="276.5" r="0.53" fill="#4848dc" fill-opacity="0.89"/>
<circle cx="263.7" cy="310.4" r="1.15" fill="#4848dc" fill-opacity="0.48"/>
<circle cx="243.7" cy="246.6" r="0.96" fill="#4848dc" fill-opacity="0.41"/>
<circle cx="294.4" cy="281.9" r="0.39" fill="#4848dc" fill-opacity="0.32"/>
<circle cx="238.3" cy="304.1" r="0.39" fill="#4848dc" fill-opacity="0.87"/>
<circle cx="247.8" cy="242.9" r="1.04" fill="#4848dc" fill-opacity="0.72"/>
<circle cx="269.1" cy="266.4" r="0.37" fill="#4848dc" fill-opacity="0.59"/>
<circle cx="241.0" cy="270.8" r="0.95" fill="#4848dc" fill-opacity="0.76"/>
<circle cx="240.5" cy="270.4" r="0.69" fill="#4848dc" fill-opacity="0.76"/>
<circle cx="272.5" cy="303.9" r="0.46" fill="#4848dc" fill-opacity="0.72"/>
<circle cx="263.9" cy="282.3" r="0.93" fill="#4848dc" fill-opacity="0.74"/>
<circle cx="255.0" cy="276.5" r="0.79" fill="#4848dc" fill-opacity="0.54"/>
<circle cx="254.9" cy="276.3" r="0.54" fill="#4848dc" fill-opacity="0.54"/>
<circle cx="259.8" cy="252.6" r="0.42" fill="#4848dc" fill-opacity="0.63"/>
<circle cx="226.2" cy="280.6" r="0.38" fill="#4848dc" fill-opacity="0.67"/>
<circle cx="236.9" cy="258.0" r="0.51" fill="#4848dc" fill-opacity="0.78"/>
<circle cx="236.7" cy="257.8" r="0.35" fill="#4848dc" fill-opacity="0.78"/>
<circle cx="250.9" cy="303.5" r="0.45" fill="#4848dc" fill-opacity="0.71"/>
<circle cx="297.1" cy="267.2" r="0.45" fill="#4848dc" fill-opacity="0.62"/>
<circle cx="239.6" cy="302.1" r="0.54" fill="#4848dc" fill-opacity="0.37"/>
<circle cx="232.2" cy="255.6" r="0.78" fill="#4848dc" fill-opacity="0.66"/>
<circle cx="232.6" cy="255.1" r="0.68" fill="#4848dc" fill-opacity="0.66"/>
<circle cx="232.5" cy="255.7" r="0.56" fill="#4848dc" fill-opacity="0.66"/>
<circle cx="261.8" cy="285.2" r="0.99" fill="#4848dc" fill-opacity="0.43"/>
<circle cx="295.2" cy="259.2" r="0.35" fill="#4848dc" fill-opacity="0.47"/>
<circle cx="252.5" cy="281.6" r="0.73" fill="#4848dc" fill-opacity="0.68"/>
<circle cx="233.2" cy="267.0" r="0.51" fill="#4848dc" fill-opacity="0.38"/>
<circle cx="233.1" cy="266.9" r="0.31" fill="#4848dc" fill-opacity="0.38"/>
<circle cx="233.3" cy="266.7" r="0.39" fill="#4848dc" fill-opacity="0.38"/>
<circle cx="295.2" cy="291.9" r="0.85" fill="#4848dc" fill-opacity="0.63"/>
<circle cx="235.7" cy="272.2" r="0.68" fill="#4848dc" fill-opacity="0.40"/>
<circle cx="247.8" cy="269.4" r="0.75" fill="#4848dc" fill-opacity="0.74"/>
<circle cx="242.1" cy="282.8" r="0.44" fill="#4848dc" fill-opacity="0.48"/>
<circle cx="269.0" cy="301.3" r="0.47" fill="#4848dc" fill-opacity="0.70"/>
<circle cx="284.1" cy="251.4" r="0.94" fill="#4848dc" fill-opacity="0.41"/>
<circle cx="283.4" cy="250.6" r="0.80" fill="#4848dc" fill-opacity="0.41"/>
<circle cx="283.3" cy="251.6" r="0.68" fill="#4848dc" fill-opacity="0.41"/>
<circle cx="248.2" cy="287.7" r="0.81" fill="#4848dc" fill-opacity="0.47"/>
<circle cx="247.7" cy="287.1" r="0.40" fill="#4848dc" fill-opacity="0.47"/>
<circle cx="248.9" cy="287.6" r="0.64" fill="#4848dc" fill-opacity="0.47"/>
<circle cx="228.3" cy="263.4" r="0.45" fill="#4848dc" fill-opacity="0.71"/>
<circle cx="228.5" cy="263.5" r="0.32" fill="#4848dc" fill-opacity="0.71"/>
<circle cx="254.0" cy="283.2" r="0.39" fill="#4848dc" fill-opacity="0.32"/>
<circle cx="264.2" cy="241.7" r="0.73" fill="#4848dc" fill-opacity="0.83"/>
<circle cx="280.1" cy="267.4" r="0.35" fill="#4848dc" fill-opacity="0.83"/>
<circle cx="254.1" cy="260.4" r="0.54" fill="#4848dc" fill-opacity="0.83"/>
<circle cx="241.4" cy="287.7" r="0.36" fill="#4848dc" fill-opacity="0.82"/>
<circle cx="241.6" cy="287.6" r="0.29" fill="#4848dc" fill-opacity="0.82"/>
<circle cx="241.3" cy="287.5" r="0.23" fill="#4848dc" fill-opacity="0.82"/>
<circle cx="261.0" cy="246.2" r="0.68" fill="#4848dc" fill-opacity="0.41"/>
<circle cx="264.7" cy="280.8" r="0.99" fill="#4848dc" fill-opacity="0.48"/>
<circle cx="265.1" cy="280.2" r="0.82" fill="#4848dc" fill-opacity="0.48"/>
<circle cx="265.2" cy="280.9" r="0.61" fill="#4848dc" fill-opacity="0.48"/>
<circle cx="257.2" cy="247.3" r="0.89" fill="#4848dc" fill-opacity="0.34"/>
<circle cx="263.8" cy="278.8" r="0.89" fill="#4848dc" fill-opacity="0.43"/>
<circle cx="263.5" cy="278.9" r="0.65" fill="#4848dc" fill-opacity="0.43"/>
<circle cx="253.2" cy="242.2" r="0.69" fill="#4848dc" fill-opacity="0.37"/>
<circle cx="290.8" cy="295.9" r="0.78" fill="#4848dc" fill-opacity="0.83"/>
<circle cx="255.1" cy="282.8" r="0.70" fill="#4848dc" fill-opacity="0.82"/>
<circle cx="232.4" cy="291.0" r="0.36" fill="#4848dc" fill-opacity="0.39"/>
<circle cx="229.4" cy="285.8" r="0.97" fill="#4848dc" fill-opacity="0.52"/>
<circle cx="263.1" cy="306.0" r="0.35" fill="#4848dc" fill-opacity="0.54"/>
<circle cx="250.3" cy="265.9" r="0.60" fill="#4848dc" fill-opacity="0.34"/>
<circle cx="284.5" cy="288.6" r="0.59" fill="#4848dc" fill-opacity="0.47"/>
<circle cx="264.4" cy="260.5" r="0.64" fill="#4848dc" fill-opacity="0.46"/>
<circle cx="245.2" cy="302.3" r="1.16" fill="#4848dc" fill-opacity="0.88"/>
<circle cx="264.5" cy="255.1" r="0.39" fill="#4848dc" fill-opacity="0.74"/>
<circle cx="249.5" cy="274.0" r="0.46" fill="#4848dc" fill-opacity="0.61"/>
<circle cx="242.4" cy="283.0" r="0.76" fill="#4848dc" fill-opacity="0.75"/>
<circle cx="243.7" cy="278.2" r="0.72" fill="#4848dc" fill-opacity="0.75"/>
<circle cx="235.0" cy="268.3" r="0.37" fill="#4848dc" fill-opacity="0.60"/>
<circle cx="250.8" cy="286.8" r="0.68" fill="#4848dc" fill-opacity="0.54"/>
<circle cx="232.8" cy="282.3" r="0.41" fill="#4848dc" fill-opacity="0.56"/>
<circle cx="292.1" cy="283.3" r="1.02" fill="#4848dc" fill-opacity="0.41"/>
<circle cx="287.9" cy="281.9" r="0.86" fill="#4848dc" fill-opacity="0.76"/>
<circle cx="288.2" cy="281.8" r="0.56" fill="#4848dc" fill-opacity="0.76"/>
<circle cx="252.4" cy="285.0" r="1.18" fill="#4848dc" fill-opacity="0.76"/>
<circle cx="265.7" cy="265.0" r="0.37" fill="#4848dc" fill-opacity="0.67"/>
<circle cx="263.8" cy="267.2" r="0.93" fill="#4848dc" fill-opacity="0.32"/>
<circle cx="297.8" cy="272.2" r="0.37" fill="#4848dc" fill-opacity="0.54"/>
<circle cx="276.3" cy="269.7" r="0.45" fill="#4848dc" fill-opacity="0.45"/>
<circle cx="261.4" cy="288.1" r="0.36" fill="#4848dc" fill-opacity="0.82"/>
<circle cx="242.8" cy="274.6" r="0.42" fill="#4848dc" fill-opacity="0.68"/>
<circle cx="232.9" cy="273.0" r="0.76" fill="#4848dc" fill-opacity="0.48"/>
<circle cx="231.0" cy="269.9" r="0.44" fill="#4848dc" fill-opacity="0.67"/>
<circle cx="275.0" cy="258.6" r="0.67" fill="#4848dc" fill-opacity="0.66"/>
<circle cx="261.2" cy="312.3" r="0.36" fill="#4848dc" fill-opacity="0.60"/>
<circle cx="261.4" cy="305.2" r="0.48" fill="#4848dc" fill-opacity="0.52"/>
<circle cx="238.5" cy="281.6" r="0.55" fill="#4848dc" fill-opacity="0.38"/>
<circle cx="233.8" cy="294.9" r="0.60" fill="#4848dc" fill-opacity="0.48"/>
<circle cx="235.2" cy="287.4" r="0.35" fill="#4848dc" fill-opacity="0.40"/>
<circle cx="264.5" cy="309.3" r="0.72" fill="#4848dc" fill-opacity="0.84"/>
<circle cx="288.1" cy="282.9" r="0.51" fill="#4848dc" fill-opacity="0.74"/>
<circle cx="266.8" cy="291.1" r="0.81" fill="#4848dc" fill-opacity="0.79"/>
<circle cx="266.4" cy="291.7" r="0.43" fill="#4848dc" fill-opacity="0.79"/>
<circle cx="231.7" cy="260.5" r="0.75" fill="#4848dc" fill-opacity="0.50"/>
<circle cx="248.5" cy="279.2" r="0.56" fill="#4848dc" fill-opacity="0.89"/>
<circle cx="291.5" cy="268.9" r="0.35" fill="#4848dc" fill-opacity="0.90"/>
<circle cx="254.2" cy="247.8" r="0.60" fill="#4848dc" fill-opacity="0.86"/>
<circle cx="264.7" cy="267.1" r="0.57" fill="#4848dc" fill-opacity="0.63"/>
<circle cx="234.7" cy="278.1" r="0.74" fill="#4848dc" fill-opacity="0.65"/>
<circle cx="285.2" cy="254.4" r="0.40" fill="#4848dc" fill-opacity="0.75"/>
<circle cx="244.9" cy="248.2" r="0.55" fill="#4848dc" fill-opacity="0.39"/>
<circle cx="279.4" cy="304.7" r="0.41" fill="#4848dc" fill-opacity="0.75"/>
<circle cx="260.6" cy="260.3" r="0.51" fill="#4848dc" fill-opacity="0.89"/>
<circle cx="236.1" cy="271.3" r="0.45" fill="#4848dc" fill-opacity="0.70"/>
<circle cx="235.6" cy="260.5" r="0.84" fill="#4848dc" fill-opacity="0.79"/>
<circle cx="284.8" cy="285.6" r="0.37" fill="#4848dc" fill-opacity="0.58"/>
<circle cx="294.0" cy="269.9" r="0.79" fill="#4848dc" fill-opacity="0.64"/>
<circle cx="279.5" cy="260.5" r="0.92" fill="#4848dc" fill-opacity="0.39"/>
<circle cx="279.2" cy="260.1" r="0.60" fill="#4848dc" fill-opacity="0.39"/>
<circle cx="279.9" cy="260.0" r="0.57" fill="#4848dc" fill-opacity="0.39"/>
<circle cx="239.3" cy="304.7" r="1.13" fill="#4848dc" fill-opacity="0.74"/>
<circle cx="285.2" cy="267.7" r="0.51" fill="#4848dc" fill-opacity="0.74"/>
<circle cx="264.8" cy="263.4" r="0.59" fill="#4848dc" fill-opacity="0.50"/>
<circle cx="264.5" cy="263.2" r="0.43" fill="#4848dc" fill-opacity="0.50"/>
<circle cx="264.5" cy="263.1" r="0.31" fill="#4848dc" fill-opacity="0.50"/>
<circle cx="242.9" cy="303.8" r="0.41" fill="#4848dc" fill-opacity="0.38"/>
<circle cx="261.6" cy="260.4" r="0.35" fill="#4848dc" fill-opacity="0.37"/>
<circle cx="261.4" cy="260.5" r="0.20" fill="#4848dc" fill-opacity="0.37"/>
<circle cx="261.5" cy="260.2" r="0.29" fill="#4848dc" fill-opacity="0.37"/>
<circle cx="239.3" cy="266.7" r="0.64" fill="#4848dc" fill-opacity="0.88"/>
<circle cx="245.3" cy="257.8" r="0.39" fill="#4848dc" fill-opacity="0.78"/>
<circle cx="242.0" cy="260.6" r="0.35" fill="#4848dc" fill-opacity="0.34"/>
<circle cx="263.5" cy="261.6" r="0.84" fill="#4848dc" fill-opacity="0.70"/>
<circle cx="250.9" cy="274.2" r="0.73" fill="#4848dc" fill-opacity="0.71"/>
<circle cx="256.9" cy="260.1" r="0.47" fill="#4848dc" fill-opacity="0.75"/>
<circle cx="260.7" cy="287.9" r="0.99" fill="#4848dc" fill-opacity="0.90"/>
<circle cx="260.6" cy="288.6" r="0.72" fill="#4848dc" fill-opacity="0.90"/>
<circle cx="229.7" cy="292.4" r="1.03" fill="#4848dc" fill-opacity="0.79"/>
<circle cx="242.4" cy="287.9" r="0.73" fill="#4848dc" fill-opacity="0.78"/>
<circle cx="282.5" cy="291.0" r="1.15" fill="#4848dc" fill-opacity="0.71"/>
<circle cx="227.6" cy="273.7" r="0.77" fill="#4848dc" fill-opacity="0.52"/>
<circle cx="264.2" cy="260.0" r="0.95" fill="#4848dc" fill-opacity="0.90"/>
<circle cx="280.8" cy="256.7" r="0.93" fill="#4848dc" fill-opacity="0.36"/>
<circle cx="236.9" cy="274.6" r="1.20" fill="#4848dc" fill-opacity="0.63"/>
<circle cx="266.8" cy="280.4" r="0.44" fill="#4848dc" fill-opacity="0.89"/>
<circle cx="267.0" cy="280.2" r="0.27" fill="#4848dc" fill-opacity="0.89"/>
<circle cx="266.6" cy="280.1" r="0.32" fill="#4848dc" fill-opacity="0.89"/>
<circle cx="246.6" cy="269.9" r="0.56" fill="#4848dc" fill-opacity="0.72"/>
<circle cx="237.6" cy="278.3" r="0.56" fill="#4848dc" fill-opacity="0.52"/>
<circle cx="237.6" cy="278.6" r="0.36" fill="#4848dc" fill-opacity="0.52"/>
<circle cx="237.9" cy="278.6" r="0.33" fill="#4848dc" fill-opacity="0.52"/>
<circle cx="263.9" cy="268.9" r="0.87" fill="#4848dc" fill-opacity="0.73"/>
<circle cx="253.1" cy="289.1" r="0.65" fill="#4848dc" fill-opacity="0.77"/>
<circle cx="229.8" cy="291.2" r="0.82" fill="#4848dc" fill-opacity="0.69"/>
<circle cx="252.2" cy="283.8" r="0.99" fill="#4848dc" fill-opacity="0.62"/>
<circle cx="271.6" cy="263.1" r="0.63" fill="#4848dc" fill-opacity="0.59"/>
<circle cx="298.1" cy="279.8" r="0.56" fill="#4848dc" fill-opacity="0.32"/>
<circle cx="226.5" cy="275.0" r="0.36" fill="#4848dc" fill-opacity="0.82"/>
<circle cx="235.9" cy="276.8" r="0.53" fill="#4848dc" fill-opacity="0.57"/>
<circle cx="287.3" cy="250.0" r="0.38" fill="#4848dc" fill-opacity="0.80"/>
<circle cx="242.9" cy="246.7" r="0.42" fill="#4848dc" fill-opacity="0.64"/>
<circle cx="243.0" cy="246.7" r="0.34" fill="#4848dc" fill-opacity="0.64"/>
<circle cx="243.0" cy="246.8" r="0.35" fill="#4848dc" fill-opacity="0.64"/>
<circle cx="272.2" cy="288.6" r="0.38" fill="#4848dc" fill-opacity="0.84"/>
<circle cx="260.9" cy="272.6" r="0.41" fill="#4848dc" fill-opacity="0.62"/>
<circle cx="281.4" cy="303.2" r="0.62" fill="#4848dc" fill-opacity="0.67"/>
<circle cx="281.6" cy="303.0" r="0.33" fill="#4848dc" fill-opacity="0.67"/>
<circle cx="281.5" cy="303.0" r="0.35" fill="#4848dc" fill-opacity="0.67"/>
<circle cx="253.1" cy="284.9" r="0.67" fill="#4848dc" fill-opacity="0.54"/>
<circle cx="273.8" cy="251.5" r="1.15" fill="#4848dc" fill-opacity="0.62"/>
<circle cx="243.6" cy="278.9" r="0.87" fill="#4848dc" fill-opacity="0.35"/>
<circle cx="243.6" cy="278.7" r="0.60" fill="#4848dc" fill-opacity="0.35"/>
<circle cx="243.1" cy="278.9" r="0.63" fill="#4848dc" fill-opacity="0.35"/>
<circle cx="234.3" cy="270.9" r="0.35" fill="#4848dc" fill-opacity="0.78"/>
<circle cx="238.3" cy="261.2" r="0.91" fill="#4848dc" fill-opacity="0.89"/>
<circle cx="242.5" cy="288.1" r="0.37" fill="#4848dc" fill-opacity="0.41"/>
<circle cx="231.5" cy="296.5" r="0.46" fill="#4848dc" fill-opacity="0.39"/>
<circle cx="264.1" cy="285.7" r="0.44" fill="#4848dc" fill-opacity="0.63"/>
<circle cx="264.2" cy="285.5" r="0.23" fill="#4848dc" fill-opacity="0.63"/>
<circle cx="253.6" cy="290.9" r="0.50" fill="#4848dc" fill-opacity="0.63"/>
<circle cx="271.3" cy="295.0" r="0.82" fill="#4848dc" fill-opacity="0.79"/>
<circle cx="235.2" cy="283.1" r="0.86" fill="#4848dc" fill-opacity="0.57"/>
<circle cx="246.1" cy="279.0" r="0.46" fill="#4848dc" fill-opacity="0.56"/>
<circle cx="241.4" cy="296.8" r="0.42" fill="#4848dc" fill-opacity="0.51"/>
<circle cx="236.4" cy="256.9" r="0.74" fill="#4848dc" fill-opacity="0.52"/>
<circle cx="235.9" cy="256.8" r="0.44" fill="#4848dc" fill-opacity="0.52"/>
<circle cx="233.2" cy="264.2" r="0.80" fill="#4848dc" fill-opacity="0.48"/>
<circle cx="274.9" cy="251.8" r="0.46" fill="#4848dc" fill-opacity="0.83"/>
<circle cx="274.7" cy="252.1" r="0.33" fill="#4848dc" fill-opacity="0.83"/>
<circle cx="274.7" cy="251.6" r="0.30" fill="#4848dc" fill-opacity="0.83"/>
<circle cx="274.6" cy="307.4" r="0.65" fill="#4848dc" fill-opacity="0.60"/>
<circle cx="270.8" cy="265.4" r="1.14" fill="#4848dc" fill-opacity="0.68"/>
<circle cx="267.1" cy="250.3" r="0.52" fill="#4848dc" fill-opacity="0.76"/>
<circle cx="259.6" cy="247.5" r="0.56" fill="#4848dc" fill-opacity="0.55"/>
<circle cx="251.4" cy="276.8" r="0.51" fill="#4848dc" fill-opacity="0.41"/>
</g></g>
<circle cx="262.5" cy="276.4" r="36.5" fill="none" stroke="#222" stroke-width="1.2"/>
<clipPath id="c5"><circle cx="348.75" cy="275.75" r="36.5"/></clipPath>
<circle cx="348.75" cy="275.75" r="36.5" fill="#ebebf0"/>
<g clip-path="url(#c5)">
<g>
<circle cx="326.2" cy="253.8" r="0.86" fill="#4a4ae0" fill-opacity="0.87"/>
<circle cx="354.2" cy="272.8" r="0.52" fill="#4a4ae0" fill-opacity="0.87"/>
<circle cx="358.7" cy="268.6" r="0.53" fill="#4a4ae0" fill-opacity="0.49"/>
<circle cx="345.0" cy="273.9" r="0.39" fill="#4a4ae0" fill-opacity="0.50"/>
<circle cx="350.2" cy="261.2" r="0.86" fill="#4a4ae0" fill-opacity="0.43"/>
<circle cx="349.8" cy="276.8" r="0.96" fill="#4a4ae0" fill-opacity="0.47"/>
<circle cx="382.6" cy="272.0" r="0.42" fill="#4a4ae0" fill-opacity="0.88"/>
<circle cx="341.5" cy="260.9" r="1.06" fill="#4a4ae0" fill-opacity="0.73"/>
<circle cx="364.4" cy="263.4" r="0.45" fill="#4a4ae0" fill-opacity="0.44"/>
<circle cx="364.3" cy="263.5" r="0.23" fill="#4a4ae0" fill-opacity="0.44"/>
<circle cx="339.5" cy="256.7" r="0.43" fill="#4a4ae0" fill-opacity="0.80"/>
<circle cx="338.6" cy="298.9" r="0.75" fill="#4a4ae0" fill-opacity="0.38"/>
<circle cx="380.0" cy="280.3" r="0.92" fill="#4a4ae0" fill-opacity="0.36"/>
<circle cx="330.2" cy="296.4" r="0.35" fill="#4a4ae0" fill-opacity="0.38"/>
<circle cx="364.3" cy="271.3" r="0.81" fill="#4a4ae0" fill-opacity="0.86"/>
<circle cx="336.6" cy="293.8" r="0.57" fill="#4a4ae0" fill-opacity="0.78"/>
<circle cx="336.9" cy="294.1" r="0.29" fill="#4a4ae0" fill-opacity="0.78"/>
<circle cx="337.0" cy="293.4" r="0.36" fill="#4a4ae0" fill-opacity="0.78"/>
<circle cx="321.9" cy="253.3" r="0.44" fill="#4a4ae0" fill-opacity="0.86"/>
<circle cx="340.9" cy="294.7" r="0.38" fill="#4a4ae0" fill-opacity="0.39"/>
<circle cx="341.2" cy="294.5" r="0.19" fill="#4a4ae0" fill-opacity="0.39"/>
<circle cx="341.2" cy="294.8" r="0.25" fill="#4a4ae0" fill-opacity="0.39"/>
<circle cx="351.0" cy="303.8" r="0.90" fill="#4a4ae0" fill-opacity="0.60"/>
<circle cx="381.6" cy="287.7" r="0.35" fill="#4a4ae0" fill-opacity="0.62"/>
<circle cx="370.0" cy="298.6" r="1.07" fill="#4a4ae0" fill-opacity="0.70"/>
<circle cx="367.6" cy="290.7" r="0.37" fill="#4a4ae0" fill-opacity="0.81"/>
<circle cx="313.8" cy="286.3" r="0.93" fill="#4a4ae0" fill-opacity="0.89"/>
<circle cx="317.7" cy="278.1" r="0.53" fill="#4a4ae0" fill-opacity="0.51"/>
<circle cx="362.3" cy="293.6" r="1.13" fill="#4a4ae0" fill-opacity="0.88"/>
<circle cx="327.5" cy="275.8" r="0.36" fill="#4a4ae0" fill-opacity="0.50"/>
<circle cx="363.5" cy="259.5" r="0.84" fill="#4a4ae0" fill-opacity="0.78"/>
<circle cx="332.4" cy="248.5" r="0.46" fill="#4a4ae0" fill-opacity="0.74"/>
<circle cx="316.9" cy="278.6" r="0.73" fill="#4a4ae0" fill-opacity="0.51"/>
<circle cx="332.4" cy="253.3" r="0.35" fill="#4a4ae0" fill-opacity="0.65"/>
<circle cx="337.0" cy="253.9" r="0.88" fill="#4a4ae0" fill-opacity="0.71"/>
<circle cx="331.8" cy="299.7" r="0.79" fill="#4a4ae0" fill-opacity="0.81"/>
<circle cx="367.5" cy="247.3" r="0.73" fill="#4a4ae0" fill-opacity="0.89"/>
<circle cx="322.4" cy="272.7" r="0.37" fill="#4a4ae0" fill-opacity="0.81"/>
<circle cx="318.7" cy="280.1" r="0.76" fill="#4a4ae0" fill-opacity="0.75"/>
<circle cx="354.0" cy="248.4" r="0.70" fill="#4a4ae0" fill-opacity="0.58"/>
<circle cx="353.3" cy="247.0" r="0.77" fill="#4a4ae0" fill-opacity="0.37"/>
<circle cx="321.3" cy="286.4" r="0.39" fill="#4a4ae0" fill-opacity="0.73"/>
<circle cx="373.0" cy="282.3" r="0.39" fill="#4a4ae0" fill-opacity="0.38"/>
<circle cx="372.8" cy="282.1" r="0.20" fill="#4a4ae0" fill-opacity="0.38"/>
<circle cx="326.8" cy="280.6" r="0.65" fill="#4a4ae0" fill-opacity="0.67"/>
<circle cx="349.5" cy="275.2" r="0.48" fill="#4a4ae0" fill-opacity="0.50"/>
<circle cx="373.7" cy="297.8" r="0.46" fill="#4a4ae0" fill-opacity="0.37"/>
<circle cx="371.1" cy="290.9" r="0.44" fill="#4a4ae0" fill-opacity="0.67"/>
<circle cx="358.6" cy="254.3" r="0.88" fill="#4a4ae0" fill-opacity="0.70"/>
<circle cx="366.4" cy="297.7" r="0.60" fill="#4a4ae0" fill-opacity="0.88"/>
<circle cx="332.0" cy="262.1" r="0.99" fill="#4a4ae0" fill-opacity="0.35"/>
<circle cx="332.1" cy="261.5" r="0.74" fill="#4a4ae0" fill-opacity="0.35"/>
<circle cx="332.6" cy="261.9" r="0.67" fill="#4a4ae0" fill-opacity="0.35"/>
<circle cx="351.7" cy="295.2" r="1.11" fill="#4a4ae0" fill-opacity="0.56"/>
<circle cx="372.9" cy="261.2" r="0.40" fill="#4a4ae0" fill-opacity="0.89"/>
<circle cx="331.0" cy="286.2" r="1.13" fill="#4a4ae0" fill-opacity="0.62"/>
<circle cx="336.1" cy="277.6" r="0.66" fill="#4a4ae0" fill-opacity="0.59"/>
<circle cx="355.3" cy="243.2" r="0.35" fill="#4a4ae0" fill-opacity="0.64"/>
<circle cx="378.4" cy="263.0" r="0.40" fill="#4a4ae0" fill-opacity="0.50"/>
<circle cx="368.5" cy="274.4" r="0.65" fill="#4a4ae0" fill-opacity="0.61"/>
<circle cx="323.7" cy="256.6" r="0.36" fill="#4a4ae0" fill-opacity="0.77"/>
<circle cx="328.1" cy="271.3" r="0.42" fill="#4a4ae0" fill-opacity="0.64"/>
<circle cx="328.5" cy="299.9" r="0.63" fill="#4a4ae0" fill-opacity="0.37"/>
<circle cx="315.2" cy="285.4" r="0.98" fill="#4a4ae0" fill-opacity="0.65"/>
<circle cx="315.0" cy="285.5" r="0.77" fill="#4a4ae0" fill-opacity="0.65"/>
<circle cx="315.4" cy="285.3" r="0.85" fill="#4a4ae0" fill-opacity="0.65"/>
<circle cx="331.6" cy="290.8" r="0.93" fill="#4a4ae0" fill-opacity="0.46"/>
<circle cx="353.3" cy="267.5" r="0.91" fill="#4a4ae0" fill-opacity="0.73"/>
<circle cx="341.4" cy="307.2" r="1.01" fill="#4a4ae0" fill-opacity="0.43"/>
<circle cx="324.2" cy="267.9" r="0.44" fill="#4a4ae0" fill-opacity="0.43"/>
<circle cx="352.4" cy="266.9" r="0.39" fill="#4a4ae0" fill-opacity="0.80"/>
<circle cx="345.7" cy="270.8" r="0.77" fill="#4a4ae0" fill-opacity="0.89"/>
<circle cx="346.3" cy="268.1" r="0.92" fill="#4a4ae0" fill-opacity="0.47"/>
<circle cx="378.2" cy="266.6" r="0.36" fill="#4a4ae0" fill-opacity="0.51"/>
<circle cx="365.6" cy="298.8" r="0.49" fill="#4a4ae0" fill-opacity="0.44"/>
<circle cx="360.3" cy="279.0" r="0.47" fill="#4a4ae0" fill-opacity="0.39"/>
<circle cx="360.5" cy="279.3" r="0.26" fill="#4a4ae0" fill-opacity="0.39"/>
<circle cx="360.3" cy="278.9" r="0.34" fill="#4a4ae0" fill-opacity="0.39"/>
<circle cx="313.5" cy="278.1" r="0.46" fill="#4a4ae0" fill-opacity="0.38"/>
<circle cx="365.6" cy="299.3" r="0.55" fill="#4a4ae0" fill-opacity="0.85"/>
<circle cx="335.2" cy="262.9" r="0.59" fill="#4a4ae0" fill-opacity="0.49"/>
<circle cx="335.5" cy="274.3" r="0.39" fill="#4a4ae0" fill-opacity="0.55"/>
<circle cx="362.0" cy="303.6" r="0.69" fill="#4a4ae0" fill-opacity="0.40"/>
<circle cx="359.6" cy="282.7" r="0.63" fill="#4a4ae0" fill-opacity="0.48"/>
<circle cx="328.2" cy="278.3" r="0.86" fill="#4a4ae0" fill-opacity="0.37"/>
<circle cx="362.1" cy="280.4" r="1.08" fill="#4a4ae0" fill-opacity="0.72"/>
<circle cx="375.6" cy="299.7" r="0.70" fill="#4a4ae0" fill-opacity="0.80"/>
<circle cx="375.4" cy="299.4" r="0.45" fill="#4a4ae0" fill-opacity="0.80"/>
<circle cx="375.7" cy="299.6" r="0.46" fill="#4a4ae0" fill-opacity="0.80"/>
<circle cx="370.5" cy="300.9" r="0.69" fill="#4a4ae0" fill-opacity="0.79"/>
<circle cx="364.4" cy="254.7" r="0.63" fill="#4a4ae0" fill-opacity="0.67"/>
<circle cx="339.7" cy="282.7" r="0.35" fill="#4a4ae0" fill-opacity="0.46"/>
<circle cx="339.7" cy="282.8" r="0.18" fill="#4a4ae0" fill-opacity="0.46"/>
<circle cx="339.7" cy="282.9" r="0.26" fill="#4a4ae0" fill-opacity="0.46"/>
<circle cx="326.3" cy="286.5" r="0.36" fill="#4a4ae0" fill-opacity="0.44"/>
<circle cx="332.8" cy="291.8" r="0.97" fill="#4a4ae0" fill-opacity="0.43"/>
<circle cx="346.2" cy="290.2" r="0.42" fill="#4a4ae0" fill-opacity="0.48"/>
<circle cx="383.1" cy="282.8" r="0.46" fill="#4a4ae0" fill-opacity="0.87"/>
<circle cx="337.2" cy="253.5" r="1.07" fill="#4a4ae0" fill-opacity="0.41"/>
<circle cx="341.1" cy="304.7" r="0.78" fill="#4a4ae0" fill-opacity="0.44"/>
<circle cx="366.1" cy="278.5" r="0.35" fill="#4a4ae0" fill-opacity="0.57"/>
<circle cx="335.3" cy="291.1" r="0.53" fill="#4a4ae0" fill-opacity="0.51"/>
<circle cx="345.8" cy="261.3" r="0.40" fill="#4a4ae0" fill-opacity="0.72"/>
<circle cx="334.2" cy="256.7" r="1.11" fill="#4a4ae0" fill-opacity="0.35"/>
<circle cx="334.0" cy="255.9" r="0.80" fill="#4a4ae0" fill-opacity="0.35"/>
<circle cx="335.0" cy="256.8" r="0.71" fill="#4a4ae0" fill-opacity="0.35"/>
<circle cx="356.8" cy="281.2" r="1.00" fill="#4a4ae0" fill-opacity="0.62"/>
<circle cx="365.7" cy="281.7" r="0.35" fill="#4a4ae0" fill-opacity="0.57"/>
<circle cx="365.7" cy="281.6" r="0.18" fill="#4a4ae0" fill-opacity="0.57"/>
<circle cx="383.7" cy="284.2" r="0.38" fill="#4a4ae0" fill-opacity="0.63"/>
<circle cx="338.4" cy="273.7" r="0.43" fill="#4a4ae0" fill-opacity="0.41"/>
<circle cx="373.6" cy="262.4" r="0.94" fill="#4a4ae0" fill-opacity="0.47"/>
<circle cx="373.6" cy="262.5" r="0.61" fill="#4a4ae0" fill-opacity="0.47"/>
<circle cx="373.8" cy="262.7" r="0.81" fill="#4a4ae0" fill-opacity="0.47"/>
<circle cx="340.1" cy="298.6" r="0.90" fill="#4a4ae0" fill-opacity="0.47"/>
<circle cx="339.5" cy="299.0" r="0.74" fill="#4a4ae0" fill-opacity="0.47"/>
<circle cx="343.7" cy="287.9" r="0.36" fill="#4a4ae0" fill-opacity="0.48"/>
<circle cx="343.7" cy="287.7" r="0.19" fill="#4a4ae0" fill-opacity="0.48"/>
<circle cx="346.3" cy="268.1" r="0.38" fill="#4a4ae0" fill-opacity="0.51"/>
<circle cx="368.0" cy="289.5" r="0.43" fill="#4a4ae0" fill-opacity="0.76"/>
<circle cx="372.2" cy="257.8" r="0.81" fill="#4a4ae0" fill-opacity="0.67"/>
<circle cx="360.8" cy="248.8" r="1.08" fill="#4a4ae0" fill-opacity="0.75"/>
<circle cx="345.1" cy="308.4" r="0.47" fill="#4a4ae0" fill-opacity="0.42"/>
<circle cx="344.9" cy="308.6" r="0.29" fill="#4a4ae0" fill-opacity="0.42"/>
<circle cx="378.1" cy="288.1" r="0.60" fill="#4a4ae0" fill-opacity="0.37"/>
<circle cx="378.0" cy="288.5" r="0.53" fill="#4a4ae0" fill-opacity="0.37"/>
<circle cx="335.4" cy="264.4" r="0.50" fill="#4a4ae0" fill-opacity="0.55"/>
<circle cx="376.6" cy="277.9" r="0.90" fill="#4a4ae0" fill-opacity="0.75"/>
<circle cx="376.1" cy="278.2" r="0.61" fill="#4a4ae0" fill-opacity="0.75"/>
<circle cx="377.2" cy="278.4" r="0.49" fill="#4a4ae0" fill-opacity="0.75"/>
<circle cx="334.5" cy="307.6" r="0.52" fill="#4a4ae0" fill-opacity="0.59"/>
<circle cx="352.6" cy="240.6" r="0.58" fill="#4a4ae0" fill-opacity="0.88"/>
<circle cx="375.0" cy="295.7" r="0.49" fill="#4a4ae0" fill-opacity="0.38"/>
<circle cx="375.9" cy="281.4" r="0.54" fill="#4a4ae0" fill-opacity="0.83"/>
<circle cx="352.9" cy="294.5" r="0.38" fill="#4a4ae0" fill-opacity="0.66"/>
<circle cx="348.9" cy="257.8" r="0.45" fill="#4a4ae0" fill-opacity="0.49"/>
<circle cx="366.8" cy="247.4" r="0.66" fill="#4a4ae0" fill-opacity="0.57"/>
<circle cx="366.8" cy="246.9" r="0.37" fill="#4a4ae0" fill-opacity="0.57"/>
<circle cx="366.4" cy="247.6" r="0.56" fill="#4a4ae0" fill-opacity="0.57"/>
<circle cx="359.0" cy="306.7" r="0.43" fill="#4a4ae0" fill-opacity="0.73"/>
<circle cx="325.4" cy="252.9" r="0.46" fill="#4a4ae0" fill-opacity="0.36"/>
<circle cx="335.3" cy="267.6" r="0.47" fill="#4a4ae0" fill-opacity="0.52"/>
<circle cx="335.2" cy="267.6" r="0.37" fill="#4a4ae0" fill-opacity="0.52"/>
<circle cx="319.6" cy="297.2" r="0.88" fill="#4a4ae0" fill-opacity="0.86"/>
<circle cx="335.9" cy="252.3" r="0.86" fill="#4a4ae0" fill-opacity="0.55"/>
<circle cx="337.4" cy="251.9" r="0.41" fill="#4a4ae0" fill-opacity="0.39"/>
<circle cx="337.5" cy="252.1" r="0.33" fill="#4a4ae0" fill-opacity="0.39"/>
<circle cx="336.5" cy="308.7" r="0.41" fill="#4a4ae0" fill-opacity="0.74"/>
<circle cx="336.6" cy="309.0" r="0.35" fill="#4a4ae0" fill-opacity="0.74"/>
<circle cx="336.6" cy="308.9" r="0.33" fill="#4a4ae0" fill-opacity="0.74"/>
<circle cx="336.0" cy="265.0" r="0.56" fill="#4a4ae0" fill-opacity="0.84"/>
<circle cx="375.3" cy="271.5" r="0.47" fill="#4a4ae0" fill-opacity="0.35"/>
<circle cx="361.6" cy="302.3" r="1.00" fill="#4a4ae0" fill-opacity="0.85"/>
</g></g>
<circle cx="348.15" cy="276.05" r="34.8" fill="none" stroke="#f6f6f8" stroke-width="1.2"/>
<circle cx="348.15" cy="276.05" r="33.8" fill="none" stroke="#707078" stroke-width="0.9"/>
<circle cx="348.75" cy="275.75" r="36" fill="none" stroke="#222" stroke-width="1.2"/>
<clipPath id="c6"><circle cx="431.6" cy="276.6" r="37"/></clipPath>
<circle cx="431.6" cy="276.6" r="37" fill="#ebebf0"/>
<g clip-path="url(#c6)">
<g>
<circle cx="440.6" cy="244.3" r="0.53" fill="#4a4ae0" fill-opacity="0.44"/>
<circle cx="440.6" cy="244.5" r="0.34" fill="#4a4ae0" fill-opacity="0.44"/>
<circle cx="440.8" cy="244.1" r="0.43" fill="#4a4ae0" fill-opacity="0.44"/>
<circle cx="428.6" cy="253.0" r="0.57" fill="#4a4ae0" fill-opacity="0.68"/>
<circle cx="400.3" cy="265.6" r="0.40" fill="#4a4ae0" fill-opacity="0.74"/>
<circle cx="443.6" cy="258.8" r="0.36" fill="#4a4ae0" fill-opacity="0.74"/>
<circle cx="420.9" cy="280.4" r="0.38" fill="#4a4ae0" fill-opacity="0.65"/>
<circle cx="458.7" cy="268.1" r="0.38" fill="#4a4ae0" fill-opacity="0.66"/>
<circle cx="463.8" cy="262.1" r="0.55" fill="#4a4ae0" fill-opacity="0.65"/>
<circle cx="444.1" cy="242.2" r="0.35" fill="#4a4ae0" fill-opacity="0.50"/>
<circle cx="422.1" cy="303.4" r="0.36" fill="#4a4ae0" fill-opacity="0.78"/>
<circle cx="454.0" cy="296.8" r="0.42" fill="#4a4ae0" fill-opacity="0.41"/>
<circle cx="442.6" cy="289.5" r="0.91" fill="#4a4ae0" fill-opacity="0.68"/>
<circle cx="441.9" cy="289.3" r="0.79" fill="#4a4ae0" fill-opacity="0.68"/>
<circle cx="442.7" cy="289.2" r="0.59" fill="#4a4ae0" fill-opacity="0.68"/>
<circle cx="421.5" cy="285.1" r="1.10" fill="#4a4ae0" fill-opacity="0.33"/>
<circle cx="431.1" cy="253.3" r="1.07" fill="#4a4ae0" fill-opacity="0.43"/>
<circle cx="455.2" cy="257.6" r="0.94" fill="#4a4ae0" fill-opacity="0.55"/>
<circle cx="439.2" cy="251.1" r="0.52" fill="#4a4ae0" fill-opacity="0.69"/>
<circle cx="459.0" cy="293.0" r="0.40" fill="#4a4ae0" fill-opacity="0.57"/>
<circle cx="434.2" cy="281.4" r="0.36" fill="#4a4ae0" fill-opacity="0.62"/>
<circle cx="430.6" cy="301.4" r="1.00" fill="#4a4ae0" fill-opacity="0.44"/>
<circle cx="452.6" cy="256.7" r="0.40" fill="#4a4ae0" fill-opacity="0.56"/>
<circle cx="445.8" cy="294.3" r="0.42" fill="#4a4ae0" fill-opacity="0.74"/>
<circle cx="411.9" cy="245.9" r="0.99" fill="#4a4ae0" fill-opacity="0.51"/>
<circle cx="421.6" cy="297.7" r="0.53" fill="#4a4ae0" fill-opacity="0.74"/>
<circle cx="430.9" cy="279.4" r="0.50" fill="#4a4ae0" fill-opacity="0.33"/>
<circle cx="430.6" cy="279.6" r="0.32" fill="#4a4ae0" fill-opacity="0.33"/>
<circle cx="431.2" cy="279.7" r="0.26" fill="#4a4ae0" fill-opacity="0.33"/>
<circle cx="444.3" cy="310.3" r="0.63" fill="#4a4ae0" fill-opacity="0.53"/>
<circle cx="441.7" cy="252.7" r="0.51" fill="#4a4ae0" fill-opacity="0.36"/>
<circle cx="449.5" cy="299.7" r="0.63" fill="#4a4ae0" fill-opacity="0.38"/>
<circle cx="441.4" cy="283.5" r="0.66" fill="#4a4ae0" fill-opacity="0.55"/>
<circle cx="410.3" cy="254.1" r="0.36" fill="#4a4ae0" fill-opacity="0.76"/>
<circle cx="410.5" cy="254.4" r="0.31" fill="#4a4ae0" fill-opacity="0.76"/>
<circle cx="410.2" cy="254.2" r="0.30" fill="#4a4ae0" fill-opacity="0.76"/>
<circle cx="455.0" cy="303.9" r="0.97" fill="#4a4ae0" fill-opacity="0.54"/>
<circle cx="413.2" cy="282.9" r="0.73" fill="#4a4ae0" fill-opacity="0.34"/>
<circle cx="451.2" cy="273.9" r="1.01" fill="#4a4ae0" fill-opacity="0.35"/>
<circle cx="424.8" cy="312.3" r="0.49" fill="#4a4ae0" fill-opacity="0.81"/>
<circle cx="425.1" cy="312.4" r="0.35" fill="#4a4ae0" fill-opacity="0.81"/>
<circle cx="446.7" cy="279.7" r="0.45" fill="#4a4ae0" fill-opacity="0.33"/>
<circle cx="435.0" cy="240.7" r="0.72" fill="#4a4ae0" fill-opacity="0.49"/>
<circle cx="434.6" cy="240.8" r="0.49" fill="#4a4ae0" fill-opacity="0.49"/>
<circle cx="435.0" cy="240.2" r="0.38" fill="#4a4ae0" fill-opacity="0.49"/>
<circle cx="425.2" cy="275.8" r="0.56" fill="#4a4ae0" fill-opacity="0.38"/>
<circle cx="447.9" cy="299.3" r="0.46" fill="#4a4ae0" fill-opacity="0.42"/>
<circle cx="399.1" cy="262.8" r="0.48" fill="#4a4ae0" fill-opacity="0.39"/>
<circle cx="433.3" cy="304.5" r="0.81" fill="#4a4ae0" fill-opacity="0.61"/>
<circle cx="421.2" cy="296.9" r="0.50" fill="#4a4ae0" fill-opacity="0.52"/>
<circle cx="403.0" cy="267.1" r="0.73" fill="#4a4ae0" fill-opacity="0.65"/>
<circle cx="410.6" cy="298.3" r="1.06" fill="#4a4ae0" fill-opacity="0.39"/>
<circle cx="424.8" cy="282.7" r="0.35" fill="#4a4ae0" fill-opacity="0.72"/>
<circle cx="424.5" cy="282.6" r="0.18" fill="#4a4ae0" fill-opacity="0.72"/>
<circle cx="424.8" cy="282.8" r="0.21" fill="#4a4ae0" fill-opacity="0.72"/>
<circle cx="399.0" cy="262.4" r="0.41" fill="#4a4ae0" fill-opacity="0.56"/>
<circle cx="441.6" cy="265.2" r="0.68" fill="#4a4ae0" fill-opacity="0.37"/>
<circle cx="441.1" cy="265.6" r="0.54" fill="#4a4ae0" fill-opacity="0.37"/>
<circle cx="441.8" cy="265.4" r="0.52" fill="#4a4ae0" fill-opacity="0.37"/>
<circle cx="425.9" cy="300.6" r="0.38" fill="#4a4ae0" fill-opacity="0.77"/>
<circle cx="435.6" cy="260.0" r="0.61" fill="#4a4ae0" fill-opacity="0.44"/>
<circle cx="430.4" cy="239.7" r="0.73" fill="#4a4ae0" fill-opacity="0.68"/>
<circle cx="455.3" cy="292.5" r="0.35" fill="#4a4ae0" fill-opacity="0.50"/>
<circle cx="455.1" cy="292.7" r="0.31" fill="#4a4ae0" fill-opacity="0.50"/>
<circle cx="455.3" cy="292.6" r="0.18" fill="#4a4ae0" fill-opacity="0.50"/>
<circle cx="433.9" cy="279.4" r="0.35" fill="#4a4ae0" fill-opacity="0.30"/>
<circle cx="455.8" cy="291.5" r="0.41" fill="#4a4ae0" fill-opacity="0.37"/>
<circle cx="446.8" cy="309.9" r="0.46" fill="#4a4ae0" fill-opacity="0.63"/>
<circle cx="413.7" cy="258.3" r="0.40" fill="#4a4ae0" fill-opacity="0.38"/>
<circle cx="440.4" cy="299.8" r="0.84" fill="#4a4ae0" fill-opacity="0.62"/>
<circle cx="441.3" cy="251.9" r="0.36" fill="#4a4ae0" fill-opacity="0.63"/>
<circle cx="449.0" cy="256.0" r="0.71" fill="#4a4ae0" fill-opacity="0.75"/>
<circle cx="450.8" cy="247.2" r="0.37" fill="#4a4ae0" fill-opacity="0.81"/>
<circle cx="444.8" cy="259.6" r="0.40" fill="#4a4ae0" fill-opacity="0.37"/>
<circle cx="445.3" cy="259.0" r="0.35" fill="#4a4ae0" fill-opacity="0.47"/>
<circle cx="445.4" cy="259.2" r="0.19" fill="#4a4ae0" fill-opacity="0.47"/>
<circle cx="445.2" cy="258.8" r="0.30" fill="#4a4ae0" fill-opacity="0.47"/>
<circle cx="445.5" cy="253.8" r="1.03" fill="#4a4ae0" fill-opacity="0.59"/>
<circle cx="409.3" cy="278.3" r="1.09" fill="#4a4ae0" fill-opacity="0.76"/>
<circle cx="451.6" cy="254.5" r="0.83" fill="#4a4ae0" fill-opacity="0.34"/>
<circle cx="451.8" cy="254.8" r="0.47" fill="#4a4ae0" fill-opacity="0.34"/>
<circle cx="419.1" cy="276.2" r="0.70" fill="#4a4ae0" fill-opacity="0.73"/>
<circle cx="419.3" cy="275.8" r="0.45" fill="#4a4ae0" fill-opacity="0.73"/>
<circle cx="418.8" cy="276.5" r="0.61" fill="#4a4ae0" fill-opacity="0.73"/>
<circle cx="438.8" cy="290.7" r="0.65" fill="#4a4ae0" fill-opacity="0.77"/>
<circle cx="419.7" cy="279.8" r="0.63" fill="#4a4ae0" fill-opacity="0.55"/>
<circle cx="403.1" cy="262.8" r="1.06" fill="#4a4ae0" fill-opacity="0.64"/>
<circle cx="431.4" cy="278.0" r="0.93" fill="#4a4ae0" fill-opacity="0.32"/>
<circle cx="422.8" cy="279.1" r="0.41" fill="#4a4ae0" fill-opacity="0.70"/>
<circle cx="423.2" cy="268.3" r="0.87" fill="#4a4ae0" fill-opacity="0.51"/>
<circle cx="449.8" cy="300.7" r="0.51" fill="#4a4ae0" fill-opacity="0.52"/>
<circle cx="450.1" cy="300.4" r="0.35" fill="#4a4ae0" fill-opacity="0.52"/>
<circle cx="449.4" cy="301.2" r="0.46" fill="#4a4ae0" fill-opacity="0.52"/>
<circle cx="420.5" cy="253.5" r="0.35" fill="#4a4ae0" fill-opacity="0.37"/>
<circle cx="441.8" cy="241.2" r="0.91" fill="#4a4ae0" fill-opacity="0.54"/>
<circle cx="410.6" cy="270.9" r="0.57" fill="#4a4ae0" fill-opacity="0.79"/>
<circle cx="462.7" cy="272.9" r="0.35" fill="#4a4ae0" fill-opacity="0.71"/>
<circle cx="430.1" cy="275.1" r="0.93" fill="#4a4ae0" fill-opacity="0.57"/>
<circle cx="434.9" cy="282.7" r="0.35" fill="#4a4ae0" fill-opacity="0.42"/>
<circle cx="436.7" cy="284.0" r="0.75" fill="#4a4ae0" fill-opacity="0.69"/>
<circle cx="438.0" cy="307.5" r="0.62" fill="#4a4ae0" fill-opacity="0.35"/>
<circle cx="421.7" cy="289.0" r="0.38" fill="#4a4ae0" fill-opacity="0.81"/>
<circle cx="411.2" cy="294.8" r="0.45" fill="#4a4ae0" fill-opacity="0.66"/>
<circle cx="411.2" cy="294.9" r="0.33" fill="#4a4ae0" fill-opacity="0.66"/>
<circle cx="428.0" cy="305.9" r="1.06" fill="#4a4ae0" fill-opacity="0.57"/>
<circle cx="441.3" cy="260.7" r="0.40" fill="#4a4ae0" fill-opacity="0.83"/>
<circle cx="411.5" cy="286.7" r="1.09" fill="#4a4ae0" fill-opacity="0.60"/>
<circle cx="441.8" cy="293.2" r="0.67" fill="#4a4ae0" fill-opacity="0.48"/>
<circle cx="421.3" cy="276.1" r="0.36" fill="#4a4ae0" fill-opacity="0.54"/>
<circle cx="440.1" cy="293.6" r="0.35" fill="#4a4ae0" fill-opacity="0.45"/>
<circle cx="409.8" cy="295.0" r="0.90" fill="#4a4ae0" fill-opacity="0.69"/>
<circle cx="426.2" cy="302.1" r="0.75" fill="#4a4ae0" fill-opacity="0.79"/>
<circle cx="439.9" cy="277.4" r="0.55" fill="#4a4ae0" fill-opacity="0.78"/>
<circle cx="437.8" cy="247.6" r="0.91" fill="#4a4ae0" fill-opacity="0.80"/>
<circle cx="437.3" cy="247.1" r="0.60" fill="#4a4ae0" fill-opacity="0.80"/>
<circle cx="437.8" cy="247.0" r="0.56" fill="#4a4ae0" fill-opacity="0.80"/>
<circle cx="437.7" cy="288.7" r="0.36" fill="#4a4ae0" fill-opacity="0.31"/>
<circle cx="420.4" cy="297.8" r="0.71" fill="#4a4ae0" fill-opacity="0.64"/>
<circle cx="418.8" cy="302.6" r="0.38" fill="#4a4ae0" fill-opacity="0.40"/>
<circle cx="418.6" cy="302.5" r="0.24" fill="#4a4ae0" fill-opacity="0.40"/>
<circle cx="418.8" cy="302.7" r="0.28" fill="#4a4ae0" fill-opacity="0.40"/>
<circle cx="418.2" cy="267.4" r="0.97" fill="#4a4ae0" fill-opacity="0.71"/>
<circle cx="409.2" cy="293.6" r="0.36" fill="#4a4ae0" fill-opacity="0.65"/>
<circle cx="414.4" cy="296.3" r="0.40" fill="#4a4ae0" fill-opacity="0.80"/>
<circle cx="411.6" cy="300.6" r="0.45" fill="#4a4ae0" fill-opacity="0.80"/>
<circle cx="414.3" cy="265.8" r="0.61" fill="#4a4ae0" fill-opacity="0.56"/>
<circle cx="414.0" cy="265.8" r="0.47" fill="#4a4ae0" fill-opacity="0.56"/>
<circle cx="414.3" cy="265.6" r="0.42" fill="#4a4ae0" fill-opacity="0.56"/>
<circle cx="435.6" cy="276.6" r="0.94" fill="#4a4ae0" fill-opacity="0.63"/>
<circle cx="412.4" cy="254.1" r="0.87" fill="#4a4ae0" fill-opacity="0.84"/>
<circle cx="418.4" cy="294.5" r="0.97" fill="#4a4ae0" fill-opacity="0.56"/>
<circle cx="417.8" cy="294.3" r="0.74" fill="#4a4ae0" fill-opacity="0.56"/>
<circle cx="418.5" cy="294.6" r="0.81" fill="#4a4ae0" fill-opacity="0.56"/>
</g></g>
<circle cx="432.1" cy="276.3" r="35.3" fill="none" stroke="#f6f6f8" stroke-width="1.2"/>
<circle cx="432.1" cy="276.3" r="34.3" fill="none" stroke="#707078" stroke-width="0.9"/>
<circle cx="431.6" cy="276.6" r="36.5" fill="none" stroke="#222" stroke-width="1.2"/>
<text x="287.2" y="417" font-size="11.9" text-anchor="middle" font-weight="normal" fill="#404040" stroke="#404040" stroke-width="0.08" >NC</text>
<text x="407.7" y="417" font-size="11.7" text-anchor="middle" font-weight="normal" fill="#404040" stroke="#404040" stroke-width="0.08" >HA-MIB2</text>
<text x="344.3" y="530" font-size="12.6" text-anchor="middle" font-weight="normal" fill="#404040" stroke="#404040" stroke-width="0.08" >PC9</text>
<clipPath id="c7"><circle cx="287" cy="461.5" r="39.8"/></clipPath>
<circle cx="287" cy="461.5" r="39.8" fill="#ebebf0"/>
<g clip-path="url(#c7)">
<g>
<circle cx="313.17" cy="474.31" r="2.17" fill="#8088d8" fill-opacity="0.14"/>
<circle cx="312.49" cy="467.62" r="2.27" fill="#8088d8" fill-opacity="0.13"/>
<circle cx="293.5" cy="449.1" r="3.88" fill="#8088d8" fill-opacity="0.19"/>
<circle cx="322.31" cy="472.14" r="2.43" fill="#8088d8" fill-opacity="0.09"/>
<circle cx="274.08" cy="495.06" r="3.74" fill="#8088d8" fill-opacity="0.16"/>
<circle cx="266.51" cy="482.67" r="2.18" fill="#8088d8" fill-opacity="0.1"/>
<circle cx="275.98" cy="437.92" r="3.76" fill="#8088d8" fill-opacity="0.13"/>
<circle cx="276.09" cy="495.25" r="2.73" fill="#8088d8" fill-opacity="0.15"/>
<circle cx="250.23" cy="455.63" r="2.86" fill="#8088d8" fill-opacity="0.2"/>
<circle cx="303.08" cy="484.22" r="4" fill="#8088d8" fill-opacity="0.17"/>
<circle cx="253.61" cy="445.01" r="4.09" fill="#8088d8" fill-opacity="0.15"/>
<circle cx="323.05" cy="459.94" r="3.16" fill="#8088d8" fill-opacity="0.16"/>
<circle cx="313.77" cy="465.32" r="2.35" fill="#8088d8" fill-opacity="0.09"/>
<circle cx="288.64" cy="447.28" r="3.17" fill="#8088d8" fill-opacity="0.18"/>
<circle cx="282.44" cy="486.74" r="4.65" fill="#8088d8" fill-opacity="0.19"/>
<circle cx="296.74" cy="475.07" r="2.7" fill="#8088d8" fill-opacity="0.14"/>
<circle cx="269.71" cy="450.66" r="3.26" fill="#8088d8" fill-opacity="0.12"/>
<circle cx="251.47" cy="445.77" r="3.55" fill="#8088d8" fill-opacity="0.15"/>
<circle cx="267.39" cy="477.23" r="3.9" fill="#8088d8" fill-opacity="0.09"/>
<circle cx="303.58" cy="468.97" r="3.02" fill="#8088d8" fill-opacity="0.09"/>
<circle cx="302.48" cy="461.52" r="3.09" fill="#8088d8" fill-opacity="0.08"/>
<circle cx="308.96" cy="439.35" r="2.76" fill="#8088d8" fill-opacity="0.12"/>
<circle cx="297.91" cy="468.04" r="2.79" fill="#8088d8" fill-opacity="0.18"/>
<circle cx="308.7" cy="436.36" r="3.1" fill="#8088d8" fill-opacity="0.1"/>
<circle cx="301.25" cy="430.37" r="3.55" fill="#8088d8" fill-opacity="0.12"/>
<circle cx="293.54" cy="462.7" r="2.78" fill="#8088d8" fill-opacity="0.16"/>
<circle cx="325.78" cy="458.58" r="2.66" fill="#8088d8" fill-opacity="0.11"/>
<circle cx="266.62" cy="432.32" r="3.98" fill="#8088d8" fill-opacity="0.19"/>
<circle cx="302.35" cy="493.35" r="4.4" fill="#8088d8" fill-opacity="0.2"/>
<circle cx="284.41" cy="445.3" r="2.45" fill="#8088d8" fill-opacity="0.19"/>
<circle cx="319.02" cy="457.52" r="3.65" fill="#8088d8" fill-opacity="0.1"/>
<circle cx="249.08" cy="455.11" r="4.62" fill="#8088d8" fill-opacity="0.18"/>
<circle cx="291.84" cy="480.88" r="2.72" fill="#8088d8" fill-opacity="0.15"/>
<circle cx="285.48" cy="487.22" r="4.73" fill="#8088d8" fill-opacity="0.12"/>
<circle cx="253.52" cy="479.74" r="3.6" fill="#8088d8" fill-opacity="0.14"/>
<circle cx="313.22" cy="464.6" r="2.01" fill="#8088d8" fill-opacity="0.18"/>
<circle cx="299.84" cy="485.69" r="3.67" fill="#8088d8" fill-opacity="0.12"/>
<circle cx="310.41" cy="479.92" r="2.83" fill="#8088d8" fill-opacity="0.17"/>
<circle cx="258.53" cy="460.51" r="3.36" fill="#8088d8" fill-opacity="0.14"/>
<circle cx="248.75" cy="466.81" r="4.63" fill="#8088d8" fill-opacity="0.19"/>
<circle cx="285.21" cy="491.22" r="4.52" fill="#8088d8" fill-opacity="0.1"/>
<circle cx="306.11" cy="479.81" r="2.72" fill="#8088d8" fill-opacity="0.09"/>
<circle cx="306.03" cy="489.29" r="2.43" fill="#8088d8" fill-opacity="0.19"/>
<circle cx="263.93" cy="459.23" r="2.96" fill="#8088d8" fill-opacity="0.17"/>
<circle cx="296.37" cy="423.4" r="2.8" fill="#8088d8" fill-opacity="0.08"/>
<circle cx="290.75" cy="441.14" r="3.27" fill="#8088d8" fill-opacity="0.19"/>
<circle cx="295.5" cy="443.13" r="4.76" fill="#8088d8" fill-opacity="0.15"/>
<circle cx="283.35" cy="450.17" r="4.06" fill="#8088d8" fill-opacity="0.13"/>
<circle cx="271.27" cy="486.58" r="2.8" fill="#8088d8" fill-opacity="0.1"/>
<circle cx="267.84" cy="458.23" r="2.48" fill="#8088d8" fill-opacity="0.09"/>
<circle cx="293.6" cy="482.7" r="1.67" fill="#4a52c8" fill-opacity="0.63"/>
<circle cx="293.2" cy="481.4" r="1.00" fill="#4a52c8" fill-opacity="0.63"/>
<circle cx="297.2" cy="487.0" r="0.82" fill="#4a52c8" fill-opacity="0.87"/>
<circle cx="297.6" cy="486.8" r="0.57" fill="#4a52c8" fill-opacity="0.87"/>
<circle cx="272.0" cy="425.0" r="1.84" fill="#4a52c8" fill-opacity="0.82"/>
<circle cx="267.6" cy="474.7" r="0.83" fill="#4a52c8" fill-opacity="0.53"/>
<circle cx="286.4" cy="477.6" r="1.86" fill="#4a52c8" fill-opacity="0.89"/>
<circle cx="283.1" cy="480.7" r="1.12" fill="#4a52c8" fill-opacity="0.57"/>
<circle cx="283.9" cy="481.5" r="0.80" fill="#4a52c8" fill-opacity="0.57"/>
<circle cx="288.4" cy="500.6" r="0.99" fill="#4a52c8" fill-opacity="0.50"/>
<circle cx="288.4" cy="500.1" r="0.70" fill="#4a52c8" fill-opacity="0.50"/>
<circle cx="307.4" cy="462.1" r="1.04" fill="#4a52c8" fill-opacity="0.52"/>
<circle cx="307.0" cy="462.3" r="0.74" fill="#4a52c8" fill-opacity="0.52"/>
<circle cx="305.0" cy="444.4" r="2.25" fill="#4a52c8" fill-opacity="0.57"/>
<circle cx="273.4" cy="431.3" r="0.80" fill="#4a52c8" fill-opacity="0.56"/>
<circle cx="273.9" cy="431.3" r="0.60" fill="#4a52c8" fill-opacity="0.56"/>
<circle cx="257.9" cy="461.0" r="0.81" fill="#4a52c8" fill-opacity="0.83"/>
<circle cx="257.6" cy="461.3" r="0.47" fill="#4a52c8" fill-opacity="0.83"/>
<circle cx="300.5" cy="468.6" r="1.63" fill="#4a52c8" fill-opacity="0.64"/>
<circle cx="299.4" cy="468.0" r="1.25" fill="#4a52c8" fill-opacity="0.64"/>
<circle cx="275.4" cy="430.9" r="1.20" fill="#4a52c8" fill-opacity="0.71"/>
<circle cx="276.1" cy="430.3" r="1.07" fill="#4a52c8" fill-opacity="0.71"/>
<circle cx="294.4" cy="490.9" r="1.21" fill="#4a52c8" fill-opacity="0.93"/>
<circle cx="294.4" cy="491.7" r="0.95" fill="#4a52c8" fill-opacity="0.93"/>
<circle cx="293.9" cy="491.7" r="0.84" fill="#4a52c8" fill-opacity="0.93"/>
<circle cx="266.2" cy="468.2" r="0.98" fill="#4a52c8" fill-opacity="0.64"/>
<circle cx="314.9" cy="487.7" r="2.02" fill="#4a52c8" fill-opacity="0.63"/>
<circle cx="316.5" cy="488.0" r="1.30" fill="#4a52c8" fill-opacity="0.63"/>
<circle cx="268.2" cy="470.6" r="0.82" fill="#4a52c8" fill-opacity="0.88"/>
<circle cx="267.9" cy="470.3" r="0.57" fill="#4a52c8" fill-opacity="0.88"/>
<circle cx="267.8" cy="470.5" r="0.72" fill="#4a52c8" fill-opacity="0.88"/>
<circle cx="254.1" cy="472.0" r="0.92" fill="#4a52c8" fill-opacity="0.52"/>
<circle cx="306.1" cy="481.1" r="0.93" fill="#4a52c8" fill-opacity="0.83"/>
<circle cx="284.9" cy="493.7" r="1.27" fill="#4a52c8" fill-opacity="0.68"/>
<circle cx="284.4" cy="494.5" r="0.88" fill="#4a52c8" fill-opacity="0.68"/>
<circle cx="294.1" cy="498.7" r="1.10" fill="#4a52c8" fill-opacity="0.56"/>
<circle cx="293.8" cy="498.0" r="0.66" fill="#4a52c8" fill-opacity="0.56"/>
<circle cx="285.4" cy="491.5" r="1.64" fill="#4a52c8" fill-opacity="0.69"/>
<circle cx="285.1" cy="491.1" r="0.86" fill="#4a52c8" fill-opacity="0.69"/>
<circle cx="284.8" cy="492.7" r="0.90" fill="#4a52c8" fill-opacity="0.69"/>
<circle cx="291.4" cy="481.7" r="1.04" fill="#4a52c8" fill-opacity="0.70"/>
<circle cx="308.6" cy="431.2" r="0.80" fill="#4a52c8" fill-opacity="0.82"/>
<circle cx="256.9" cy="466.6" r="1.03" fill="#4a52c8" fill-opacity="0.92"/>
<circle cx="311.1" cy="430.6" r="0.82" fill="#4a52c8" fill-opacity="0.57"/>
<circle cx="311.7" cy="430.9" r="0.62" fill="#4a52c8" fill-opacity="0.57"/>
<circle cx="311.5" cy="430.5" r="0.59" fill="#4a52c8" fill-opacity="0.57"/>
<circle cx="321.1" cy="470.2" r="2.07" fill="#4a52c8" fill-opacity="0.79"/>
<circle cx="320.3" cy="470.6" r="1.61" fill="#4a52c8" fill-opacity="0.79"/>
<circle cx="265.5" cy="449.2" r="1.34" fill="#4a52c8" fill-opacity="0.50"/>
<circle cx="266.5" cy="449.5" r="1.15" fill="#4a52c8" fill-opacity="0.50"/>
<circle cx="267.9" cy="464.5" r="2.18" fill="#4a52c8" fill-opacity="0.82"/>
<circle cx="267.9" cy="465.1" r="1.46" fill="#4a52c8" fill-opacity="0.82"/>
<circle cx="285.5" cy="494.0" r="0.88" fill="#4a52c8" fill-opacity="0.52"/>
<circle cx="285.8" cy="493.6" r="0.72" fill="#4a52c8" fill-opacity="0.52"/>
<circle cx="285.1" cy="433.3" r="2.21" fill="#4a52c8" fill-opacity="0.64"/>
<circle cx="276.2" cy="498.8" r="0.85" fill="#4a52c8" fill-opacity="0.60"/>
<circle cx="276.8" cy="498.3" r="0.56" fill="#4a52c8" fill-opacity="0.60"/>
<circle cx="275.8" cy="499.4" r="0.47" fill="#4a52c8" fill-opacity="0.60"/>
<circle cx="296.2" cy="464.6" r="2.01" fill="#4a52c8" fill-opacity="0.90"/>
<circle cx="325.4" cy="460.9" r="0.85" fill="#4a52c8" fill-opacity="0.92"/>
<circle cx="318.8" cy="468.0" r="1.01" fill="#4a52c8" fill-opacity="0.65"/>
<circle cx="318.4" cy="467.7" r="0.89" fill="#4a52c8" fill-opacity="0.65"/>
<circle cx="314.9" cy="488.9" r="0.99" fill="#4a52c8" fill-opacity="0.87"/>
<circle cx="260.4" cy="488.9" r="1.00" fill="#4a52c8" fill-opacity="0.90"/>
<circle cx="260.9" cy="489.3" r="0.52" fill="#4a52c8" fill-opacity="0.90"/>
<circle cx="285.5" cy="495.9" r="0.97" fill="#4a52c8" fill-opacity="0.62"/>
<circle cx="278.5" cy="480.6" r="1.66" fill="#4a52c8" fill-opacity="0.91"/>
<circle cx="292.8" cy="459.3" r="1.14" fill="#4a52c8" fill-opacity="0.93"/>
<circle cx="248.7" cy="463.1" r="1.77" fill="#4a52c8" fill-opacity="0.83"/>
<circle cx="291.4" cy="430.8" r="0.95" fill="#4a52c8" fill-opacity="0.66"/>
<circle cx="287.2" cy="471.6" r="1.26" fill="#4a52c8" fill-opacity="0.65"/>
<circle cx="316.4" cy="435.1" r="0.81" fill="#4a52c8" fill-opacity="0.54"/>
<circle cx="316.4" cy="434.7" r="0.54" fill="#4a52c8" fill-opacity="0.54"/>
<circle cx="316.6" cy="435.3" r="0.65" fill="#4a52c8" fill-opacity="0.54"/>
<circle cx="305.6" cy="434.9" r="1.86" fill="#4a52c8" fill-opacity="0.63"/>
<circle cx="306.3" cy="434.0" r="1.11" fill="#4a52c8" fill-opacity="0.63"/>
<circle cx="267.0" cy="450.8" r="2.28" fill="#4a52c8" fill-opacity="0.73"/>
<circle cx="267.5" cy="452.6" r="1.23" fill="#4a52c8" fill-opacity="0.73"/>
<circle cx="266.9" cy="451.9" r="1.90" fill="#4a52c8" fill-opacity="0.73"/>
<circle cx="293.9" cy="457.4" r="0.82" fill="#4a52c8" fill-opacity="0.59"/>
<circle cx="253.7" cy="442.3" r="1.93" fill="#4a52c8" fill-opacity="0.70"/>
<circle cx="255.1" cy="441.1" r="1.42" fill="#4a52c8" fill-opacity="0.70"/>
<circle cx="254.1" cy="441.5" r="1.25" fill="#4a52c8" fill-opacity="0.70"/>
<circle cx="298.3" cy="475.4" r="1.34" fill="#4a52c8" fill-opacity="0.79"/>
<circle cx="298.0" cy="475.8" r="0.77" fill="#4a52c8" fill-opacity="0.79"/>
<circle cx="277.4" cy="458.5" r="1.03" fill="#4a52c8" fill-opacity="0.75"/>
<circle cx="269.1" cy="472.9" r="2.16" fill="#4a52c8" fill-opacity="0.64"/>
<circle cx="268.8" cy="474.1" r="1.94" fill="#4a52c8" fill-opacity="0.64"/>
<circle cx="255.0" cy="478.1" r="1.97" fill="#4a52c8" fill-opacity="0.71"/>
<circle cx="255.2" cy="478.6" r="1.70" fill="#4a52c8" fill-opacity="0.71"/>
<circle cx="313.6" cy="478.2" r="1.18" fill="#4a52c8" fill-opacity="0.57"/>
<circle cx="314.4" cy="477.4" r="0.82" fill="#4a52c8" fill-opacity="0.57"/>
<circle cx="314.2" cy="479.0" r="0.68" fill="#4a52c8" fill-opacity="0.57"/>
<circle cx="314.0" cy="489.1" r="1.15" fill="#4a52c8" fill-opacity="0.52"/>
<circle cx="258.2" cy="486.0" r="1.82" fill="#4a52c8" fill-opacity="0.57"/>
<circle cx="291.4" cy="486.4" r="1.83" fill="#4a52c8" fill-opacity="0.58"/>
<circle cx="291.5" cy="486.1" r="1.01" fill="#4a52c8" fill-opacity="0.58"/>
<circle cx="287.6" cy="495.4" r="0.80" fill="#4a52c8" fill-opacity="0.75"/>
<circle cx="322.4" cy="470.1" r="1.34" fill="#4a52c8" fill-opacity="0.75"/>
<circle cx="278.1" cy="485.7" r="1.07" fill="#4a52c8" fill-opacity="0.80"/>
<circle cx="277.3" cy="485.9" r="0.75" fill="#4a52c8" fill-opacity="0.80"/>
<circle cx="290.2" cy="496.1" r="1.12" fill="#4a52c8" fill-opacity="0.58"/>
<circle cx="289.6" cy="496.0" r="0.60" fill="#4a52c8" fill-opacity="0.58"/>
<circle cx="260.4" cy="471.6" r="1.41" fill="#4a52c8" fill-opacity="0.54"/>
<circle cx="291.9" cy="433.5" r="1.18" fill="#4a52c8" fill-opacity="0.67"/>
<circle cx="311.2" cy="489.3" r="1.60" fill="#4a52c8" fill-opacity="0.87"/>
<circle cx="311.1" cy="490.5" r="1.39" fill="#4a52c8" fill-opacity="0.87"/>
<circle cx="310.3" cy="490.1" r="1.40" fill="#4a52c8" fill-opacity="0.87"/>
<circle cx="307.4" cy="493.2" r="1.80" fill="#4a52c8" fill-opacity="0.56"/>
<circle cx="306.6" cy="492.5" r="1.26" fill="#4a52c8" fill-opacity="0.56"/>
<circle cx="306.9" cy="491.8" r="1.03" fill="#4a52c8" fill-opacity="0.56"/>
<circle cx="307.4" cy="494.2" r="2.00" fill="#4a52c8" fill-opacity="0.58"/>
<circle cx="263.3" cy="490.2" r="1.30" fill="#4a52c8" fill-opacity="0.90"/>
<circle cx="263.6" cy="490.0" r="1.07" fill="#4a52c8" fill-opacity="0.90"/>
<circle cx="262.8" cy="491.2" r="0.95" fill="#4a52c8" fill-opacity="0.90"/>
<circle cx="264.8" cy="488.3" r="0.85" fill="#4a52c8" fill-opacity="0.83"/>
<circle cx="264.4" cy="488.5" r="0.76" fill="#4a52c8" fill-opacity="0.83"/>
<circle cx="264.9" cy="488.5" r="0.53" fill="#4a52c8" fill-opacity="0.83"/>
<circle cx="294.3" cy="461.6" r="1.37" fill="#4a52c8" fill-opacity="0.69"/>
<circle cx="293.5" cy="461.0" r="1.04" fill="#4a52c8" fill-opacity="0.69"/>
<circle cx="293.3" cy="460.5" r="0.88" fill="#4a52c8" fill-opacity="0.69"/>
<circle cx="305.7" cy="476.2" r="1.31" fill="#4a52c8" fill-opacity="0.77"/>
<circle cx="305.6" cy="475.5" r="1.15" fill="#4a52c8" fill-opacity="0.77"/>
<circle cx="305.1" cy="475.5" r="0.71" fill="#4a52c8" fill-opacity="0.77"/>
<circle cx="270.3" cy="473.3" r="1.42" fill="#4a52c8" fill-opacity="0.75"/>
<circle cx="270.2" cy="474.3" r="1.13" fill="#4a52c8" fill-opacity="0.75"/>
<circle cx="269.7" cy="474.2" r="0.74" fill="#4a52c8" fill-opacity="0.75"/>
<circle cx="262.1" cy="456.5" r="0.81" fill="#4a52c8" fill-opacity="0.85"/>
<circle cx="262.7" cy="456.0" r="0.47" fill="#4a52c8" fill-opacity="0.85"/>
<circle cx="262.3" cy="456.5" r="0.61" fill="#4a52c8" fill-opacity="0.85"/>
<circle cx="293.4" cy="446.2" r="0.94" fill="#4a52c8" fill-opacity="0.52"/>
<circle cx="293.9" cy="428.6" r="1.87" fill="#4a52c8" fill-opacity="0.84"/>
<circle cx="293.8" cy="427.7" r="1.01" fill="#4a52c8" fill-opacity="0.84"/>
<circle cx="293.1" cy="427.2" r="1.19" fill="#4a52c8" fill-opacity="0.84"/>
<circle cx="254.5" cy="475.3" r="0.91" fill="#4a52c8" fill-opacity="0.79"/>
<circle cx="294.7" cy="498.0" r="0.90" fill="#4a52c8" fill-opacity="0.61"/>
<circle cx="319.3" cy="449.8" r="1.96" fill="#4a52c8" fill-opacity="0.65"/>
<circle cx="319.7" cy="450.4" r="1.50" fill="#4a52c8" fill-opacity="0.65"/>
<circle cx="320.8" cy="449.7" r="1.64" fill="#4a52c8" fill-opacity="0.65"/>
<circle cx="282.2" cy="431.8" r="0.87" fill="#4a52c8" fill-opacity="0.78"/>
<circle cx="281.7" cy="431.2" r="0.47" fill="#4a52c8" fill-opacity="0.78"/>
<circle cx="282.8" cy="431.6" r="0.48" fill="#4a52c8" fill-opacity="0.78"/>
<circle cx="315.0" cy="473.8" r="1.80" fill="#4a52c8" fill-opacity="0.87"/>
<circle cx="299.2" cy="457.0" r="0.82" fill="#4a52c8" fill-opacity="0.52"/>
<circle cx="272.5" cy="445.8" r="0.81" fill="#4a52c8" fill-opacity="0.84"/>
<circle cx="272.4" cy="445.2" r="0.49" fill="#4a52c8" fill-opacity="0.84"/>
<circle cx="280.2" cy="494.5" r="0.95" fill="#4a52c8" fill-opacity="0.93"/>
<circle cx="280.3" cy="493.8" r="0.63" fill="#4a52c8" fill-opacity="0.93"/>
<circle cx="280.1" cy="494.9" r="0.61" fill="#4a52c8" fill-opacity="0.93"/>
<circle cx="278.8" cy="433.5" r="1.92" fill="#4a52c8" fill-opacity="0.54"/>
<circle cx="287.7" cy="462.8" r="1.67" fill="#4a52c8" fill-opacity="0.94"/>
<circle cx="287.7" cy="463.6" r="0.96" fill="#4a52c8" fill-opacity="0.94"/>
<circle cx="284.4" cy="500.1" r="0.87" fill="#4a52c8" fill-opacity="0.81"/>
<circle cx="284.6" cy="499.5" r="0.71" fill="#4a52c8" fill-opacity="0.81"/>
<circle cx="271.5" cy="481.4" r="1.99" fill="#4a52c8" fill-opacity="0.54"/>
<circle cx="304.8" cy="464.3" r="2.02" fill="#4a52c8" fill-opacity="0.73"/>
<circle cx="304.0" cy="464.2" r="1.44" fill="#4a52c8" fill-opacity="0.73"/>
<circle cx="305.7" cy="465.2" r="1.53" fill="#4a52c8" fill-opacity="0.73"/>
<circle cx="273.8" cy="480.0" r="1.87" fill="#4a52c8" fill-opacity="0.80"/>
<circle cx="299.8" cy="484.6" r="1.30" fill="#4a52c8" fill-opacity="0.56"/>
<circle cx="299.2" cy="483.9" r="0.81" fill="#4a52c8" fill-opacity="0.56"/>
<circle cx="300.2" cy="485.3" r="0.73" fill="#4a52c8" fill-opacity="0.56"/>
<circle cx="298.0" cy="477.9" r="1.21" fill="#4a52c8" fill-opacity="0.57"/>
<circle cx="298.9" cy="478.4" r="0.65" fill="#4a52c8" fill-opacity="0.57"/>
<circle cx="299.3" cy="458.5" r="2.25" fill="#4a52c8" fill-opacity="0.86"/>
<circle cx="301.2" cy="472.8" r="0.80" fill="#4a52c8" fill-opacity="0.68"/>
<circle cx="259.7" cy="474.3" r="1.07" fill="#4a52c8" fill-opacity="0.60"/>
<circle cx="279.8" cy="430.8" r="1.07" fill="#4a52c8" fill-opacity="0.70"/>
<circle cx="300.1" cy="490.9" r="1.03" fill="#4a52c8" fill-opacity="0.72"/>
<circle cx="315.5" cy="468.5" r="1.72" fill="#4a52c8" fill-opacity="0.92"/>
<circle cx="315.7" cy="468.6" r="1.35" fill="#4a52c8" fill-opacity="0.92"/>
<circle cx="295.2" cy="493.4" r="1.67" fill="#4a52c8" fill-opacity="0.56"/>
<circle cx="281.2" cy="469.0" r="1.04" fill="#4a52c8" fill-opacity="0.51"/>
<circle cx="281.5" cy="468.7" r="0.63" fill="#4a52c8" fill-opacity="0.51"/>
<circle cx="292.5" cy="495.3" r="1.22" fill="#4a52c8" fill-opacity="0.60"/>
<circle cx="272.7" cy="473.0" r="1.70" fill="#4a52c8" fill-opacity="0.86"/>
<circle cx="257.7" cy="467.2" r="2.19" fill="#4a52c8" fill-opacity="0.66"/>
<circle cx="278.9" cy="489.8" r="1.84" fill="#4a52c8" fill-opacity="0.66"/>
<circle cx="284.3" cy="485.8" r="1.07" fill="#4a52c8" fill-opacity="0.58"/>
<circle cx="284.0" cy="485.3" r="0.67" fill="#4a52c8" fill-opacity="0.58"/>
<circle cx="284.3" cy="485.6" r="0.81" fill="#4a52c8" fill-opacity="0.58"/>
<circle cx="316.2" cy="441.8" r="1.84" fill="#4a52c8" fill-opacity="0.78"/>
<circle cx="317.6" cy="442.3" r="1.10" fill="#4a52c8" fill-opacity="0.78"/>
<circle cx="299.1" cy="470.5" r="1.70" fill="#4a52c8" fill-opacity="0.66"/>
<circle cx="299.9" cy="469.5" r="1.46" fill="#4a52c8" fill-opacity="0.66"/>
<circle cx="299.4" cy="471.2" r="1.31" fill="#4a52c8" fill-opacity="0.66"/>
<circle cx="297.8" cy="492.8" r="1.63" fill="#4a52c8" fill-opacity="0.70"/>
<circle cx="267.7" cy="454.6" r="0.83" fill="#4a52c8" fill-opacity="0.72"/>
<circle cx="267.3" cy="454.5" r="0.58" fill="#4a52c8" fill-opacity="0.72"/>
<circle cx="251.2" cy="452.4" r="1.86" fill="#4a52c8" fill-opacity="0.71"/>
<circle cx="252.2" cy="452.0" r="1.24" fill="#4a52c8" fill-opacity="0.71"/>
<circle cx="252.5" cy="451.1" r="1.40" fill="#4a52c8" fill-opacity="0.71"/>
<circle cx="271.2" cy="426.5" r="2.25" fill="#4a52c8" fill-opacity="0.73"/>
<circle cx="269.5" cy="427.3" r="1.68" fill="#4a52c8" fill-opacity="0.73"/>
<circle cx="270.6" cy="427.8" r="1.45" fill="#4a52c8" fill-opacity="0.73"/>
<circle cx="293.4" cy="487.0" r="1.26" fill="#4a52c8" fill-opacity="0.87"/>
<circle cx="293.2" cy="487.0" r="0.77" fill="#4a52c8" fill-opacity="0.87"/>
<circle cx="293.4" cy="487.9" r="0.96" fill="#4a52c8" fill-opacity="0.87"/>
<circle cx="293.0" cy="439.4" r="0.93" fill="#4a52c8" fill-opacity="0.76"/>
<circle cx="309.1" cy="442.1" r="0.94" fill="#4a52c8" fill-opacity="0.50"/>
<circle cx="309.3" cy="442.4" r="0.76" fill="#4a52c8" fill-opacity="0.50"/>
<circle cx="309.7" cy="442.3" r="0.70" fill="#4a52c8" fill-opacity="0.50"/>
<circle cx="253.5" cy="470.6" r="0.85" fill="#4a52c8" fill-opacity="0.52"/>
<circle cx="314.6" cy="444.9" r="1.82" fill="#4a52c8" fill-opacity="0.85"/>
<circle cx="314.1" cy="444.7" r="1.14" fill="#4a52c8" fill-opacity="0.85"/>
<circle cx="315.2" cy="471.6" r="0.82" fill="#4a52c8" fill-opacity="0.86"/>
<circle cx="315.2" cy="471.0" r="0.54" fill="#4a52c8" fill-opacity="0.86"/>
<circle cx="315.4" cy="472.2" r="0.73" fill="#4a52c8" fill-opacity="0.86"/>
<circle cx="261.7" cy="465.4" r="1.42" fill="#4a52c8" fill-opacity="0.60"/>
<circle cx="260.6" cy="465.8" r="0.78" fill="#4a52c8" fill-opacity="0.60"/>
<circle cx="288.7" cy="495.5" r="0.80" fill="#4a52c8" fill-opacity="0.85"/>
<circle cx="307.9" cy="434.7" r="1.39" fill="#4a52c8" fill-opacity="0.82"/>
<circle cx="307.4" cy="435.7" r="1.10" fill="#4a52c8" fill-opacity="0.82"/>
<circle cx="306.8" cy="433.6" r="1.06" fill="#4a52c8" fill-opacity="0.82"/>
<circle cx="291.6" cy="451.3" r="1.60" fill="#4a52c8" fill-opacity="0.57"/>
<circle cx="277.3" cy="462.3" r="1.30" fill="#4a52c8" fill-opacity="0.70"/>
<circle cx="308.8" cy="489.6" r="1.42" fill="#4a52c8" fill-opacity="0.78"/>
<circle cx="309.5" cy="490.6" r="1.16" fill="#4a52c8" fill-opacity="0.78"/>
<circle cx="267.3" cy="452.7" r="2.22" fill="#4a52c8" fill-opacity="0.82"/>
<circle cx="271.7" cy="488.5" r="1.84" fill="#4a52c8" fill-opacity="0.77"/>
<circle cx="272.9" cy="488.1" r="1.42" fill="#4a52c8" fill-opacity="0.77"/>
<circle cx="286.7" cy="463.1" r="1.07" fill="#4a52c8" fill-opacity="0.76"/>
<circle cx="281.5" cy="497.8" r="1.50" fill="#4a52c8" fill-opacity="0.91"/>
<circle cx="281.6" cy="498.5" r="0.87" fill="#4a52c8" fill-opacity="0.91"/>
<circle cx="287.0" cy="423.1" r="1.35" fill="#4a52c8" fill-opacity="0.80"/>
<circle cx="286.5" cy="423.6" r="1.10" fill="#4a52c8" fill-opacity="0.80"/>
<circle cx="256.8" cy="466.0" r="0.86" fill="#4a52c8" fill-opacity="0.58"/>
<circle cx="267.5" cy="484.2" r="1.20" fill="#4a52c8" fill-opacity="0.57"/>
<circle cx="267.3" cy="483.4" r="0.90" fill="#4a52c8" fill-opacity="0.57"/>
<circle cx="268.1" cy="483.5" r="0.89" fill="#4a52c8" fill-opacity="0.57"/>
<circle cx="270.9" cy="485.2" r="0.80" fill="#4a52c8" fill-opacity="0.95"/>
<circle cx="257.1" cy="464.1" r="1.71" fill="#4a52c8" fill-opacity="0.69"/>
<circle cx="286.8" cy="469.2" r="0.85" fill="#4a52c8" fill-opacity="0.54"/>
<circle cx="287.3" cy="469.2" r="0.75" fill="#4a52c8" fill-opacity="0.54"/>
<circle cx="287.4" cy="468.7" r="0.63" fill="#4a52c8" fill-opacity="0.54"/>
<circle cx="285.6" cy="491.4" r="2.17" fill="#4a52c8" fill-opacity="0.80"/>
<circle cx="284.5" cy="493.0" r="1.95" fill="#4a52c8" fill-opacity="0.80"/>
<circle cx="288.4" cy="469.2" r="0.99" fill="#4a52c8" fill-opacity="0.91"/>
<circle cx="317.4" cy="449.3" r="1.32" fill="#4a52c8" fill-opacity="0.84"/>
<circle cx="316.9" cy="448.5" r="0.92" fill="#4a52c8" fill-opacity="0.84"/>
<circle cx="296.5" cy="478.4" r="1.49" fill="#4a52c8" fill-opacity="0.51"/>
<circle cx="294.1" cy="499.3" r="1.98" fill="#4a52c8" fill-opacity="0.56"/>
<circle cx="295.4" cy="500.4" r="1.49" fill="#4a52c8" fill-opacity="0.56"/>
<circle cx="255.8" cy="465.9" r="0.87" fill="#4a52c8" fill-opacity="0.53"/>
<circle cx="284.4" cy="486.9" r="0.91" fill="#4a52c8" fill-opacity="0.88"/>
<circle cx="284.4" cy="486.6" r="0.78" fill="#4a52c8" fill-opacity="0.88"/>
<circle cx="316.7" cy="487.4" r="2.00" fill="#4a52c8" fill-opacity="0.80"/>
<circle cx="316.0" cy="486.6" r="1.16" fill="#4a52c8" fill-opacity="0.80"/>
<circle cx="260.9" cy="491.3" r="2.08" fill="#4a52c8" fill-opacity="0.54"/>
<circle cx="259.5" cy="492.1" r="1.29" fill="#4a52c8" fill-opacity="0.54"/>
<circle cx="262.5" cy="489.7" r="1.71" fill="#4a52c8" fill-opacity="0.54"/>
<circle cx="278.9" cy="474.0" r="1.84" fill="#4a52c8" fill-opacity="0.74"/>
<circle cx="280.2" cy="473.2" r="1.34" fill="#4a52c8" fill-opacity="0.74"/>
<circle cx="282.8" cy="444.4" r="0.81" fill="#4a52c8" fill-opacity="0.77"/>
<circle cx="282.4" cy="444.5" r="0.64" fill="#4a52c8" fill-opacity="0.77"/>
<circle cx="298.5" cy="433.4" r="0.81" fill="#4a52c8" fill-opacity="0.83"/>
<circle cx="297.9" cy="433.8" r="0.51" fill="#4a52c8" fill-opacity="0.83"/>
<circle cx="298.9" cy="433.8" r="0.56" fill="#4a52c8" fill-opacity="0.83"/>
<circle cx="301.2" cy="446.7" r="1.84" fill="#4a52c8" fill-opacity="0.67"/>
<circle cx="301.5" cy="445.3" r="1.30" fill="#4a52c8" fill-opacity="0.67"/>
<circle cx="260.1" cy="471.1" r="1.57" fill="#4a52c8" fill-opacity="0.87"/>
<circle cx="272.5" cy="491.8" r="1.65" fill="#4a52c8" fill-opacity="0.53"/>
<circle cx="258.4" cy="455.9" r="2.20" fill="#4a52c8" fill-opacity="0.60"/>
<circle cx="257.5" cy="457.1" r="1.13" fill="#4a52c8" fill-opacity="0.60"/>
<circle cx="314.3" cy="480.5" r="0.80" fill="#4a52c8" fill-opacity="0.77"/>
<circle cx="314.6" cy="479.9" r="0.68" fill="#4a52c8" fill-opacity="0.77"/>
<circle cx="314.6" cy="479.9" r="0.44" fill="#4a52c8" fill-opacity="0.77"/>
<circle cx="258.9" cy="462.6" r="0.82" fill="#4a52c8" fill-opacity="0.68"/>
<circle cx="259.3" cy="462.2" r="0.60" fill="#4a52c8" fill-opacity="0.68"/>
<circle cx="259.2" cy="462.2" r="0.68" fill="#4a52c8" fill-opacity="0.68"/>
<circle cx="302.4" cy="437.1" r="2.13" fill="#4a52c8" fill-opacity="0.85"/>
<circle cx="301.9" cy="436.9" r="1.90" fill="#4a52c8" fill-opacity="0.85"/>
<circle cx="324.1" cy="451.4" r="1.07" fill="#4a52c8" fill-opacity="0.78"/>
<circle cx="323.4" cy="451.3" r="0.75" fill="#4a52c8" fill-opacity="0.78"/>
<circle cx="323.3" cy="450.8" r="0.95" fill="#4a52c8" fill-opacity="0.78"/>
<circle cx="318.1" cy="468.3" r="1.49" fill="#4a52c8" fill-opacity="0.62"/>
<circle cx="318.4" cy="467.7" r="1.06" fill="#4a52c8" fill-opacity="0.62"/>
<circle cx="318.0" cy="469.4" r="0.92" fill="#4a52c8" fill-opacity="0.62"/>
<circle cx="276.1" cy="491.6" r="1.33" fill="#4a52c8" fill-opacity="0.93"/>
<circle cx="276.0" cy="491.7" r="0.74" fill="#4a52c8" fill-opacity="0.93"/>
<circle cx="297.3" cy="471.6" r="1.05" fill="#4a52c8" fill-opacity="0.63"/>
<circle cx="297.3" cy="472.2" r="0.78" fill="#4a52c8" fill-opacity="0.63"/>
<circle cx="258.0" cy="447.8" r="1.56" fill="#4a52c8" fill-opacity="0.71"/>
<circle cx="257.9" cy="447.3" r="0.93" fill="#4a52c8" fill-opacity="0.71"/>
<circle cx="257.3" cy="447.8" r="1.02" fill="#4a52c8" fill-opacity="0.71"/>
<circle cx="283.3" cy="459.3" r="1.91" fill="#4a52c8" fill-opacity="0.61"/>
<circle cx="282.6" cy="460.8" r="1.18" fill="#4a52c8" fill-opacity="0.61"/>
<circle cx="289.2" cy="445.8" r="1.94" fill="#4a52c8" fill-opacity="0.70"/>
<circle cx="289.0" cy="446.5" r="1.05" fill="#4a52c8" fill-opacity="0.70"/>
<circle cx="293.1" cy="500.0" r="0.84" fill="#4a52c8" fill-opacity="0.65"/>
<circle cx="293.2" cy="500.5" r="0.69" fill="#4a52c8" fill-opacity="0.65"/>
<circle cx="293.1" cy="500.3" r="0.67" fill="#4a52c8" fill-opacity="0.65"/>
<circle cx="277.2" cy="424.7" r="1.94" fill="#4a52c8" fill-opacity="0.50"/>
<circle cx="308.6" cy="439.3" r="1.11" fill="#4a52c8" fill-opacity="0.71"/>
<circle cx="280.4" cy="485.5" r="1.02" fill="#4a52c8" fill-opacity="0.64"/>
<circle cx="295.8" cy="481.6" r="1.30" fill="#4a52c8" fill-opacity="0.76"/>
<circle cx="295.4" cy="482.3" r="1.08" fill="#4a52c8" fill-opacity="0.76"/>
<circle cx="296.8" cy="481.0" r="0.87" fill="#4a52c8" fill-opacity="0.76"/>
<circle cx="290.5" cy="459.3" r="1.28" fill="#4a52c8" fill-opacity="0.72"/>
<circle cx="258.5" cy="458.4" r="1.03" fill="#4a52c8" fill-opacity="0.66"/>
<circle cx="259.3" cy="458.7" r="0.73" fill="#4a52c8" fill-opacity="0.66"/>
<circle cx="258.8" cy="433.5" r="1.22" fill="#4a52c8" fill-opacity="0.87"/>
<circle cx="259.8" cy="434.1" r="0.86" fill="#4a52c8" fill-opacity="0.87"/>
<circle cx="315.9" cy="485.6" r="1.81" fill="#4a52c8" fill-opacity="0.95"/>
<circle cx="273.2" cy="469.0" r="1.19" fill="#4a52c8" fill-opacity="0.73"/>
<circle cx="273.4" cy="469.2" r="0.76" fill="#4a52c8" fill-opacity="0.73"/>
<circle cx="318.7" cy="460.3" r="1.05" fill="#4a52c8" fill-opacity="0.85"/>
<circle cx="317.9" cy="459.9" r="0.88" fill="#4a52c8" fill-opacity="0.85"/>
<circle cx="318.9" cy="460.5" r="0.61" fill="#4a52c8" fill-opacity="0.85"/>
<circle cx="257.4" cy="461.9" r="1.43" fill="#4a52c8" fill-opacity="0.74"/>
<circle cx="264.2" cy="450.0" r="0.84" fill="#4a52c8" fill-opacity="0.84"/>
<circle cx="263.8" cy="450.0" r="0.69" fill="#4a52c8" fill-opacity="0.84"/>
<circle cx="259.9" cy="438.2" r="0.80" fill="#4a52c8" fill-opacity="0.85"/>
<circle cx="259.7" cy="437.8" r="0.49" fill="#4a52c8" fill-opacity="0.85"/>
<circle cx="259.4" cy="438.7" r="0.59" fill="#4a52c8" fill-opacity="0.85"/>
<circle cx="271.5" cy="483.2" r="0.80" fill="#4a52c8" fill-opacity="0.90"/>
<circle cx="271.4" cy="483.4" r="0.48" fill="#4a52c8" fill-opacity="0.90"/>
<circle cx="270.9" cy="483.8" r="0.68" fill="#4a52c8" fill-opacity="0.90"/>
<circle cx="272.1" cy="496.1" r="0.94" fill="#4a52c8" fill-opacity="0.77"/>
<circle cx="248.2" cy="462.6" r="1.03" fill="#4a52c8" fill-opacity="0.82"/>
<circle cx="248.8" cy="462.6" r="0.84" fill="#4a52c8" fill-opacity="0.82"/>
<circle cx="287.7" cy="478.1" r="0.85" fill="#4a52c8" fill-opacity="0.94"/>
<circle cx="287.2" cy="478.1" r="0.56" fill="#4a52c8" fill-opacity="0.94"/>
<circle cx="287.6" cy="477.5" r="0.47" fill="#4a52c8" fill-opacity="0.94"/>
<circle cx="297.8" cy="440.5" r="0.85" fill="#4a52c8" fill-opacity="0.63"/>
<circle cx="298.0" cy="440.3" r="0.48" fill="#4a52c8" fill-opacity="0.63"/>
<circle cx="283.7" cy="449.8" r="1.85" fill="#4a52c8" fill-opacity="0.56"/>
<circle cx="284.6" cy="448.8" r="1.18" fill="#4a52c8" fill-opacity="0.56"/>
<circle cx="284.3" cy="449.5" r="1.63" fill="#4a52c8" fill-opacity="0.56"/>
<circle cx="297.1" cy="499.0" r="0.88" fill="#4a52c8" fill-opacity="0.70"/>
<circle cx="296.8" cy="499.5" r="0.64" fill="#4a52c8" fill-opacity="0.70"/>
<circle cx="296.9" cy="498.6" r="0.65" fill="#4a52c8" fill-opacity="0.70"/>
<circle cx="295.7" cy="497.6" r="1.19" fill="#4a52c8" fill-opacity="0.74"/>
<circle cx="295.4" cy="498.0" r="0.87" fill="#4a52c8" fill-opacity="0.74"/>
<circle cx="295.3" cy="497.4" r="0.64" fill="#4a52c8" fill-opacity="0.74"/>
<circle cx="303.2" cy="494.4" r="1.46" fill="#4a52c8" fill-opacity="0.55"/>
<circle cx="303.2" cy="494.0" r="0.77" fill="#4a52c8" fill-opacity="0.55"/>
<circle cx="279.9" cy="479.1" r="1.57" fill="#4a52c8" fill-opacity="0.63"/>
<circle cx="280.6" cy="480.0" r="1.33" fill="#4a52c8" fill-opacity="0.63"/>
<circle cx="279.0" cy="478.5" r="0.80" fill="#4a52c8" fill-opacity="0.63"/>
<circle cx="273.1" cy="432.2" r="1.06" fill="#4a52c8" fill-opacity="0.80"/>
<circle cx="287.4" cy="498.1" r="1.39" fill="#4a52c8" fill-opacity="0.58"/>
<circle cx="287.9" cy="498.6" r="0.72" fill="#4a52c8" fill-opacity="0.58"/>
<circle cx="286.3" cy="497.4" r="0.81" fill="#4a52c8" fill-opacity="0.58"/>
<circle cx="279.0" cy="484.7" r="0.95" fill="#4a52c8" fill-opacity="0.79"/>
<circle cx="279.1" cy="485.0" r="0.57" fill="#4a52c8" fill-opacity="0.79"/>
<circle cx="278.9" cy="485.0" r="0.60" fill="#4a52c8" fill-opacity="0.79"/>
<circle cx="280.2" cy="456.1" r="0.82" fill="#4a52c8" fill-opacity="0.86"/>
<circle cx="280.6" cy="455.5" r="0.64" fill="#4a52c8" fill-opacity="0.86"/>
<circle cx="280.1" cy="456.4" r="0.68" fill="#4a52c8" fill-opacity="0.86"/>
<circle cx="252.9" cy="479.1" r="1.62" fill="#4a52c8" fill-opacity="0.87"/>
<circle cx="311.2" cy="486.5" r="1.54" fill="#4a52c8" fill-opacity="0.86"/>
<circle cx="312.3" cy="486.8" r="1.11" fill="#4a52c8" fill-opacity="0.86"/>
<circle cx="310.5" cy="485.4" r="0.99" fill="#4a52c8" fill-opacity="0.86"/>
<circle cx="271.8" cy="470.9" r="0.83" fill="#4a52c8" fill-opacity="0.82"/>
<circle cx="250.8" cy="474.5" r="0.93" fill="#4a52c8" fill-opacity="0.90"/>
<circle cx="250.5" cy="475.0" r="0.67" fill="#4a52c8" fill-opacity="0.90"/>
<circle cx="251.2" cy="474.0" r="0.72" fill="#4a52c8" fill-opacity="0.90"/>
<circle cx="293.6" cy="449.7" r="0.99" fill="#4a52c8" fill-opacity="0.59"/>
<circle cx="293.1" cy="450.1" r="0.68" fill="#4a52c8" fill-opacity="0.59"/>
<circle cx="276.4" cy="473.9" r="0.80" fill="#4a52c8" fill-opacity="0.95"/>
</g></g>
<circle cx="287" cy="461.5" r="39.3" fill="none" stroke="#222" stroke-width="1.2"/>
<clipPath id="c8"><circle cx="404" cy="462.6" r="40.3"/></clipPath>
<circle cx="404" cy="462.6" r="40.3" fill="#ebebf0"/>
<g clip-path="url(#c8)">
<g filter="url(#bl4)"><ellipse cx="400" cy="500" rx="42" ry="14" fill="#5a60c4" fill-opacity="0.55"/><ellipse cx="445" cy="470" rx="12" ry="30" fill="#5a60c4" fill-opacity="0.5"/></g>
<g>
<circle cx="409.77" cy="501.71" r="4.11" fill="#6a72d0" fill-opacity="0.09"/>
<circle cx="404.65" cy="502.88" r="3.93" fill="#6a72d0" fill-opacity="0.14"/>
<circle cx="376.87" cy="470.83" r="4.49" fill="#6a72d0" fill-opacity="0.09"/>
<circle cx="404.57" cy="468.27" r="3.22" fill="#6a72d0" fill-opacity="0.19"/>
<circle cx="394.15" cy="471.96" r="4.97" fill="#6a72d0" fill-opacity="0.09"/>
<circle cx="386.32" cy="491.07" r="3.95" fill="#6a72d0" fill-opacity="0.19"/>
<circle cx="390.76" cy="455.15" r="4.84" fill="#6a72d0" fill-opacity="0.14"/>
<circle cx="417.54" cy="499.38" r="4.19" fill="#6a72d0" fill-opacity="0.19"/>
<circle cx="398.65" cy="486.07" r="2.4" fill="#6a72d0" fill-opacity="0.17"/>
<circle cx="431.38" cy="481.87" r="4.85" fill="#6a72d0" fill-opacity="0.18"/>
<circle cx="386.09" cy="462.19" r="3.59" fill="#6a72d0" fill-opacity="0.14"/>
<circle cx="438.51" cy="479.22" r="4.1" fill="#6a72d0" fill-opacity="0.11"/>
<circle cx="401.23" cy="488.68" r="4.5" fill="#6a72d0" fill-opacity="0.19"/>
<circle cx="415.48" cy="485.22" r="3.99" fill="#6a72d0" fill-opacity="0.2"/>
<circle cx="414.52" cy="496.28" r="2.04" fill="#6a72d0" fill-opacity="0.17"/>
<circle cx="406.96" cy="488.24" r="3.25" fill="#6a72d0" fill-opacity="0.15"/>
<circle cx="401" cy="474.66" r="2.32" fill="#6a72d0" fill-opacity="0.14"/>
<circle cx="380.88" cy="490.48" r="4.12" fill="#6a72d0" fill-opacity="0.2"/>
<circle cx="408.84" cy="464.62" r="3.16" fill="#6a72d0" fill-opacity="0.15"/>
<circle cx="440.83" cy="463.28" r="4.63" fill="#6a72d0" fill-opacity="0.08"/>
<circle cx="438.28" cy="454.97" r="3.74" fill="#6a72d0" fill-opacity="0.1"/>
<circle cx="430.3" cy="457.56" r="3.82" fill="#6a72d0" fill-opacity="0.14"/>
<circle cx="388.38" cy="465.26" r="3.74" fill="#6a72d0" fill-opacity="0.13"/>
<circle cx="391.73" cy="477.28" r="3.34" fill="#6a72d0" fill-opacity="0.09"/>
<circle cx="428.07" cy="466.04" r="2.28" fill="#6a72d0" fill-opacity="0.2"/>
<circle cx="402.77" cy="430.2" r="3.84" fill="#6a72d0" fill-opacity="0.19"/>
<circle cx="407.61" cy="484.24" r="4.93" fill="#6a72d0" fill-opacity="0.12"/>
<circle cx="393.48" cy="498.14" r="3.11" fill="#6a72d0" fill-opacity="0.2"/>
<circle cx="416.89" cy="444.15" r="3.84" fill="#6a72d0" fill-opacity="0.18"/>
<circle cx="415" cy="444.83" r="4.2" fill="#6a72d0" fill-opacity="0.11"/>
<circle cx="400.74" cy="484.12" r="3.51" fill="#6a72d0" fill-opacity="0.11"/>
<circle cx="438.98" cy="454.88" r="2.75" fill="#6a72d0" fill-opacity="0.18"/>
<circle cx="435.36" cy="445.47" r="3.83" fill="#6a72d0" fill-opacity="0.16"/>
<circle cx="427.41" cy="476.86" r="4.72" fill="#6a72d0" fill-opacity="0.19"/>
<circle cx="430.22" cy="479.87" r="3.96" fill="#6a72d0" fill-opacity="0.12"/>
<circle cx="441.51" cy="471.91" r="3.96" fill="#6a72d0" fill-opacity="0.12"/>
<circle cx="385.56" cy="449.25" r="3.07" fill="#6a72d0" fill-opacity="0.12"/>
<circle cx="394.69" cy="475.75" r="3.17" fill="#6a72d0" fill-opacity="0.13"/>
<circle cx="406.56" cy="450.13" r="2.88" fill="#6a72d0" fill-opacity="0.1"/>
<circle cx="403.95" cy="449.29" r="3.67" fill="#6a72d0" fill-opacity="0.17"/>
<circle cx="439.22" cy="476.76" r="3.84" fill="#6a72d0" fill-opacity="0.13"/>
<circle cx="432.24" cy="450.7" r="4.77" fill="#6a72d0" fill-opacity="0.16"/>
<circle cx="432.05" cy="459.66" r="4.53" fill="#6a72d0" fill-opacity="0.14"/>
<circle cx="392" cy="493.59" r="2.38" fill="#6a72d0" fill-opacity="0.18"/>
<circle cx="423.99" cy="454.22" r="3.58" fill="#6a72d0" fill-opacity="0.17"/>
<circle cx="418.7" cy="433.7" r="3.18" fill="#6a72d0" fill-opacity="0.08"/>
<circle cx="376.92" cy="490.9" r="4.1" fill="#6a72d0" fill-opacity="0.15"/>
<circle cx="424.79" cy="488.79" r="2.55" fill="#6a72d0" fill-opacity="0.15"/>
<circle cx="431.56" cy="491" r="3.89" fill="#6a72d0" fill-opacity="0.2"/>
<circle cx="435.35" cy="487.89" r="3.8" fill="#6a72d0" fill-opacity="0.16"/>
<circle cx="428.02" cy="460.46" r="3.95" fill="#6a72d0" fill-opacity="0.14"/>
<circle cx="390.03" cy="482.81" r="3.12" fill="#6a72d0" fill-opacity="0.16"/>
<circle cx="421.43" cy="448.29" r="2.7" fill="#6a72d0" fill-opacity="0.12"/>
<circle cx="383.83" cy="485.07" r="3.94" fill="#6a72d0" fill-opacity="0.17"/>
<circle cx="401.49" cy="499.48" r="4.58" fill="#6a72d0" fill-opacity="0.13"/>
<circle cx="387.41" cy="488.37" r="3.08" fill="#6a72d0" fill-opacity="0.15"/>
<circle cx="371.5" cy="452.8" r="2.44" fill="#6a72d0" fill-opacity="0.18"/>
<circle cx="434.48" cy="481.54" r="2.65" fill="#6a72d0" fill-opacity="0.16"/>
<circle cx="403.19" cy="500.43" r="2.35" fill="#6a72d0" fill-opacity="0.08"/>
<circle cx="438.21" cy="457.61" r="3.73" fill="#6a72d0" fill-opacity="0.16"/>
<circle cx="440.24" cy="465.12" r="4.56" fill="#6a72d0" fill-opacity="0.13"/>
<circle cx="427.74" cy="478.92" r="4.96" fill="#6a72d0" fill-opacity="0.17"/>
<circle cx="442.11" cy="458.25" r="2.44" fill="#6a72d0" fill-opacity="0.1"/>
<circle cx="386.3" cy="488.22" r="2.76" fill="#6a72d0" fill-opacity="0.16"/>
<circle cx="406.11" cy="468.98" r="3.46" fill="#6a72d0" fill-opacity="0.16"/>
<circle cx="407.89" cy="487.69" r="2.79" fill="#6a72d0" fill-opacity="0.14"/>
<circle cx="383.5" cy="447.13" r="4.08" fill="#6a72d0" fill-opacity="0.16"/>
<circle cx="417.55" cy="496.18" r="4.6" fill="#6a72d0" fill-opacity="0.17"/>
<circle cx="410.47" cy="497.98" r="2.49" fill="#6a72d0" fill-opacity="0.11"/>
<circle cx="410.24" cy="496.29" r="2.6" fill="#6a72d0" fill-opacity="0.16"/>
<circle cx="419.12" cy="461.9" r="3.78" fill="#6a72d0" fill-opacity="0.18"/>
<circle cx="426.44" cy="450.57" r="2.36" fill="#6a72d0" fill-opacity="0.13"/>
<circle cx="433.7" cy="436.1" r="4.27" fill="#6a72d0" fill-opacity="0.19"/>
<circle cx="434.38" cy="489.04" r="3.64" fill="#6a72d0" fill-opacity="0.1"/>
<circle cx="419.39" cy="486.26" r="3.89" fill="#6a72d0" fill-opacity="0.2"/>
<circle cx="430.49" cy="454.01" r="4.29" fill="#6a72d0" fill-opacity="0.19"/>
<circle cx="384.85" cy="443.66" r="2.48" fill="#6a72d0" fill-opacity="0.18"/>
<circle cx="390.37" cy="434.32" r="4.73" fill="#6a72d0" fill-opacity="0.15"/>
<circle cx="385.45" cy="436.56" r="2.54" fill="#6a72d0" fill-opacity="0.09"/>
<circle cx="397.78" cy="474.17" r="3.46" fill="#6a72d0" fill-opacity="0.15"/>
<circle cx="433.91" cy="484.47" r="2.38" fill="#6a72d0" fill-opacity="0.13"/>
<circle cx="389.53" cy="487.8" r="3.78" fill="#6a72d0" fill-opacity="0.17"/>
<circle cx="411.7" cy="470.42" r="3.33" fill="#6a72d0" fill-opacity="0.11"/>
<circle cx="427.24" cy="494.46" r="4.67" fill="#6a72d0" fill-opacity="0.2"/>
<circle cx="380.16" cy="489.6" r="3.69" fill="#6a72d0" fill-opacity="0.18"/>
<circle cx="424.61" cy="454.68" r="4.75" fill="#6a72d0" fill-opacity="0.15"/>
<circle cx="412.32" cy="475.61" r="4.78" fill="#6a72d0" fill-opacity="0.13"/>
<circle cx="383.84" cy="470.54" r="3.33" fill="#6a72d0" fill-opacity="0.14"/>
<circle cx="386.53" cy="492.29" r="4.94" fill="#6a72d0" fill-opacity="0.19"/>
<circle cx="434.88" cy="470.75" r="3.64" fill="#6a72d0" fill-opacity="0.19"/>
<circle cx="379.57" cy="491.55" r="3.99" fill="#6a72d0" fill-opacity="0.12"/>
<circle cx="438.58" cy="482.33" r="4.75" fill="#6a72d0" fill-opacity="0.14"/>
<circle cx="397.85" cy="493.93" r="2.58" fill="#6a72d0" fill-opacity="0.09"/>
<circle cx="391.01" cy="471.09" r="4.93" fill="#6a72d0" fill-opacity="0.19"/>
<circle cx="420.36" cy="489.81" r="4.37" fill="#6a72d0" fill-opacity="0.2"/>
<circle cx="388.57" cy="446.62" r="2.81" fill="#6a72d0" fill-opacity="0.18"/>
<circle cx="397.66" cy="428.01" r="2.82" fill="#6a72d0" fill-opacity="0.17"/>
<circle cx="391.74" cy="498.61" r="3.37" fill="#6a72d0" fill-opacity="0.2"/>
<circle cx="423.65" cy="435.44" r="3.88" fill="#6a72d0" fill-opacity="0.09"/>
<circle cx="408.55" cy="486.9" r="2.62" fill="#6a72d0" fill-opacity="0.13"/>
<circle cx="394.08" cy="495.36" r="3.75" fill="#6a72d0" fill-opacity="0.18"/>
<circle cx="369.22" cy="464.56" r="3.16" fill="#6a72d0" fill-opacity="0.12"/>
<circle cx="402.1" cy="485.92" r="4.59" fill="#6a72d0" fill-opacity="0.11"/>
<circle cx="433.5" cy="474.5" r="4.73" fill="#6a72d0" fill-opacity="0.12"/>
<circle cx="420.79" cy="492.68" r="2.57" fill="#6a72d0" fill-opacity="0.09"/>
<circle cx="369.19" cy="447.64" r="2.78" fill="#6a72d0" fill-opacity="0.08"/>
<circle cx="381.76" cy="444.23" r="4.61" fill="#6a72d0" fill-opacity="0.09"/>
<circle cx="416.83" cy="466.71" r="4.19" fill="#6a72d0" fill-opacity="0.1"/>
<circle cx="440.48" cy="452.2" r="4.63" fill="#6a72d0" fill-opacity="0.16"/>
<circle cx="417.72" cy="484.25" r="3.31" fill="#6a72d0" fill-opacity="0.2"/>
<circle cx="381.8" cy="477.8" r="1.99" fill="#4a50c4" fill-opacity="0.90"/>
<circle cx="381.5" cy="479.0" r="1.51" fill="#4a50c4" fill-opacity="0.90"/>
<circle cx="431.8" cy="477.7" r="0.95" fill="#4a50c4" fill-opacity="0.70"/>
<circle cx="415.0" cy="462.4" r="1.01" fill="#4a50c4" fill-opacity="0.52"/>
<circle cx="385.0" cy="467.0" r="0.98" fill="#4a50c4" fill-opacity="0.64"/>
<circle cx="376.6" cy="474.7" r="1.17" fill="#4a50c4" fill-opacity="0.92"/>
<circle cx="376.3" cy="474.6" r="0.92" fill="#4a50c4" fill-opacity="0.92"/>
<circle cx="376.3" cy="474.7" r="0.81" fill="#4a50c4" fill-opacity="0.92"/>
<circle cx="385.0" cy="480.5" r="1.22" fill="#4a50c4" fill-opacity="0.83"/>
<circle cx="385.0" cy="480.6" r="1.00" fill="#4a50c4" fill-opacity="0.83"/>
<circle cx="410.1" cy="490.3" r="0.91" fill="#4a50c4" fill-opacity="0.75"/>
<circle cx="410.6" cy="490.2" r="0.76" fill="#4a50c4" fill-opacity="0.75"/>
<circle cx="393.9" cy="495.4" r="1.74" fill="#4a50c4" fill-opacity="0.60"/>
<circle cx="392.9" cy="494.4" r="1.55" fill="#4a50c4" fill-opacity="0.60"/>
<circle cx="435.5" cy="485.2" r="2.15" fill="#4a50c4" fill-opacity="0.58"/>
<circle cx="434.8" cy="485.6" r="1.85" fill="#4a50c4" fill-opacity="0.58"/>
<circle cx="435.2" cy="483.6" r="1.60" fill="#4a50c4" fill-opacity="0.58"/>
<circle cx="387.3" cy="484.0" r="0.91" fill="#4a50c4" fill-opacity="0.53"/>
<circle cx="392.0" cy="485.7" r="0.90" fill="#4a50c4" fill-opacity="0.76"/>
<circle cx="430.7" cy="469.7" r="1.52" fill="#4a50c4" fill-opacity="0.70"/>
<circle cx="418.5" cy="486.0" r="1.83" fill="#4a50c4" fill-opacity="0.54"/>
<circle cx="419.0" cy="485.1" r="0.94" fill="#4a50c4" fill-opacity="0.54"/>
<circle cx="437.2" cy="451.6" r="1.16" fill="#4a50c4" fill-opacity="0.51"/>
<circle cx="436.9" cy="451.5" r="1.02" fill="#4a50c4" fill-opacity="0.51"/>
<circle cx="437.0" cy="451.2" r="0.79" fill="#4a50c4" fill-opacity="0.51"/>
<circle cx="433.2" cy="460.6" r="1.08" fill="#4a50c4" fill-opacity="0.81"/>
<circle cx="433.6" cy="461.3" r="0.61" fill="#4a50c4" fill-opacity="0.81"/>
<circle cx="432.4" cy="460.3" r="0.74" fill="#4a50c4" fill-opacity="0.81"/>
<circle cx="372.7" cy="457.0" r="2.30" fill="#4a50c4" fill-opacity="0.57"/>
<circle cx="372.3" cy="455.7" r="1.81" fill="#4a50c4" fill-opacity="0.57"/>
<circle cx="417.1" cy="435.8" r="1.45" fill="#4a50c4" fill-opacity="0.72"/>
<circle cx="416.3" cy="436.2" r="1.17" fill="#4a50c4" fill-opacity="0.72"/>
<circle cx="418.0" cy="435.5" r="0.86" fill="#4a50c4" fill-opacity="0.72"/>
<circle cx="422.7" cy="489.0" r="1.40" fill="#4a50c4" fill-opacity="0.83"/>
<circle cx="422.0" cy="489.4" r="0.78" fill="#4a50c4" fill-opacity="0.83"/>
<circle cx="421.9" cy="488.2" r="0.88" fill="#4a50c4" fill-opacity="0.83"/>
<circle cx="437.7" cy="463.9" r="2.02" fill="#4a50c4" fill-opacity="0.52"/>
<circle cx="438.0" cy="462.3" r="1.78" fill="#4a50c4" fill-opacity="0.52"/>
<circle cx="393.4" cy="488.6" r="2.40" fill="#4a50c4" fill-opacity="0.64"/>
<circle cx="393.3" cy="488.0" r="2.12" fill="#4a50c4" fill-opacity="0.64"/>
<circle cx="394.7" cy="488.2" r="1.33" fill="#4a50c4" fill-opacity="0.64"/>
<circle cx="370.0" cy="456.8" r="2.39" fill="#4a50c4" fill-opacity="0.74"/>
<circle cx="368.3" cy="458.0" r="1.71" fill="#4a50c4" fill-opacity="0.74"/>
<circle cx="368.8" cy="455.1" r="1.70" fill="#4a50c4" fill-opacity="0.74"/>
<circle cx="383.4" cy="489.4" r="1.10" fill="#4a50c4" fill-opacity="0.74"/>
<circle cx="424.9" cy="477.1" r="1.17" fill="#4a50c4" fill-opacity="0.53"/>
<circle cx="385.8" cy="488.6" r="1.20" fill="#4a50c4" fill-opacity="0.55"/>
<circle cx="374.6" cy="486.6" r="1.70" fill="#4a50c4" fill-opacity="0.78"/>
<circle cx="375.5" cy="486.3" r="0.85" fill="#4a50c4" fill-opacity="0.78"/>
<circle cx="374.1" cy="485.3" r="1.23" fill="#4a50c4" fill-opacity="0.78"/>
<circle cx="403.9" cy="489.4" r="1.34" fill="#4a50c4" fill-opacity="0.76"/>
<circle cx="419.8" cy="463.9" r="1.05" fill="#4a50c4" fill-opacity="0.86"/>
<circle cx="401.8" cy="432.5" r="1.03" fill="#4a50c4" fill-opacity="0.73"/>
<circle cx="425.5" cy="435.4" r="1.80" fill="#4a50c4" fill-opacity="0.78"/>
<circle cx="426.5" cy="434.8" r="1.11" fill="#4a50c4" fill-opacity="0.78"/>
<circle cx="425.6" cy="434.2" r="1.47" fill="#4a50c4" fill-opacity="0.78"/>
<circle cx="410.7" cy="484.0" r="2.16" fill="#4a50c4" fill-opacity="0.62"/>
<circle cx="411.1" cy="483.7" r="1.23" fill="#4a50c4" fill-opacity="0.62"/>
<circle cx="412.3" cy="482.6" r="1.83" fill="#4a50c4" fill-opacity="0.62"/>
<circle cx="427.3" cy="488.9" r="1.02" fill="#4a50c4" fill-opacity="0.65"/>
<circle cx="437.7" cy="470.6" r="1.58" fill="#4a50c4" fill-opacity="0.94"/>
<circle cx="437.2" cy="471.1" r="0.94" fill="#4a50c4" fill-opacity="0.94"/>
<circle cx="386.2" cy="498.3" r="2.37" fill="#4a50c4" fill-opacity="0.60"/>
<circle cx="391.5" cy="494.0" r="1.60" fill="#4a50c4" fill-opacity="0.73"/>
<circle cx="430.1" cy="489.2" r="0.91" fill="#4a50c4" fill-opacity="0.51"/>
<circle cx="427.2" cy="473.6" r="1.66" fill="#4a50c4" fill-opacity="0.89"/>
<circle cx="427.6" cy="473.7" r="1.47" fill="#4a50c4" fill-opacity="0.89"/>
<circle cx="426.7" cy="474.6" r="1.19" fill="#4a50c4" fill-opacity="0.89"/>
<circle cx="407.5" cy="483.5" r="1.83" fill="#4a50c4" fill-opacity="0.60"/>
<circle cx="406.8" cy="484.0" r="1.41" fill="#4a50c4" fill-opacity="0.60"/>
<circle cx="407.3" cy="484.4" r="1.23" fill="#4a50c4" fill-opacity="0.60"/>
<circle cx="411.5" cy="472.2" r="1.74" fill="#4a50c4" fill-opacity="0.73"/>
<circle cx="410.1" cy="472.5" r="1.20" fill="#4a50c4" fill-opacity="0.73"/>
<circle cx="412.6" cy="472.5" r="1.46" fill="#4a50c4" fill-opacity="0.73"/>
<circle cx="408.9" cy="491.6" r="1.12" fill="#4a50c4" fill-opacity="0.83"/>
<circle cx="408.5" cy="491.9" r="1.00" fill="#4a50c4" fill-opacity="0.83"/>
<circle cx="422.1" cy="467.2" r="0.95" fill="#4a50c4" fill-opacity="0.73"/>
<circle cx="421.5" cy="467.7" r="0.55" fill="#4a50c4" fill-opacity="0.73"/>
<circle cx="422.5" cy="467.0" r="0.67" fill="#4a50c4" fill-opacity="0.73"/>
<circle cx="394.2" cy="495.4" r="0.91" fill="#4a50c4" fill-opacity="0.92"/>
<circle cx="393.6" cy="495.9" r="0.77" fill="#4a50c4" fill-opacity="0.92"/>
<circle cx="398.0" cy="458.2" r="2.48" fill="#4a50c4" fill-opacity="0.74"/>
<circle cx="410.4" cy="498.5" r="1.76" fill="#4a50c4" fill-opacity="0.64"/>
<circle cx="383.8" cy="497.3" r="0.91" fill="#4a50c4" fill-opacity="0.53"/>
<circle cx="383.6" cy="496.9" r="0.73" fill="#4a50c4" fill-opacity="0.53"/>
<circle cx="429.8" cy="480.2" r="1.08" fill="#4a50c4" fill-opacity="0.77"/>
<circle cx="429.7" cy="480.6" r="0.90" fill="#4a50c4" fill-opacity="0.77"/>
<circle cx="430.5" cy="479.3" r="0.65" fill="#4a50c4" fill-opacity="0.77"/>
<circle cx="387.3" cy="487.2" r="1.20" fill="#4a50c4" fill-opacity="0.73"/>
<circle cx="425.3" cy="475.1" r="1.19" fill="#4a50c4" fill-opacity="0.66"/>
<circle cx="424.3" cy="474.2" r="0.94" fill="#4a50c4" fill-opacity="0.66"/>
<circle cx="424.7" cy="475.9" r="0.90" fill="#4a50c4" fill-opacity="0.66"/>
<circle cx="420.5" cy="458.9" r="0.90" fill="#4a50c4" fill-opacity="0.50"/>
<circle cx="398.2" cy="441.3" r="0.92" fill="#4a50c4" fill-opacity="0.73"/>
<circle cx="434.2" cy="462.8" r="1.00" fill="#4a50c4" fill-opacity="0.57"/>
<circle cx="380.3" cy="468.4" r="1.12" fill="#4a50c4" fill-opacity="0.83"/>
<circle cx="380.0" cy="467.6" r="0.95" fill="#4a50c4" fill-opacity="0.83"/>
<circle cx="408.9" cy="497.1" r="0.93" fill="#4a50c4" fill-opacity="0.61"/>
<circle cx="409.0" cy="496.9" r="0.80" fill="#4a50c4" fill-opacity="0.61"/>
<circle cx="408.8" cy="496.7" r="0.47" fill="#4a50c4" fill-opacity="0.61"/>
<circle cx="443.5" cy="455.4" r="1.46" fill="#4a50c4" fill-opacity="0.74"/>
<circle cx="405.5" cy="491.3" r="0.99" fill="#4a50c4" fill-opacity="0.67"/>
<circle cx="411.0" cy="452.2" r="1.56" fill="#4a50c4" fill-opacity="0.63"/>
<circle cx="436.4" cy="469.4" r="1.02" fill="#4a50c4" fill-opacity="0.83"/>
<circle cx="436.4" cy="468.7" r="0.74" fill="#4a50c4" fill-opacity="0.83"/>
<circle cx="411.4" cy="489.9" r="1.65" fill="#4a50c4" fill-opacity="0.75"/>
<circle cx="423.6" cy="479.9" r="1.31" fill="#4a50c4" fill-opacity="0.56"/>
<circle cx="423.5" cy="480.5" r="0.97" fill="#4a50c4" fill-opacity="0.56"/>
<circle cx="423.3" cy="480.1" r="1.13" fill="#4a50c4" fill-opacity="0.56"/>
<circle cx="423.9" cy="489.3" r="2.44" fill="#4a50c4" fill-opacity="0.76"/>
<circle cx="423.8" cy="491.2" r="1.45" fill="#4a50c4" fill-opacity="0.76"/>
<circle cx="422.4" cy="487.8" r="1.77" fill="#4a50c4" fill-opacity="0.76"/>
<circle cx="392.9" cy="466.7" r="1.39" fill="#4a50c4" fill-opacity="0.69"/>
<circle cx="393.4" cy="467.6" r="0.78" fill="#4a50c4" fill-opacity="0.69"/>
<circle cx="441.5" cy="450.0" r="1.78" fill="#4a50c4" fill-opacity="0.52"/>
<circle cx="440.8" cy="451.3" r="1.26" fill="#4a50c4" fill-opacity="0.52"/>
<circle cx="440.8" cy="450.1" r="1.24" fill="#4a50c4" fill-opacity="0.52"/>
<circle cx="441.6" cy="466.4" r="1.72" fill="#4a50c4" fill-opacity="0.88"/>
<circle cx="437.3" cy="465.8" r="1.59" fill="#4a50c4" fill-opacity="0.76"/>
<circle cx="374.4" cy="487.8" r="1.41" fill="#4a50c4" fill-opacity="0.82"/>
<circle cx="374.5" cy="486.7" r="1.07" fill="#4a50c4" fill-opacity="0.82"/>
<circle cx="393.9" cy="465.9" r="0.96" fill="#4a50c4" fill-opacity="0.74"/>
<circle cx="394.5" cy="465.2" r="0.80" fill="#4a50c4" fill-opacity="0.74"/>
<circle cx="388.0" cy="468.2" r="0.99" fill="#4a50c4" fill-opacity="0.95"/>
<circle cx="387.7" cy="468.8" r="0.60" fill="#4a50c4" fill-opacity="0.95"/>
<circle cx="417.4" cy="443.8" r="0.90" fill="#4a50c4" fill-opacity="0.91"/>
<circle cx="422.7" cy="439.6" r="1.36" fill="#4a50c4" fill-opacity="0.61"/>
<circle cx="422.0" cy="440.1" r="0.75" fill="#4a50c4" fill-opacity="0.61"/>
<circle cx="421.7" cy="438.8" r="0.89" fill="#4a50c4" fill-opacity="0.61"/>
<circle cx="430.4" cy="485.2" r="1.28" fill="#4a50c4" fill-opacity="0.60"/>
<circle cx="429.6" cy="484.5" r="0.80" fill="#4a50c4" fill-opacity="0.60"/>
<circle cx="415.0" cy="444.1" r="1.26" fill="#4a50c4" fill-opacity="0.50"/>
<circle cx="415.2" cy="444.8" r="0.86" fill="#4a50c4" fill-opacity="0.50"/>
<circle cx="415.1" cy="443.3" r="0.91" fill="#4a50c4" fill-opacity="0.50"/>
<circle cx="428.0" cy="442.5" r="1.17" fill="#4a50c4" fill-opacity="0.84"/>
<circle cx="428.5" cy="442.8" r="0.94" fill="#4a50c4" fill-opacity="0.84"/>
<circle cx="428.0" cy="442.8" r="0.81" fill="#4a50c4" fill-opacity="0.84"/>
<circle cx="395.3" cy="491.6" r="1.27" fill="#4a50c4" fill-opacity="0.74"/>
<circle cx="413.4" cy="434.8" r="1.95" fill="#4a50c4" fill-opacity="0.73"/>
<circle cx="414.4" cy="434.2" r="1.07" fill="#4a50c4" fill-opacity="0.73"/>
<circle cx="396.1" cy="497.3" r="1.14" fill="#4a50c4" fill-opacity="0.87"/>
<circle cx="395.4" cy="496.7" r="0.69" fill="#4a50c4" fill-opacity="0.87"/>
<circle cx="402.3" cy="482.8" r="1.01" fill="#4a50c4" fill-opacity="0.77"/>
<circle cx="385.1" cy="484.4" r="1.15" fill="#4a50c4" fill-opacity="0.60"/>
<circle cx="385.8" cy="485.0" r="0.65" fill="#4a50c4" fill-opacity="0.60"/>
<circle cx="430.3" cy="468.1" r="2.18" fill="#4a50c4" fill-opacity="0.59"/>
<circle cx="429.4" cy="454.5" r="0.91" fill="#4a50c4" fill-opacity="0.91"/>
<circle cx="442.3" cy="461.7" r="1.55" fill="#4a50c4" fill-opacity="0.69"/>
<circle cx="441.5" cy="460.5" r="1.00" fill="#4a50c4" fill-opacity="0.69"/>
<circle cx="398.1" cy="492.3" r="1.17" fill="#4a50c4" fill-opacity="0.66"/>
<circle cx="398.8" cy="491.5" r="0.79" fill="#4a50c4" fill-opacity="0.66"/>
<circle cx="397.5" cy="493.1" r="0.85" fill="#4a50c4" fill-opacity="0.66"/>
<circle cx="381.9" cy="448.6" r="1.20" fill="#4a50c4" fill-opacity="0.65"/>
<circle cx="405.2" cy="501.7" r="1.49" fill="#4a50c4" fill-opacity="0.58"/>
<circle cx="415.7" cy="451.8" r="2.13" fill="#4a50c4" fill-opacity="0.53"/>
<circle cx="416.5" cy="451.7" r="1.43" fill="#4a50c4" fill-opacity="0.53"/>
<circle cx="403.8" cy="487.4" r="0.91" fill="#4a50c4" fill-opacity="0.79"/>
<circle cx="403.9" cy="487.5" r="0.54" fill="#4a50c4" fill-opacity="0.79"/>
<circle cx="388.2" cy="481.9" r="1.03" fill="#4a50c4" fill-opacity="0.76"/>
<circle cx="387.9" cy="481.4" r="0.80" fill="#4a50c4" fill-opacity="0.76"/>
<circle cx="387.6" cy="482.2" r="0.52" fill="#4a50c4" fill-opacity="0.76"/>
<circle cx="414.9" cy="450.0" r="1.34" fill="#4a50c4" fill-opacity="0.80"/>
<circle cx="414.8" cy="450.7" r="0.96" fill="#4a50c4" fill-opacity="0.80"/>
<circle cx="416.8" cy="497.2" r="1.39" fill="#4a50c4" fill-opacity="0.60"/>
<circle cx="417.0" cy="496.3" r="1.24" fill="#4a50c4" fill-opacity="0.60"/>
<circle cx="399.8" cy="433.3" r="1.00" fill="#4a50c4" fill-opacity="0.83"/>
<circle cx="400.2" cy="432.9" r="0.73" fill="#4a50c4" fill-opacity="0.83"/>
<circle cx="439.9" cy="450.5" r="1.02" fill="#4a50c4" fill-opacity="0.83"/>
<circle cx="439.8" cy="450.7" r="0.70" fill="#4a50c4" fill-opacity="0.83"/>
<circle cx="440.1" cy="450.4" r="0.71" fill="#4a50c4" fill-opacity="0.83"/>
<circle cx="415.0" cy="472.0" r="0.95" fill="#4a50c4" fill-opacity="0.84"/>
<circle cx="392.3" cy="481.4" r="1.21" fill="#4a50c4" fill-opacity="0.85"/>
<circle cx="370.5" cy="477.9" r="2.27" fill="#4a50c4" fill-opacity="0.81"/>
<circle cx="371.3" cy="479.1" r="1.44" fill="#4a50c4" fill-opacity="0.81"/>
<circle cx="399.0" cy="424.4" r="0.92" fill="#4a50c4" fill-opacity="0.61"/>
<circle cx="437.4" cy="454.8" r="1.27" fill="#4a50c4" fill-opacity="0.75"/>
<circle cx="437.7" cy="453.9" r="0.72" fill="#4a50c4" fill-opacity="0.75"/>
<circle cx="400.9" cy="483.9" r="0.90" fill="#4a50c4" fill-opacity="0.60"/>
<circle cx="401.3" cy="484.3" r="0.52" fill="#4a50c4" fill-opacity="0.60"/>
<circle cx="399.5" cy="484.3" r="2.22" fill="#4a50c4" fill-opacity="0.83"/>
<circle cx="399.2" cy="482.6" r="1.20" fill="#4a50c4" fill-opacity="0.83"/>
<circle cx="420.4" cy="499.3" r="1.04" fill="#4a50c4" fill-opacity="0.75"/>
<circle cx="420.4" cy="499.9" r="0.56" fill="#4a50c4" fill-opacity="0.75"/>
<circle cx="424.6" cy="479.7" r="0.90" fill="#4a50c4" fill-opacity="0.82"/>
<circle cx="424.9" cy="479.1" r="0.73" fill="#4a50c4" fill-opacity="0.82"/>
<circle cx="424.7" cy="479.6" r="0.58" fill="#4a50c4" fill-opacity="0.82"/>
<circle cx="396.9" cy="495.2" r="1.84" fill="#4a50c4" fill-opacity="0.63"/>
<circle cx="439.1" cy="471.7" r="1.26" fill="#4a50c4" fill-opacity="0.81"/>
<circle cx="438.7" cy="471.5" r="0.78" fill="#4a50c4" fill-opacity="0.81"/>
<circle cx="386.8" cy="472.2" r="1.96" fill="#4a50c4" fill-opacity="0.69"/>
<circle cx="386.8" cy="473.7" r="1.11" fill="#4a50c4" fill-opacity="0.69"/>
<circle cx="385.5" cy="471.7" r="1.70" fill="#4a50c4" fill-opacity="0.69"/>
<circle cx="421.9" cy="467.7" r="2.04" fill="#4a50c4" fill-opacity="0.65"/>
<circle cx="423.3" cy="468.1" r="1.61" fill="#4a50c4" fill-opacity="0.65"/>
<circle cx="421.3" cy="466.6" r="1.76" fill="#4a50c4" fill-opacity="0.65"/>
<circle cx="426.5" cy="470.2" r="1.95" fill="#4a50c4" fill-opacity="0.64"/>
<circle cx="389.8" cy="500.1" r="1.20" fill="#4a50c4" fill-opacity="0.86"/>
<circle cx="390.3" cy="499.6" r="0.88" fill="#4a50c4" fill-opacity="0.86"/>
<circle cx="390.8" cy="500.0" r="0.79" fill="#4a50c4" fill-opacity="0.86"/>
<circle cx="421.4" cy="439.1" r="1.41" fill="#4a50c4" fill-opacity="0.59"/>
<circle cx="421.5" cy="439.3" r="0.78" fill="#4a50c4" fill-opacity="0.59"/>
<circle cx="421.9" cy="487.4" r="0.91" fill="#4a50c4" fill-opacity="0.52"/>
<circle cx="421.2" cy="487.1" r="0.58" fill="#4a50c4" fill-opacity="0.52"/>
<circle cx="421.3" cy="487.7" r="0.80" fill="#4a50c4" fill-opacity="0.52"/>
<circle cx="375.8" cy="490.2" r="0.96" fill="#4a50c4" fill-opacity="0.80"/>
<circle cx="375.7" cy="489.6" r="0.85" fill="#4a50c4" fill-opacity="0.80"/>
<circle cx="376.2" cy="490.3" r="0.71" fill="#4a50c4" fill-opacity="0.80"/>
<circle cx="380.0" cy="443.7" r="0.99" fill="#4a50c4" fill-opacity="0.56"/>
<circle cx="389.2" cy="445.9" r="1.38" fill="#4a50c4" fill-opacity="0.54"/>
<circle cx="419.4" cy="472.0" r="1.03" fill="#4a50c4" fill-opacity="0.68"/>
<circle cx="442.0" cy="468.6" r="1.61" fill="#4a50c4" fill-opacity="0.57"/>
<circle cx="441.9" cy="469.8" r="0.90" fill="#4a50c4" fill-opacity="0.57"/>
<circle cx="427.6" cy="477.9" r="1.08" fill="#4a50c4" fill-opacity="0.66"/>
<circle cx="427.2" cy="477.3" r="0.84" fill="#4a50c4" fill-opacity="0.66"/>
<circle cx="434.5" cy="442.7" r="1.09" fill="#4a50c4" fill-opacity="0.84"/>
<circle cx="381.8" cy="493.1" r="1.07" fill="#4a50c4" fill-opacity="0.72"/>
<circle cx="380.9" cy="493.9" r="0.86" fill="#4a50c4" fill-opacity="0.72"/>
<circle cx="381.3" cy="493.7" r="0.77" fill="#4a50c4" fill-opacity="0.72"/>
<circle cx="424.5" cy="428.2" r="2.23" fill="#4a50c4" fill-opacity="0.57"/>
<circle cx="424.1" cy="428.2" r="1.71" fill="#4a50c4" fill-opacity="0.57"/>
<circle cx="404.7" cy="495.1" r="1.20" fill="#4a50c4" fill-opacity="0.94"/>
<circle cx="403.8" cy="495.0" r="0.78" fill="#4a50c4" fill-opacity="0.94"/>
<circle cx="393.6" cy="430.5" r="0.95" fill="#4a50c4" fill-opacity="0.57"/>
<circle cx="394.0" cy="430.4" r="0.51" fill="#4a50c4" fill-opacity="0.57"/>
<circle cx="402.5" cy="431.7" r="0.95" fill="#4a50c4" fill-opacity="0.70"/>
<circle cx="421.9" cy="460.0" r="1.10" fill="#4a50c4" fill-opacity="0.66"/>
<circle cx="421.8" cy="459.4" r="0.72" fill="#4a50c4" fill-opacity="0.66"/>
<circle cx="422.4" cy="460.8" r="0.81" fill="#4a50c4" fill-opacity="0.66"/>
<circle cx="406.1" cy="468.3" r="1.81" fill="#4a50c4" fill-opacity="0.94"/>
<circle cx="407.2" cy="468.2" r="1.06" fill="#4a50c4" fill-opacity="0.94"/>
<circle cx="413.5" cy="423.6" r="1.36" fill="#4a50c4" fill-opacity="0.69"/>
<circle cx="413.2" cy="423.5" r="1.01" fill="#4a50c4" fill-opacity="0.69"/>
<circle cx="414.4" cy="423.3" r="1.17" fill="#4a50c4" fill-opacity="0.69"/>
<circle cx="434.1" cy="451.2" r="2.03" fill="#4a50c4" fill-opacity="0.67"/>
<circle cx="432.9" cy="452.3" r="1.07" fill="#4a50c4" fill-opacity="0.67"/>
<circle cx="429.9" cy="480.7" r="1.49" fill="#4a50c4" fill-opacity="0.83"/>
<circle cx="439.1" cy="469.4" r="1.01" fill="#4a50c4" fill-opacity="0.92"/>
<circle cx="396.4" cy="488.6" r="2.24" fill="#4a50c4" fill-opacity="0.77"/>
<circle cx="395.5" cy="488.5" r="1.38" fill="#4a50c4" fill-opacity="0.77"/>
<circle cx="379.2" cy="462.9" r="0.90" fill="#4a50c4" fill-opacity="0.81"/>
<circle cx="379.8" cy="462.7" r="0.48" fill="#4a50c4" fill-opacity="0.81"/>
<circle cx="379.7" cy="463.4" r="0.73" fill="#4a50c4" fill-opacity="0.81"/>
<circle cx="393.0" cy="489.5" r="0.94" fill="#4a50c4" fill-opacity="0.64"/>
<circle cx="392.6" cy="488.7" r="0.61" fill="#4a50c4" fill-opacity="0.64"/>
<circle cx="404.7" cy="498.8" r="0.96" fill="#4a50c4" fill-opacity="0.76"/>
<circle cx="404.6" cy="499.5" r="0.73" fill="#4a50c4" fill-opacity="0.76"/>
<circle cx="405.4" cy="499.3" r="0.70" fill="#4a50c4" fill-opacity="0.76"/>
<circle cx="423.8" cy="493.6" r="1.29" fill="#4a50c4" fill-opacity="0.85"/>
<circle cx="423.9" cy="493.1" r="0.66" fill="#4a50c4" fill-opacity="0.85"/>
<circle cx="423.6" cy="493.4" r="0.96" fill="#4a50c4" fill-opacity="0.85"/>
<circle cx="422.6" cy="451.3" r="1.79" fill="#4a50c4" fill-opacity="0.63"/>
<circle cx="422.5" cy="492.5" r="0.95" fill="#4a50c4" fill-opacity="0.55"/>
<circle cx="422.0" cy="492.5" r="0.83" fill="#4a50c4" fill-opacity="0.55"/>
<circle cx="422.6" cy="492.5" r="0.53" fill="#4a50c4" fill-opacity="0.55"/>
<circle cx="376.9" cy="448.8" r="1.21" fill="#4a50c4" fill-opacity="0.87"/>
<circle cx="402.7" cy="491.5" r="2.14" fill="#4a50c4" fill-opacity="0.78"/>
<circle cx="402.8" cy="492.6" r="1.20" fill="#4a50c4" fill-opacity="0.78"/>
<circle cx="442.5" cy="472.9" r="1.01" fill="#4a50c4" fill-opacity="0.94"/>
<circle cx="406.8" cy="496.6" r="1.16" fill="#4a50c4" fill-opacity="0.54"/>
<circle cx="374.6" cy="466.3" r="1.13" fill="#4a50c4" fill-opacity="0.73"/>
<circle cx="382.9" cy="474.5" r="1.61" fill="#4a50c4" fill-opacity="0.72"/>
<circle cx="408.7" cy="488.1" r="1.09" fill="#4a50c4" fill-opacity="0.85"/>
<circle cx="408.6" cy="488.7" r="0.86" fill="#4a50c4" fill-opacity="0.85"/>
<circle cx="408.2" cy="488.3" r="0.93" fill="#4a50c4" fill-opacity="0.85"/>
<circle cx="427.8" cy="463.6" r="1.29" fill="#4a50c4" fill-opacity="0.75"/>
<circle cx="427.9" cy="464.2" r="0.74" fill="#4a50c4" fill-opacity="0.75"/>
<circle cx="427.5" cy="464.5" r="0.98" fill="#4a50c4" fill-opacity="0.75"/>
<circle cx="395.5" cy="498.2" r="1.73" fill="#4a50c4" fill-opacity="0.61"/>
<circle cx="395.6" cy="497.7" r="1.01" fill="#4a50c4" fill-opacity="0.61"/>
<circle cx="395.1" cy="499.1" r="1.39" fill="#4a50c4" fill-opacity="0.61"/>
<circle cx="387.9" cy="458.2" r="1.01" fill="#4a50c4" fill-opacity="0.94"/>
<circle cx="435.2" cy="473.4" r="1.17" fill="#4a50c4" fill-opacity="0.78"/>
<circle cx="435.4" cy="473.2" r="0.80" fill="#4a50c4" fill-opacity="0.78"/>
<circle cx="436.0" cy="473.9" r="0.65" fill="#4a50c4" fill-opacity="0.78"/>
<circle cx="396.1" cy="486.6" r="1.11" fill="#4a50c4" fill-opacity="0.70"/>
<circle cx="377.0" cy="438.2" r="2.49" fill="#4a50c4" fill-opacity="0.95"/>
<circle cx="376.9" cy="439.3" r="1.87" fill="#4a50c4" fill-opacity="0.95"/>
<circle cx="378.3" cy="436.4" r="1.87" fill="#4a50c4" fill-opacity="0.95"/>
<circle cx="407.2" cy="492.9" r="1.32" fill="#4a50c4" fill-opacity="0.60"/>
<circle cx="406.4" cy="492.2" r="0.87" fill="#4a50c4" fill-opacity="0.60"/>
<circle cx="398.2" cy="424.5" r="2.21" fill="#4a50c4" fill-opacity="0.89"/>
<circle cx="442.2" cy="465.3" r="1.36" fill="#4a50c4" fill-opacity="0.64"/>
<circle cx="443.2" cy="464.2" r="1.10" fill="#4a50c4" fill-opacity="0.64"/>
<circle cx="396.8" cy="497.4" r="1.25" fill="#4a50c4" fill-opacity="0.91"/>
<circle cx="420.2" cy="499.5" r="2.20" fill="#4a50c4" fill-opacity="0.95"/>
<circle cx="405.6" cy="496.6" r="2.32" fill="#4a50c4" fill-opacity="0.66"/>
<circle cx="400.9" cy="429.5" r="2.00" fill="#4a50c4" fill-opacity="0.66"/>
<circle cx="402.4" cy="430.7" r="1.78" fill="#4a50c4" fill-opacity="0.66"/>
<circle cx="402.5" cy="430.6" r="1.26" fill="#4a50c4" fill-opacity="0.66"/>
<circle cx="393.5" cy="498.9" r="1.41" fill="#4a50c4" fill-opacity="0.54"/>
<circle cx="393.0" cy="499.3" r="0.89" fill="#4a50c4" fill-opacity="0.54"/>
<circle cx="394.6" cy="498.3" r="1.21" fill="#4a50c4" fill-opacity="0.54"/>
<circle cx="418.0" cy="451.3" r="1.46" fill="#4a50c4" fill-opacity="0.90"/>
<circle cx="402.8" cy="464.1" r="1.17" fill="#4a50c4" fill-opacity="0.68"/>
<circle cx="403.0" cy="464.7" r="0.83" fill="#4a50c4" fill-opacity="0.68"/>
<circle cx="429.2" cy="492.1" r="1.29" fill="#4a50c4" fill-opacity="0.73"/>
<circle cx="429.7" cy="492.4" r="1.15" fill="#4a50c4" fill-opacity="0.73"/>
<circle cx="429.7" cy="492.5" r="1.03" fill="#4a50c4" fill-opacity="0.73"/>
<circle cx="434.5" cy="477.1" r="1.95" fill="#4a50c4" fill-opacity="0.58"/>
<circle cx="434.3" cy="477.9" r="1.63" fill="#4a50c4" fill-opacity="0.58"/>
<circle cx="433.3" cy="476.1" r="1.16" fill="#4a50c4" fill-opacity="0.58"/>
<circle cx="383.9" cy="484.4" r="1.15" fill="#4a50c4" fill-opacity="0.84"/>
<circle cx="384.5" cy="483.8" r="0.86" fill="#4a50c4" fill-opacity="0.84"/>
<circle cx="414.3" cy="470.0" r="1.22" fill="#4a50c4" fill-opacity="0.59"/>
<circle cx="413.5" cy="470.6" r="0.71" fill="#4a50c4" fill-opacity="0.59"/>
<circle cx="415.6" cy="497.1" r="1.32" fill="#4a50c4" fill-opacity="0.78"/>
<circle cx="414.5" cy="498.8" r="1.42" fill="#4a50c4" fill-opacity="0.75"/>
<circle cx="414.9" cy="498.8" r="0.85" fill="#4a50c4" fill-opacity="0.75"/>
<circle cx="394.4" cy="461.7" r="1.96" fill="#4a50c4" fill-opacity="0.90"/>
<circle cx="394.4" cy="461.0" r="1.12" fill="#4a50c4" fill-opacity="0.90"/>
<circle cx="424.1" cy="466.5" r="1.07" fill="#4a50c4" fill-opacity="0.95"/>
<circle cx="368.3" cy="457.5" r="1.82" fill="#4a50c4" fill-opacity="0.91"/>
<circle cx="368.1" cy="458.7" r="1.60" fill="#4a50c4" fill-opacity="0.91"/>
<circle cx="399.1" cy="440.6" r="1.63" fill="#4a50c4" fill-opacity="0.52"/>
<circle cx="400.1" cy="440.0" r="1.26" fill="#4a50c4" fill-opacity="0.52"/>
<circle cx="399.0" cy="439.7" r="1.44" fill="#4a50c4" fill-opacity="0.52"/>
<circle cx="389.7" cy="491.6" r="0.90" fill="#4a50c4" fill-opacity="0.80"/>
<circle cx="390.0" cy="491.7" r="0.59" fill="#4a50c4" fill-opacity="0.80"/>
<circle cx="441.3" cy="461.7" r="1.82" fill="#4a50c4" fill-opacity="0.74"/>
<circle cx="442.6" cy="461.6" r="1.11" fill="#4a50c4" fill-opacity="0.74"/>
<circle cx="387.3" cy="429.1" r="0.98" fill="#4a50c4" fill-opacity="0.58"/>
<circle cx="387.2" cy="429.5" r="0.73" fill="#4a50c4" fill-opacity="0.58"/>
<circle cx="375.5" cy="461.0" r="0.93" fill="#4a50c4" fill-opacity="0.57"/>
<circle cx="375.1" cy="461.4" r="0.77" fill="#4a50c4" fill-opacity="0.57"/>
<circle cx="375.4" cy="460.4" r="0.73" fill="#4a50c4" fill-opacity="0.57"/>
<circle cx="443.2" cy="460.2" r="0.91" fill="#4a50c4" fill-opacity="0.55"/>
<circle cx="385.9" cy="448.3" r="1.18" fill="#4a50c4" fill-opacity="0.89"/>
<circle cx="385.6" cy="448.4" r="1.05" fill="#4a50c4" fill-opacity="0.89"/>
<circle cx="433.6" cy="459.9" r="0.92" fill="#4a50c4" fill-opacity="0.80"/>
<circle cx="410.4" cy="473.5" r="1.52" fill="#4a50c4" fill-opacity="0.88"/>
<circle cx="410.7" cy="473.5" r="1.05" fill="#4a50c4" fill-opacity="0.88"/>
<circle cx="410.7" cy="473.8" r="1.36" fill="#4a50c4" fill-opacity="0.88"/>
<circle cx="394.1" cy="463.5" r="1.55" fill="#4a50c4" fill-opacity="0.70"/>
<circle cx="393.1" cy="463.4" r="1.25" fill="#4a50c4" fill-opacity="0.70"/>
<circle cx="407.7" cy="461.4" r="2.34" fill="#4a50c4" fill-opacity="0.64"/>
<circle cx="440.3" cy="463.5" r="2.03" fill="#4a50c4" fill-opacity="0.51"/>
<circle cx="441.6" cy="464.8" r="1.22" fill="#4a50c4" fill-opacity="0.51"/>
<circle cx="439.5" cy="463.6" r="1.07" fill="#4a50c4" fill-opacity="0.51"/>
<circle cx="426.5" cy="490.2" r="2.45" fill="#4a50c4" fill-opacity="0.72"/>
<circle cx="382.4" cy="490.7" r="1.00" fill="#4a50c4" fill-opacity="0.57"/>
<circle cx="382.5" cy="490.2" r="0.58" fill="#4a50c4" fill-opacity="0.57"/>
<circle cx="431.0" cy="456.8" r="0.90" fill="#4a50c4" fill-opacity="0.51"/>
<circle cx="430.5" cy="456.7" r="0.50" fill="#4a50c4" fill-opacity="0.51"/>
<circle cx="371.3" cy="470.8" r="1.91" fill="#4a50c4" fill-opacity="0.77"/>
<circle cx="371.3" cy="471.2" r="0.96" fill="#4a50c4" fill-opacity="0.77"/>
<circle cx="390.7" cy="477.5" r="2.26" fill="#4a50c4" fill-opacity="0.59"/>
<circle cx="392.4" cy="476.3" r="1.40" fill="#4a50c4" fill-opacity="0.59"/>
<circle cx="426.4" cy="453.7" r="0.95" fill="#4a50c4" fill-opacity="0.72"/>
<circle cx="427.1" cy="453.7" r="0.69" fill="#4a50c4" fill-opacity="0.72"/>
<circle cx="389.8" cy="460.4" r="0.92" fill="#4a50c4" fill-opacity="0.64"/>
<circle cx="416.8" cy="468.0" r="0.91" fill="#4a50c4" fill-opacity="0.68"/>
<circle cx="416.8" cy="468.0" r="0.65" fill="#4a50c4" fill-opacity="0.68"/>
<circle cx="420.3" cy="483.8" r="1.39" fill="#4a50c4" fill-opacity="0.88"/>
<circle cx="400.4" cy="487.0" r="1.40" fill="#4a50c4" fill-opacity="0.77"/>
<circle cx="438.7" cy="467.2" r="1.68" fill="#4a50c4" fill-opacity="0.51"/>
<circle cx="437.9" cy="467.0" r="0.97" fill="#4a50c4" fill-opacity="0.51"/>
<circle cx="439.7" cy="467.2" r="0.93" fill="#4a50c4" fill-opacity="0.51"/>
<circle cx="399.3" cy="424.0" r="1.41" fill="#4a50c4" fill-opacity="0.79"/>
<circle cx="400.0" cy="422.9" r="1.16" fill="#4a50c4" fill-opacity="0.79"/>
<circle cx="400.1" cy="423.6" r="1.00" fill="#4a50c4" fill-opacity="0.79"/>
<circle cx="430.8" cy="457.7" r="1.66" fill="#4a50c4" fill-opacity="0.66"/>
<circle cx="409.2" cy="451.7" r="0.91" fill="#4a50c4" fill-opacity="0.65"/>
<circle cx="434.3" cy="483.5" r="2.45" fill="#4a50c4" fill-opacity="0.56"/>
<circle cx="396.9" cy="478.3" r="0.98" fill="#4a50c4" fill-opacity="0.86"/>
<circle cx="396.6" cy="477.9" r="0.63" fill="#4a50c4" fill-opacity="0.86"/>
<circle cx="397.6" cy="478.3" r="0.82" fill="#4a50c4" fill-opacity="0.86"/>
<circle cx="390.5" cy="441.9" r="2.01" fill="#4a50c4" fill-opacity="0.78"/>
<circle cx="389.3" cy="441.3" r="1.44" fill="#4a50c4" fill-opacity="0.78"/>
<circle cx="391.0" cy="441.0" r="1.05" fill="#4a50c4" fill-opacity="0.78"/>
<circle cx="438.0" cy="457.9" r="1.08" fill="#4a50c4" fill-opacity="0.50"/>
<circle cx="438.2" cy="458.6" r="0.61" fill="#4a50c4" fill-opacity="0.50"/>
<circle cx="389.9" cy="488.3" r="1.49" fill="#4a50c4" fill-opacity="0.84"/>
<circle cx="390.2" cy="489.4" r="1.21" fill="#4a50c4" fill-opacity="0.84"/>
<circle cx="434.0" cy="460.9" r="0.90" fill="#4a50c4" fill-opacity="0.93"/>
<circle cx="433.4" cy="461.3" r="0.65" fill="#4a50c4" fill-opacity="0.93"/>
<circle cx="433.5" cy="461.5" r="0.53" fill="#4a50c4" fill-opacity="0.93"/>
<circle cx="401.4" cy="453.3" r="0.90" fill="#4a50c4" fill-opacity="0.66"/>
<circle cx="401.8" cy="453.8" r="0.50" fill="#4a50c4" fill-opacity="0.66"/>
<circle cx="401.5" cy="453.6" r="0.66" fill="#4a50c4" fill-opacity="0.66"/>
<circle cx="370.5" cy="476.8" r="0.93" fill="#4a50c4" fill-opacity="0.89"/>
<circle cx="388.3" cy="472.2" r="1.45" fill="#4a50c4" fill-opacity="0.77"/>
<circle cx="388.5" cy="472.3" r="1.06" fill="#4a50c4" fill-opacity="0.77"/>
<circle cx="388.9" cy="472.2" r="1.06" fill="#4a50c4" fill-opacity="0.77"/>
<circle cx="432.6" cy="454.7" r="1.10" fill="#4a50c4" fill-opacity="0.79"/>
<circle cx="431.9" cy="455.4" r="0.59" fill="#4a50c4" fill-opacity="0.79"/>
<circle cx="433.0" cy="455.4" r="0.92" fill="#4a50c4" fill-opacity="0.79"/>
<circle cx="389.7" cy="488.5" r="1.42" fill="#4a50c4" fill-opacity="0.90"/>
<circle cx="390.2" cy="489.0" r="1.16" fill="#4a50c4" fill-opacity="0.90"/>
<circle cx="388.7" cy="489.0" r="1.08" fill="#4a50c4" fill-opacity="0.90"/>
<circle cx="411.2" cy="448.8" r="1.16" fill="#4a50c4" fill-opacity="0.95"/>
<circle cx="410.7" cy="448.4" r="1.02" fill="#4a50c4" fill-opacity="0.95"/>
<circle cx="411.5" cy="449.6" r="0.75" fill="#4a50c4" fill-opacity="0.95"/>
<circle cx="396.8" cy="436.8" r="0.90" fill="#4a50c4" fill-opacity="0.91"/>
<circle cx="397.2" cy="437.3" r="0.62" fill="#4a50c4" fill-opacity="0.91"/>
<circle cx="396.6" cy="436.6" r="0.63" fill="#4a50c4" fill-opacity="0.91"/>
<circle cx="417.4" cy="424.9" r="2.08" fill="#4a50c4" fill-opacity="0.91"/>
<circle cx="416.7" cy="425.0" r="1.81" fill="#4a50c4" fill-opacity="0.91"/>
<circle cx="416.8" cy="426.1" r="1.21" fill="#4a50c4" fill-opacity="0.91"/>
<circle cx="434.6" cy="469.7" r="1.02" fill="#4a50c4" fill-opacity="0.74"/>
<circle cx="434.8" cy="469.8" r="0.84" fill="#4a50c4" fill-opacity="0.74"/>
<circle cx="381.5" cy="447.8" r="1.06" fill="#4a50c4" fill-opacity="0.82"/>
<circle cx="396.2" cy="431.4" r="0.90" fill="#4a50c4" fill-opacity="0.60"/>
<circle cx="438.9" cy="464.4" r="1.51" fill="#4a50c4" fill-opacity="0.94"/>
<circle cx="438.5" cy="465.0" r="0.80" fill="#4a50c4" fill-opacity="0.94"/>
<circle cx="404.5" cy="491.6" r="1.35" fill="#4a50c4" fill-opacity="0.85"/>
<circle cx="433.4" cy="478.8" r="1.18" fill="#4a50c4" fill-opacity="0.50"/>
<circle cx="372.2" cy="468.9" r="2.28" fill="#4a50c4" fill-opacity="0.66"/>
<circle cx="370.8" cy="469.5" r="1.75" fill="#4a50c4" fill-opacity="0.66"/>
<circle cx="373.0" cy="468.2" r="1.89" fill="#4a50c4" fill-opacity="0.66"/>
<circle cx="426.7" cy="484.5" r="0.91" fill="#4a50c4" fill-opacity="0.86"/>
<circle cx="426.6" cy="484.8" r="0.62" fill="#4a50c4" fill-opacity="0.86"/>
<circle cx="426.9" cy="484.2" r="0.50" fill="#4a50c4" fill-opacity="0.86"/>
<circle cx="381.8" cy="486.8" r="0.90" fill="#4a50c4" fill-opacity="0.51"/>
<circle cx="381.7" cy="486.8" r="0.46" fill="#4a50c4" fill-opacity="0.51"/>
<circle cx="381.3" cy="486.7" r="0.73" fill="#4a50c4" fill-opacity="0.51"/>
<circle cx="425.9" cy="485.8" r="1.47" fill="#4a50c4" fill-opacity="0.67"/>
<circle cx="394.9" cy="487.8" r="0.92" fill="#4a50c4" fill-opacity="0.60"/>
<circle cx="394.9" cy="488.0" r="0.66" fill="#4a50c4" fill-opacity="0.60"/>
<circle cx="395.5" cy="488.1" r="0.82" fill="#4a50c4" fill-opacity="0.60"/>
<circle cx="387.7" cy="437.8" r="1.24" fill="#4a50c4" fill-opacity="0.60"/>
<circle cx="387.2" cy="437.6" r="0.69" fill="#4a50c4" fill-opacity="0.60"/>
<circle cx="396.3" cy="471.5" r="0.93" fill="#4a50c4" fill-opacity="0.73"/>
<circle cx="375.1" cy="451.7" r="0.93" fill="#4a50c4" fill-opacity="0.73"/>
<circle cx="405.6" cy="439.1" r="2.45" fill="#4a50c4" fill-opacity="0.89"/>
<circle cx="412.3" cy="456.5" r="1.09" fill="#4a50c4" fill-opacity="0.66"/>
<circle cx="435.1" cy="448.7" r="2.34" fill="#4a50c4" fill-opacity="0.81"/>
<circle cx="427.5" cy="447.7" r="0.92" fill="#4a50c4" fill-opacity="0.65"/>
<circle cx="429.9" cy="466.2" r="1.14" fill="#4a50c4" fill-opacity="0.92"/>
<circle cx="430.2" cy="465.7" r="0.88" fill="#4a50c4" fill-opacity="0.92"/>
<circle cx="430.2" cy="466.3" r="0.94" fill="#4a50c4" fill-opacity="0.92"/>
<circle cx="418.5" cy="463.5" r="1.37" fill="#4a50c4" fill-opacity="0.75"/>
<circle cx="419.0" cy="463.0" r="1.19" fill="#4a50c4" fill-opacity="0.75"/>
<circle cx="428.6" cy="450.6" r="2.17" fill="#4a50c4" fill-opacity="0.70"/>
<circle cx="428.5" cy="451.3" r="1.59" fill="#4a50c4" fill-opacity="0.70"/>
<circle cx="427.4" cy="448.9" r="1.14" fill="#4a50c4" fill-opacity="0.70"/>
<circle cx="381.4" cy="484.7" r="0.91" fill="#4a50c4" fill-opacity="0.74"/>
<circle cx="415.9" cy="483.8" r="1.11" fill="#4a50c4" fill-opacity="0.57"/>
<circle cx="415.6" cy="483.1" r="0.86" fill="#4a50c4" fill-opacity="0.57"/>
<circle cx="399.0" cy="447.8" r="1.23" fill="#4a50c4" fill-opacity="0.78"/>
<circle cx="398.5" cy="447.2" r="0.73" fill="#4a50c4" fill-opacity="0.78"/>
<circle cx="399.8" cy="448.0" r="0.80" fill="#4a50c4" fill-opacity="0.78"/>
<circle cx="437.1" cy="480.0" r="0.99" fill="#4a50c4" fill-opacity="0.61"/>
<circle cx="414.0" cy="500.3" r="2.08" fill="#4a50c4" fill-opacity="0.62"/>
<circle cx="413.3" cy="499.4" r="1.11" fill="#4a50c4" fill-opacity="0.62"/>
<circle cx="414.2" cy="501.1" r="1.60" fill="#4a50c4" fill-opacity="0.62"/>
<circle cx="417.8" cy="498.8" r="0.90" fill="#4a50c4" fill-opacity="0.62"/>
<circle cx="417.3" cy="498.6" r="0.66" fill="#4a50c4" fill-opacity="0.62"/>
<circle cx="418.1" cy="499.0" r="0.78" fill="#4a50c4" fill-opacity="0.62"/>
<circle cx="415.1" cy="468.4" r="1.75" fill="#4a50c4" fill-opacity="0.68"/>
<circle cx="413.9" cy="467.1" r="0.92" fill="#4a50c4" fill-opacity="0.68"/>
<circle cx="414.2" cy="468.0" r="0.92" fill="#4a50c4" fill-opacity="0.68"/>
<circle cx="437.2" cy="462.8" r="1.30" fill="#4a50c4" fill-opacity="0.56"/>
<circle cx="438.1" cy="462.6" r="1.03" fill="#4a50c4" fill-opacity="0.56"/>
<circle cx="401.5" cy="489.6" r="1.58" fill="#4a50c4" fill-opacity="0.94"/>
<circle cx="401.7" cy="489.4" r="0.93" fill="#4a50c4" fill-opacity="0.94"/>
<circle cx="401.8" cy="488.7" r="0.85" fill="#4a50c4" fill-opacity="0.94"/>
<circle cx="432.8" cy="484.8" r="1.53" fill="#4a50c4" fill-opacity="0.73"/>
<circle cx="432.0" cy="485.0" r="1.29" fill="#4a50c4" fill-opacity="0.73"/>
<circle cx="431.7" cy="485.8" r="1.05" fill="#4a50c4" fill-opacity="0.73"/>
<circle cx="414.6" cy="494.7" r="1.88" fill="#4a50c4" fill-opacity="0.80"/>
<circle cx="413.5" cy="495.6" r="1.19" fill="#4a50c4" fill-opacity="0.80"/>
<circle cx="423.5" cy="486.7" r="1.07" fill="#4a50c4" fill-opacity="0.92"/>
<circle cx="423.5" cy="486.2" r="0.73" fill="#4a50c4" fill-opacity="0.92"/>
<circle cx="437.6" cy="461.0" r="1.14" fill="#4a50c4" fill-opacity="0.58"/>
<circle cx="430.0" cy="475.3" r="1.00" fill="#4a50c4" fill-opacity="0.84"/>
<circle cx="394.0" cy="488.6" r="1.85" fill="#4a50c4" fill-opacity="0.65"/>
<circle cx="393.0" cy="488.9" r="1.50" fill="#4a50c4" fill-opacity="0.65"/>
<circle cx="413.2" cy="494.4" r="1.07" fill="#4a50c4" fill-opacity="0.82"/>
<circle cx="412.9" cy="494.6" r="0.57" fill="#4a50c4" fill-opacity="0.82"/>
<circle cx="434.2" cy="472.6" r="1.60" fill="#4a50c4" fill-opacity="0.94"/>
<circle cx="434.8" cy="471.4" r="1.06" fill="#4a50c4" fill-opacity="0.94"/>
<circle cx="395.7" cy="456.0" r="1.17" fill="#4a50c4" fill-opacity="0.56"/>
<circle cx="436.3" cy="455.5" r="0.92" fill="#4a50c4" fill-opacity="0.55"/>
<circle cx="436.5" cy="455.0" r="0.68" fill="#4a50c4" fill-opacity="0.55"/>
<circle cx="429.1" cy="484.2" r="1.06" fill="#4a50c4" fill-opacity="0.64"/>
<circle cx="382.1" cy="475.9" r="1.27" fill="#4a50c4" fill-opacity="0.71"/>
<circle cx="431.6" cy="487.1" r="0.90" fill="#4a50c4" fill-opacity="0.65"/>
<circle cx="424.7" cy="484.5" r="0.90" fill="#4a50c4" fill-opacity="0.92"/>
<circle cx="369.7" cy="477.1" r="1.79" fill="#4a50c4" fill-opacity="0.53"/>
<circle cx="427.3" cy="494.5" r="2.23" fill="#4a50c4" fill-opacity="0.65"/>
<circle cx="427.5" cy="493.2" r="1.75" fill="#4a50c4" fill-opacity="0.65"/>
<circle cx="425.6" cy="495.9" r="1.96" fill="#4a50c4" fill-opacity="0.65"/>
<circle cx="391.2" cy="500.2" r="2.06" fill="#4a50c4" fill-opacity="0.56"/>
<circle cx="392.6" cy="498.6" r="1.59" fill="#4a50c4" fill-opacity="0.56"/>
<circle cx="411.5" cy="486.5" r="2.15" fill="#4a50c4" fill-opacity="0.75"/>
<circle cx="409.8" cy="487.6" r="1.64" fill="#4a50c4" fill-opacity="0.75"/>
<circle cx="403.6" cy="494.9" r="0.90" fill="#4a50c4" fill-opacity="0.87"/>
<circle cx="404.0" cy="495.5" r="0.52" fill="#4a50c4" fill-opacity="0.87"/>
<circle cx="403.1" cy="495.3" r="0.69" fill="#4a50c4" fill-opacity="0.87"/>
<circle cx="430.7" cy="458.0" r="1.91" fill="#4a50c4" fill-opacity="0.93"/>
<circle cx="431.1" cy="456.6" r="1.25" fill="#4a50c4" fill-opacity="0.93"/>
<circle cx="398.9" cy="495.2" r="2.12" fill="#4a50c4" fill-opacity="0.55"/>
<circle cx="398.4" cy="495.7" r="1.70" fill="#4a50c4" fill-opacity="0.55"/>
<circle cx="398.9" cy="494.1" r="1.55" fill="#4a50c4" fill-opacity="0.55"/>
<circle cx="399.2" cy="485.5" r="1.46" fill="#4a50c4" fill-opacity="0.89"/>
<circle cx="399.7" cy="484.8" r="1.17" fill="#4a50c4" fill-opacity="0.89"/>
<circle cx="390.0" cy="497.7" r="1.27" fill="#4a50c4" fill-opacity="0.89"/>
<circle cx="389.7" cy="498.0" r="1.14" fill="#4a50c4" fill-opacity="0.89"/>
<circle cx="428.7" cy="444.6" r="1.74" fill="#4a50c4" fill-opacity="0.72"/>
<circle cx="400.0" cy="498.7" r="0.95" fill="#4a50c4" fill-opacity="0.94"/>
<circle cx="400.0" cy="499.2" r="0.48" fill="#4a50c4" fill-opacity="0.94"/>
<circle cx="426.6" cy="451.3" r="1.39" fill="#4a50c4" fill-opacity="0.69"/>
<circle cx="422.6" cy="478.0" r="1.18" fill="#4a50c4" fill-opacity="0.59"/>
<circle cx="423.0" cy="478.8" r="0.96" fill="#4a50c4" fill-opacity="0.59"/>
<circle cx="423.3" cy="478.7" r="1.02" fill="#4a50c4" fill-opacity="0.59"/>
<circle cx="394.0" cy="427.3" r="0.90" fill="#4a50c4" fill-opacity="0.53"/>
<circle cx="394.2" cy="427.5" r="0.55" fill="#4a50c4" fill-opacity="0.53"/>
<circle cx="380.1" cy="486.5" r="1.59" fill="#4a50c4" fill-opacity="0.55"/>
<circle cx="378.9" cy="487.2" r="1.08" fill="#4a50c4" fill-opacity="0.55"/>
<circle cx="380.8" cy="487.5" r="1.14" fill="#4a50c4" fill-opacity="0.55"/>
<circle cx="410.9" cy="478.5" r="1.01" fill="#4a50c4" fill-opacity="0.80"/>
<circle cx="410.3" cy="478.6" r="0.60" fill="#4a50c4" fill-opacity="0.80"/>
<circle cx="438.2" cy="460.5" r="1.43" fill="#4a50c4" fill-opacity="0.70"/>
<circle cx="436.3" cy="464.9" r="1.26" fill="#4a50c4" fill-opacity="0.52"/>
<circle cx="438.3" cy="462.7" r="1.62" fill="#4a50c4" fill-opacity="0.75"/>
<circle cx="438.4" cy="461.7" r="1.09" fill="#4a50c4" fill-opacity="0.75"/>
<circle cx="414.7" cy="490.7" r="0.91" fill="#4a50c4" fill-opacity="0.51"/>
<circle cx="414.1" cy="490.0" r="0.48" fill="#4a50c4" fill-opacity="0.51"/>
<circle cx="401.0" cy="486.2" r="1.59" fill="#4a50c4" fill-opacity="0.73"/>
<circle cx="428.5" cy="456.8" r="1.01" fill="#4a50c4" fill-opacity="0.84"/>
<circle cx="428.0" cy="457.4" r="0.60" fill="#4a50c4" fill-opacity="0.84"/>
<circle cx="428.9" cy="456.2" r="0.89" fill="#4a50c4" fill-opacity="0.84"/>
<circle cx="416.7" cy="490.6" r="0.96" fill="#4a50c4" fill-opacity="0.88"/>
<circle cx="416.4" cy="491.2" r="0.79" fill="#4a50c4" fill-opacity="0.88"/>
<circle cx="387.1" cy="451.7" r="0.95" fill="#4a50c4" fill-opacity="0.83"/>
<circle cx="387.3" cy="451.9" r="0.57" fill="#4a50c4" fill-opacity="0.83"/>
<circle cx="386.6" cy="452.0" r="0.54" fill="#4a50c4" fill-opacity="0.83"/>
<circle cx="414.7" cy="488.8" r="1.71" fill="#4a50c4" fill-opacity="0.65"/>
<circle cx="413.5" cy="489.6" r="0.95" fill="#4a50c4" fill-opacity="0.65"/>
<circle cx="415.8" cy="489.9" r="0.90" fill="#4a50c4" fill-opacity="0.65"/>
<circle cx="414.2" cy="489.4" r="0.92" fill="#4a50c4" fill-opacity="0.62"/>
<circle cx="414.3" cy="488.9" r="0.66" fill="#4a50c4" fill-opacity="0.62"/>
<circle cx="414.6" cy="489.2" r="0.67" fill="#4a50c4" fill-opacity="0.62"/>
<circle cx="381.1" cy="493.1" r="0.91" fill="#4a50c4" fill-opacity="0.78"/>
<circle cx="380.5" cy="493.6" r="0.78" fill="#4a50c4" fill-opacity="0.78"/>
<circle cx="381.8" cy="492.9" r="0.72" fill="#4a50c4" fill-opacity="0.78"/>
<circle cx="373.1" cy="470.5" r="1.77" fill="#4a50c4" fill-opacity="0.95"/>
<circle cx="373.7" cy="470.5" r="0.98" fill="#4a50c4" fill-opacity="0.95"/>
<circle cx="432.5" cy="470.5" r="1.19" fill="#4a50c4" fill-opacity="0.71"/>
<circle cx="392.9" cy="455.1" r="1.43" fill="#4a50c4" fill-opacity="0.64"/>
<circle cx="393.1" cy="455.9" r="1.28" fill="#4a50c4" fill-opacity="0.64"/>
<circle cx="385.9" cy="488.0" r="0.97" fill="#4a50c4" fill-opacity="0.64"/>
<circle cx="402.3" cy="484.7" r="2.20" fill="#4a50c4" fill-opacity="0.71"/>
<circle cx="400.9" cy="485.7" r="1.83" fill="#4a50c4" fill-opacity="0.71"/>
<circle cx="410.6" cy="470.5" r="1.39" fill="#4a50c4" fill-opacity="0.55"/>
<circle cx="410.2" cy="470.5" r="0.94" fill="#4a50c4" fill-opacity="0.55"/>
<circle cx="410.7" cy="471.2" r="1.02" fill="#4a50c4" fill-opacity="0.55"/>
<circle cx="413.0" cy="486.7" r="1.84" fill="#4a50c4" fill-opacity="0.80"/>
<circle cx="413.6" cy="485.6" r="1.47" fill="#4a50c4" fill-opacity="0.80"/>
<circle cx="403.2" cy="490.0" r="1.11" fill="#4a50c4" fill-opacity="0.81"/>
<circle cx="402.9" cy="490.7" r="0.60" fill="#4a50c4" fill-opacity="0.81"/>
<circle cx="403.7" cy="490.3" r="0.68" fill="#4a50c4" fill-opacity="0.81"/>
<circle cx="401.7" cy="464.4" r="0.92" fill="#4a50c4" fill-opacity="0.57"/>
<circle cx="421.8" cy="488.8" r="1.41" fill="#4a50c4" fill-opacity="0.65"/>
<circle cx="421.7" cy="489.7" r="1.25" fill="#4a50c4" fill-opacity="0.65"/>
<circle cx="429.8" cy="451.4" r="1.35" fill="#4a50c4" fill-opacity="0.56"/>
<circle cx="428.9" cy="451.4" r="0.74" fill="#4a50c4" fill-opacity="0.56"/>
<circle cx="423.4" cy="429.9" r="0.91" fill="#4a50c4" fill-opacity="0.78"/>
<circle cx="422.8" cy="429.6" r="0.64" fill="#4a50c4" fill-opacity="0.78"/>
<circle cx="423.1" cy="430.3" r="0.78" fill="#4a50c4" fill-opacity="0.78"/>
<circle cx="393.3" cy="455.0" r="1.10" fill="#4a50c4" fill-opacity="0.81"/>
<circle cx="393.1" cy="454.6" r="0.85" fill="#4a50c4" fill-opacity="0.81"/>
<circle cx="426.6" cy="482.5" r="1.39" fill="#4a50c4" fill-opacity="0.77"/>
<circle cx="424.9" cy="489.7" r="1.08" fill="#4a50c4" fill-opacity="0.52"/>
<circle cx="424.8" cy="489.4" r="0.81" fill="#4a50c4" fill-opacity="0.52"/>
<circle cx="430.8" cy="434.4" r="0.90" fill="#4a50c4" fill-opacity="0.76"/>
<circle cx="430.9" cy="433.7" r="0.81" fill="#4a50c4" fill-opacity="0.76"/>
<circle cx="431.5" cy="434.3" r="0.67" fill="#4a50c4" fill-opacity="0.76"/>
<circle cx="420.0" cy="449.0" r="1.26" fill="#4a50c4" fill-opacity="0.73"/>
<circle cx="383.5" cy="428.1" r="0.95" fill="#4a50c4" fill-opacity="0.63"/>
<circle cx="383.5" cy="427.9" r="0.81" fill="#4a50c4" fill-opacity="0.63"/>
<circle cx="398.3" cy="492.7" r="1.54" fill="#4a50c4" fill-opacity="0.80"/>
<circle cx="398.1" cy="491.9" r="1.03" fill="#4a50c4" fill-opacity="0.80"/>
<circle cx="397.5" cy="491.7" r="1.12" fill="#4a50c4" fill-opacity="0.80"/>
<circle cx="433.6" cy="474.1" r="1.29" fill="#4a50c4" fill-opacity="0.76"/>
<circle cx="432.6" cy="473.3" r="0.92" fill="#4a50c4" fill-opacity="0.76"/>
<circle cx="433.5" cy="474.2" r="0.76" fill="#4a50c4" fill-opacity="0.76"/>
<circle cx="424.9" cy="464.0" r="2.12" fill="#4a50c4" fill-opacity="0.86"/>
<circle cx="426.3" cy="462.7" r="1.30" fill="#4a50c4" fill-opacity="0.86"/>
<circle cx="413.4" cy="483.7" r="1.38" fill="#4a50c4" fill-opacity="0.73"/>
<circle cx="439.1" cy="468.9" r="1.23" fill="#4a50c4" fill-opacity="0.71"/>
<circle cx="373.3" cy="449.2" r="1.09" fill="#4a50c4" fill-opacity="0.68"/>
<circle cx="416.4" cy="461.1" r="1.86" fill="#4a50c4" fill-opacity="0.76"/>
<circle cx="415.9" cy="459.7" r="1.04" fill="#4a50c4" fill-opacity="0.76"/>
<circle cx="407.3" cy="459.8" r="0.90" fill="#4a50c4" fill-opacity="0.67"/>
<circle cx="407.0" cy="459.3" r="0.73" fill="#4a50c4" fill-opacity="0.67"/>
</g></g>
<circle cx="404" cy="462.6" r="39.8" fill="none" stroke="#222" stroke-width="1.2"/>
<text x="2.4" y="14.5" font-size="18" text-anchor="start" font-weight="bold" fill="#000" >a</text>
<text x="225" y="15" font-size="18" text-anchor="start" font-weight="bold" fill="#000" >b</text>
<text x="1.8" y="200.7" font-size="18" text-anchor="start" font-weight="bold" fill="#000" >c</text>
<text x="223.6" y="205.1" font-size="18" text-anchor="start" font-weight="bold" fill="#000" >d</text>
<text x="1.8" y="388.7" font-size="18" text-anchor="start" font-weight="bold" fill="#000" >e</text>
<text x="223.5" y="388.4" font-size="18" text-anchor="start" font-weight="bold" fill="#000" >f</text>
</svg></body></html>
